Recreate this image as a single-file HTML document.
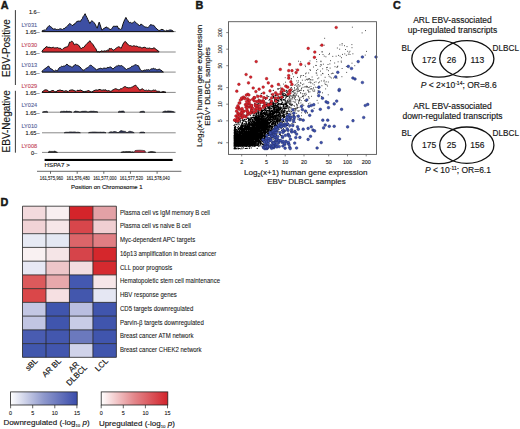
<!DOCTYPE html>
<html><head><meta charset="utf-8"><style>
html,body{margin:0;padding:0;background:#fff;}
body{width:520px;height:429px;overflow:hidden;}
svg{display:block;font-family:"Liberation Sans",sans-serif;}
text{fill:#161616;stroke:#161616;stroke-width:0.15px;}
.tk{font-size:5.4px;stroke-width:0.1px;}
.ly{font-size:5.6px;stroke-width:0.12px;}
.vt{font-size:8.5px;}
.vn{font-size:8.5px;}
.hl{font-size:6.7px;stroke-width:0.08px;}
.cl{font-size:8px;}
</style></head><body>
<svg width="520" height="429" viewBox="0 0 520 429">
<rect width="520" height="429" fill="#fff"/>
<line x1="42" y1="31.6" x2="175.7" y2="31.6" stroke="#7a7a7a" stroke-width="0.9"/>
<path d="M42.0,31.6 L42.0,30.9 L43.1,30.5 L44.3,30.0 L45.4,30.2 L46.4,29.2 L47.3,27.4 L48.2,26.7 L49.2,25.5 L50.4,26.5 L51.6,27.3 L52.8,28.9 L53.9,29.1 L55.1,28.8 L56.2,29.5 L57.5,29.4 L58.8,29.5 L59.7,28.9 L60.6,28.8 L61.5,29.1 L62.4,29.5 L63.3,28.6 L64.2,28.9 L65.3,27.5 L66.4,26.9 L67.4,26.2 L68.5,24.7 L69.6,23.5 L70.7,24.1 L71.9,25.4 L73.0,25.5 L74.0,24.0 L75.0,23.9 L76.0,22.3 L77.0,21.5 L78.1,21.1 L79.3,21.1 L80.4,21.5 L81.3,19.7 L82.3,18.7 L83.2,16.5 L84.2,15.3 L85.1,13.7 L86.0,15.8 L86.9,17.4 L87.8,19.4 L88.8,21.5 L89.8,23.5 L90.8,21.7 L91.8,20.8 L92.9,21.4 L94.1,22.7 L95.2,24.2 L96.2,26.4 L97.2,28.2 L98.2,25.1 L99.2,22.1 L100.1,24.6 L101.0,27.6 L101.9,30.2 L102.9,29.3 L104.0,28.3 L105.0,28.0 L106.0,26.8 L107.1,27.7 L108.2,27.9 L109.3,28.9 L110.8,29.6 L111.8,28.5 L112.7,27.2 L113.7,26.0 L114.9,26.4 L116.1,26.3 L117.3,26.0 L118.7,28.9 L119.7,28.7 L120.6,29.4 L121.6,28.9 L122.7,24.9 L123.8,21.7 L124.8,19.5 L125.9,17.4 L126.9,19.3 L127.8,20.4 L128.8,22.4 L129.8,22.7 L130.7,22.4 L131.7,23.2 L132.7,22.8 L133.6,22.2 L134.6,21.3 L135.6,22.2 L136.5,23.4 L137.5,23.9 L138.6,24.7 L139.6,26.0 L141.1,23.9 L142.3,25.1 L143.5,25.9 L144.7,26.8 L145.7,27.1 L146.6,27.2 L147.6,27.5 L148.6,26.9 L149.5,26.1 L150.5,24.6 L151.4,24.8 L152.4,25.2 L153.3,25.3 L154.2,25.7 L155.2,27.3 L156.1,28.2 L157.0,28.9 L158.1,30.2 L159.1,30.4 L160.1,30.4 L161.0,29.5 L162.0,29.4 L163.2,29.8 L164.4,30.7 L165.6,31.1 L166.6,30.3 L167.5,30.6 L168.5,30.4 L169.7,30.0 L170.9,30.0 L172.1,30.4 L173.5,31.4 L173.5,31.6Z" fill="#3d4fa3" stroke="#111" stroke-width="1.0" stroke-linejoin="round"/>
<text x="37.2" y="26.8" class="ly" style="fill:#56639a;stroke:#56639a" text-anchor="end">LY031</text>
<text x="39.6" y="34.1" class="ly" text-anchor="end">1.65&#8211;</text>
<line x1="42" y1="52.0" x2="175.7" y2="52.0" stroke="#7a7a7a" stroke-width="0.9"/>
<path d="M42.0,52.0 L42.0,51.5 L43.0,49.7 L44.0,48.8 L45.0,48.1 L46.0,46.8 L47.0,46.7 L48.0,47.5 L49.0,47.2 L50.0,47.4 L51.1,47.9 L52.1,47.5 L53.5,47.3 L54.8,48.1 L55.7,47.8 L56.6,47.8 L57.5,47.5 L58.4,48.1 L59.3,48.3 L60.2,48.1 L61.2,49.2 L62.2,49.5 L63.1,48.6 L64.0,48.1 L64.9,47.5 L66.2,47.0 L67.6,46.8 L68.6,44.9 L69.6,42.1 L70.5,42.4 L71.4,41.2 L72.3,41.4 L73.3,42.7 L74.3,44.8 L75.3,44.2 L76.3,44.1 L77.2,44.2 L78.1,45.0 L79.0,45.4 L80.0,47.2 L81.0,48.8 L81.9,48.1 L82.8,47.4 L83.7,47.5 L84.8,46.0 L86.0,44.6 L87.1,43.4 L88.0,42.6 L88.9,42.1 L89.8,40.7 L90.9,42.3 L92.1,43.5 L93.2,44.8 L94.1,46.3 L95.0,47.7 L95.9,48.8 L97.2,52.0 L98.1,51.5 L99.1,52.0 L100.0,52.0 L101.2,50.8 L103.0,51.4 L104.6,50.8 L106.0,51.2 L107.3,50.1 L108.5,50.8 L109.3,48.4 L110.4,48.7 L111.5,48.4 L112.9,50.2 L113.9,50.0 L114.8,49.3 L115.8,48.4 L116.8,47.7 L117.7,47.2 L118.7,46.7 L119.8,47.1 L120.9,48.4 L122.0,46.4 L123.0,44.1 L124.1,42.3 L125.2,41.5 L126.3,42.3 L127.4,44.1 L128.4,44.6 L129.5,45.8 L130.5,45.6 L131.4,46.0 L132.4,46.3 L133.4,45.8 L134.3,45.8 L135.3,46.3 L136.3,46.1 L137.2,46.3 L138.2,47.0 L139.2,47.1 L140.1,46.9 L141.1,47.7 L142.1,48.0 L143.0,47.6 L144.0,47.3 L144.9,47.3 L145.9,47.8 L146.8,48.4 L147.7,48.2 L148.7,48.3 L149.6,48.0 L150.5,48.4 L151.7,48.6 L152.8,48.5 L154.0,47.7 L155.0,48.5 L156.0,49.3 L157.0,50.2 L158.1,50.6 L159.1,52.0 L159.1,52.0Z" fill="#d22b30" stroke="#111" stroke-width="1.0" stroke-linejoin="round"/>
<text x="37.2" y="47.2" class="ly" style="fill:#c4485a;stroke:#c4485a" text-anchor="end">LY030</text>
<text x="39.6" y="54.5" class="ly" text-anchor="end">1.65&#8211;</text>
<line x1="42" y1="72.1" x2="175.7" y2="72.1" stroke="#7a7a7a" stroke-width="0.9"/>
<path d="M42.0,72.1 L42.0,71.2 L43.4,70.2 L44.7,68.7 L46.0,68.1 L46.9,67.3 L47.8,66.5 L48.7,66.1 L49.8,67.8 L50.8,68.8 L51.7,69.1 L52.6,69.6 L53.5,70.8 L54.5,71.0 L55.5,70.2 L56.5,70.5 L57.5,70.8 L58.5,68.8 L59.5,67.5 L60.5,67.2 L61.5,66.3 L62.6,66.5 L63.6,66.1 L64.7,66.0 L65.8,65.2 L66.9,64.1 L68.2,65.3 L69.6,66.1 L70.5,66.3 L71.4,66.9 L72.3,67.5 L73.2,66.1 L74.1,65.8 L75.0,64.5 L75.9,64.8 L76.8,65.4 L77.7,65.4 L78.8,66.1 L79.9,66.9 L81.0,68.1 L82.0,69.5 L83.1,70.2 L84.2,70.0 L85.3,69.2 L86.4,68.1 L87.4,67.7 L88.5,66.9 L89.5,66.0 L90.5,65.0 L91.6,65.5 L92.7,66.7 L93.8,67.5 L94.7,68.2 L95.6,68.8 L96.5,70.2 L97.6,69.1 L98.8,68.8 L99.9,68.5 L100.8,68.2 L101.8,68.6 L102.7,68.8 L103.7,68.1 L104.6,68.1 L105.7,68.3 L106.8,68.1 L107.9,67.3 L108.9,67.7 L109.8,67.0 L110.8,67.0 L111.8,67.8 L112.9,69.2 L113.9,68.1 L114.8,67.2 L115.8,66.7 L116.8,65.9 L117.7,65.9 L118.7,65.3 L119.7,65.8 L120.6,65.8 L121.6,65.5 L122.6,66.2 L123.5,67.1 L124.5,67.7 L125.5,69.0 L126.6,69.6 L127.7,68.5 L128.8,68.4 L129.8,67.9 L130.7,67.5 L131.7,66.3 L132.6,66.2 L133.5,65.8 L134.4,65.2 L135.3,64.8 L136.3,64.7 L137.2,65.6 L138.2,65.5 L139.3,67.5 L140.4,69.9 L141.3,70.5 L142.3,70.9 L143.2,70.6 L144.1,70.2 L145.0,70.0 L145.9,70.3 L146.8,69.6 L147.8,70.0 L148.7,69.6 L149.7,70.2 L150.6,69.3 L151.5,68.8 L152.4,69.1 L153.3,68.1 L154.3,68.9 L155.2,68.7 L156.2,69.6 L157.2,69.7 L158.1,69.7 L159.1,68.9 L160.1,69.8 L161.0,70.1 L162.0,71.0 L163.4,72.1 L163.4,72.1Z" fill="#3d4fa3" stroke="#111" stroke-width="1.0" stroke-linejoin="round"/>
<text x="37.2" y="67.3" class="ly" style="fill:#56639a;stroke:#56639a" text-anchor="end">LY013</text>
<text x="39.6" y="74.6" class="ly" text-anchor="end">1.65&#8211;</text>
<line x1="42" y1="92.4" x2="175.7" y2="92.4" stroke="#7a7a7a" stroke-width="0.9"/>
<path d="M42.0,92.4 L42.0,92.0 L43.0,91.3 L44.0,90.5 L45.0,89.8 L46.0,90.0 L47.0,89.9 L48.0,90.8 L49.0,91.7 L50.0,91.5 L51.0,91.2 L52.0,90.5 L53.0,90.7 L54.0,90.8 L55.0,91.8 L56.0,91.8 L57.0,91.0 L58.0,90.3 L59.0,90.5 L60.0,89.8 L61.0,90.5 L62.0,90.5 L63.0,90.7 L64.0,91.5 L65.0,90.9 L66.0,90.8 L67.0,91.0 L68.0,91.7 L69.0,90.7 L70.0,90.2 L71.0,90.1 L72.0,89.9 L73.0,90.0 L74.0,90.6 L75.0,90.9 L76.0,91.4 L77.0,90.4 L78.0,90.3 L79.0,90.6 L80.0,90.0 L81.0,90.2 L82.0,90.8 L83.0,91.3 L84.0,91.8 L85.0,91.6 L86.0,91.2 L87.0,91.3 L88.0,90.5 L89.0,90.8 L90.0,91.3 L91.0,92.1 L92.0,91.9 L93.0,91.3 L94.0,90.6 L95.0,90.3 L96.0,89.9 L97.0,90.1 L98.0,90.3 L99.0,89.4 L100.0,89.6 L101.0,89.9 L102.0,90.4 L103.0,89.9 L104.0,90.0 L105.0,90.1 L106.0,89.8 L106.9,90.9 L107.9,90.8 L108.9,90.6 L109.8,91.1 L110.8,91.3 L111.8,90.8 L112.9,89.8 L113.9,89.5 L114.8,88.9 L115.8,88.7 L116.8,89.1 L117.7,89.5 L118.7,89.8 L119.7,89.7 L120.6,88.6 L121.6,88.7 L122.5,88.2 L123.4,87.3 L124.3,86.8 L125.2,86.5 L126.2,87.3 L127.1,87.4 L128.1,87.9 L129.3,87.7 L130.5,87.7 L131.7,87.2 L132.6,87.1 L133.5,86.0 L134.4,85.7 L135.3,85.0 L136.4,86.1 L137.5,87.2 L138.6,88.7 L139.6,90.1 L140.9,89.6 L142.2,88.7 L143.4,89.5 L144.7,90.4 L145.6,90.4 L146.5,90.2 L147.4,90.7 L148.3,90.1 L149.4,90.4 L150.4,90.7 L151.5,90.8 L152.6,90.4 L153.6,90.0 L154.5,90.3 L155.5,90.1 L156.5,91.0 L157.4,91.3 L158.4,91.3 L159.5,91.4 L160.6,92.3 L162.0,92.0 L163.0,91.5 L164.0,91.8 L165.0,92.0 L166.0,92.4 L166.0,92.4Z" fill="#d22b30" stroke="#111" stroke-width="1.0" stroke-linejoin="round"/>
<text x="37.2" y="87.6" class="ly" style="fill:#c4485a;stroke:#c4485a" text-anchor="end">LY029</text>
<text x="39.6" y="94.9" class="ly" text-anchor="end">1.65&#8211;</text>
<line x1="42" y1="112.2" x2="175.7" y2="112.2" stroke="#7a7a7a" stroke-width="0.9"/>
<path d="M42.5,112.2 L42.5,112.2 L42.5,112.2 L43.9,111.6 L45.2,111.5 L46.6,111.3 L48.0,112.2 L48.0,112.2 L48.0,112.2Z" fill="#2a2f45" stroke="#111" stroke-width="0.6" stroke-linejoin="round"/>
<path d="M60.0,112.2 L60.0,112.2 L60.0,112.2 L61.3,111.4 L62.7,111.4 L64.0,111.2 L65.3,111.5 L66.7,111.1 L68.0,111.5 L69.3,111.3 L70.7,111.6 L72.0,112.2 L72.0,112.2 L72.0,112.2Z" fill="#2a2f45" stroke="#111" stroke-width="0.6" stroke-linejoin="round"/>
<path d="M73.6,112.2 L73.6,112.2 L73.6,112.2 L75.2,111.1 L76.8,111.3 L78.4,111.5 L80.0,112.2 L80.0,112.2 L80.0,112.2Z" fill="#2a2f45" stroke="#111" stroke-width="0.6" stroke-linejoin="round"/>
<path d="M80.0,112.2 L80.0,112.2 L80.0,112.2 L81.3,111.5 L82.7,111.3 L84.0,111.3 L85.3,111.2 L86.7,111.4 L88.0,112.2 L88.0,112.2 L88.0,112.2Z" fill="#2a2f45" stroke="#111" stroke-width="0.6" stroke-linejoin="round"/>
<path d="M88.0,112.2 L88.0,112.2 L88.0,112.2 L89.4,111.5 L90.9,111.2 L92.3,111.3 L93.7,111.2 L95.1,111.5 L96.6,111.5 L98.0,112.2 L98.0,112.2 L98.0,112.2Z" fill="#2a2f45" stroke="#111" stroke-width="0.6" stroke-linejoin="round"/>
<path d="M118.0,112.2 L118.0,112.2 L118.0,112.2 L119.4,111.2 L120.7,111.3 L122.1,111.1 L123.4,111.0 L124.8,112.2 L124.8,112.2 L124.8,112.2Z" fill="#2a2f45" stroke="#111" stroke-width="0.6" stroke-linejoin="round"/>
<path d="M139.6,112.2 L139.6,112.2 L139.6,112.2 L140.9,111.5 L142.3,111.3 L143.7,111.3 L145.0,112.2 L145.0,112.2 L145.0,112.2Z" fill="#2a2f45" stroke="#111" stroke-width="0.6" stroke-linejoin="round"/>
<path d="M162.5,112.2 L162.5,112.2 L162.5,112.2 L163.8,111.4 L165.2,111.0 L166.5,111.3 L167.9,110.9 L169.2,111.0 L170.6,111.1 L171.9,111.3 L173.3,111.6 L174.6,112.2 L174.6,112.2 L174.6,112.2Z" fill="#2a2f45" stroke="#111" stroke-width="0.6" stroke-linejoin="round"/>
<text x="37.2" y="107.4" class="ly" style="fill:#56639a;stroke:#56639a" text-anchor="end">LY024</text>
<text x="39.6" y="114.7" class="ly" text-anchor="end">1.65&#8211;</text>
<line x1="42" y1="132.8" x2="175.7" y2="132.8" stroke="#7a7a7a" stroke-width="0.9"/>
<path d="M64.2,132.8 L64.2,132.8 L64.2,132.8 L65.5,132.3 L66.9,132.2 L68.2,132.3 L69.6,131.9 L71.0,131.9 L72.3,132.0 L73.7,131.9 L75.0,131.9 L76.4,132.3 L77.7,132.2 L79.1,132.3 L80.4,132.8 L80.4,132.8 L80.4,132.8Z" fill="#2e3558" stroke="#111" stroke-width="0.6" stroke-linejoin="round"/>
<path d="M88.5,132.8 L88.5,132.8 L88.5,132.8 L89.8,132.3 L91.2,132.2 L92.5,132.0 L93.9,132.0 L95.2,132.0 L96.6,132.1 L97.9,132.2 L99.3,132.2 L100.6,132.1 L102.0,132.3 L103.3,132.1 L104.7,132.3 L106.0,132.8 L106.0,132.8 L106.0,132.8Z" fill="#2e3558" stroke="#111" stroke-width="0.6" stroke-linejoin="round"/>
<path d="M108.7,132.8 L108.7,132.8 L108.7,132.8 L110.0,131.9 L111.4,131.8 L112.7,132.0 L114.0,131.5 L115.3,131.6 L116.7,132.0 L118.0,132.8 L118.0,132.8 L118.0,132.8Z" fill="#2e3558" stroke="#111" stroke-width="0.6" stroke-linejoin="round"/>
<path d="M118.0,132.8 L118.0,132.8 L118.0,132.8 L119.5,131.6 L121.0,130.5 L122.5,130.9 L124.0,131.3 L125.5,131.4 L127.0,132.8 L127.0,132.8 L127.0,132.8Z" fill="#2e3558" stroke="#111" stroke-width="0.6" stroke-linejoin="round"/>
<path d="M127.0,132.8 L127.0,132.8 L127.0,132.8 L128.4,131.7 L129.9,131.2 L131.3,131.6 L132.8,131.9 L134.2,132.8 L134.2,132.8 L134.2,132.8Z" fill="#2e3558" stroke="#111" stroke-width="0.6" stroke-linejoin="round"/>
<path d="M139.6,132.8 L139.6,132.8 L139.6,132.8 L140.9,132.1 L142.3,132.1 L143.7,132.1 L145.0,132.8 L145.0,132.8 L145.0,132.8Z" fill="#2e3558" stroke="#111" stroke-width="0.6" stroke-linejoin="round"/>
<text x="37.2" y="128.0" class="ly" style="fill:#56639a;stroke:#56639a" text-anchor="end">LY010</text>
<text x="39.6" y="135.3" class="ly" text-anchor="end">1.65&#8211;</text>
<line x1="42" y1="152.4" x2="175.7" y2="152.4" stroke="#7a7a7a" stroke-width="0.9"/>
<path d="M48.0,152.4 L48.0,152.4 L48.0,152.4 L49.4,151.3 L50.7,151.4 L52.1,151.4 L53.4,151.4 L54.8,151.1 L56.1,151.7 L57.5,152.4 L57.5,152.4 L57.5,152.4Z" fill="#222222" stroke="#111" stroke-width="0.6" stroke-linejoin="round"/>
<path d="M120.8,152.4 L120.8,152.4 L120.8,152.4 L122.1,151.9 L123.5,151.6 L124.8,151.8 L126.2,151.5 L127.5,151.6 L128.8,151.5 L130.2,151.6 L131.5,151.9 L132.9,151.8 L134.2,152.4 L134.2,152.4 L134.2,152.4Z" fill="#222222" stroke="#111" stroke-width="0.6" stroke-linejoin="round"/>
<path d="M148.0,152.4 L148.0,152.4 L148.0,152.4 L149.3,151.9 L150.6,151.6 L151.9,151.6 L153.2,151.7 L154.5,151.9 L155.8,152.4 L155.8,152.4 L155.8,152.4Z" fill="#222222" stroke="#111" stroke-width="0.6" stroke-linejoin="round"/>
<text x="37.2" y="147.6" class="ly" style="fill:#c4485a;stroke:#c4485a" text-anchor="end">LY008</text>
<text x="37.2" y="154.9" class="ly" text-anchor="end">0&#8211;</text>
<path d="M134.2,152.4 L134.2,152.4 L135.0,150.6 L137.0,150.3 L140.0,150.2 L143.0,150.4 L145.0,150.8 L145.6,152.4 L145.6,152.4Z" fill="#b8283a" stroke="#222" stroke-width="0.6" stroke-linejoin="round"/>
<text x="39.8" y="14.1" class="ly" text-anchor="end">1.6&#8211;</text>
<rect x="44.6" y="158.9" width="128" height="2.1" fill="#000"/>
<text x="44.6" y="167.1" style="font-size:6.2px">HSPA7 &gt;</text>
<line x1="37" y1="171.3" x2="181.4" y2="171.3" stroke="#444" stroke-width="0.8"/>
<line x1="50.5" y1="171.3" x2="50.5" y2="173.8" stroke="#444" stroke-width="0.8"/>
<text transform="translate(51.5,179.5) scale(1,1.25)" text-anchor="middle" style="font-size:4.2px;stroke-width:0.08px">161,575,960</text>
<line x1="77.2" y1="171.3" x2="77.2" y2="173.8" stroke="#444" stroke-width="0.8"/>
<text transform="translate(78.2,179.5) scale(1,1.25)" text-anchor="middle" style="font-size:4.2px;stroke-width:0.08px">161,576,480</text>
<line x1="103.8" y1="171.3" x2="103.8" y2="173.8" stroke="#444" stroke-width="0.8"/>
<text transform="translate(104.8,179.5) scale(1,1.25)" text-anchor="middle" style="font-size:4.2px;stroke-width:0.08px">161,577,000</text>
<line x1="130.4" y1="171.3" x2="130.4" y2="173.8" stroke="#444" stroke-width="0.8"/>
<text transform="translate(131.4,179.5) scale(1,1.25)" text-anchor="middle" style="font-size:4.2px;stroke-width:0.08px">161,577,520</text>
<line x1="157.1" y1="171.3" x2="157.1" y2="173.8" stroke="#444" stroke-width="0.8"/>
<text transform="translate(158.1,179.5) scale(1,1.25)" text-anchor="middle" style="font-size:4.2px;stroke-width:0.08px">161,578,040</text>
<text x="106.8" y="188.8" text-anchor="middle" style="font-size:5.95px">Position on Chromosome 1</text>
<line x1="15.4" y1="10.1" x2="15.4" y2="85" stroke="#222" stroke-width="0.9"/>
<line x1="15.4" y1="90.8" x2="15.4" y2="152.7" stroke="#222" stroke-width="0.9"/>
<text transform="translate(10,48) rotate(-90)" text-anchor="middle" style="font-size:10px">EBV-Positive</text>
<text transform="translate(10,121.3) rotate(-90)" text-anchor="middle" style="font-size:10px">EBV-Negative</text>
<text x="0.8" y="8.9" style="font-size:10.8px;font-weight:bold;stroke-width:0.45px">A</text>
<text x="195.4" y="9.2" style="font-size:10.8px;font-weight:bold;stroke-width:0.45px">B</text>
<path d="M282.2 115.2h0.01M240.4 141.5h0.01M234.5 140.9h0.01M238.2 142.2h0.01M234.1 145.9h0.01M249.2 131.8h0.01M251.3 133.4h0.01M251.4 134.4h0.01M235.6 145.3h0.01M235.4 132.5h0.01M253.7 140.2h0.01M256.7 129.4h0.01M264.1 105.5h0.01M285.5 104.5h0.01M236.9 134.3h0.01M254.7 120.5h0.01M234.5 143.2h0.01M245.5 129.8h0.01M272.7 126.4h0.01M245.4 142.4h0.01M241.9 129.1h0.01M234.4 144.2h0.01M253.8 127.8h0.01M263.5 139.4h0.01M235.4 140.4h0.01M286.7 104.9h0.01M278.6 103.7h0.01M234.3 144.0h0.01M235.3 142.1h0.01M258.1 140.9h0.01M257.9 107.3h0.01M275.1 119.7h0.01M250.8 142.7h0.01M243.8 145.3h0.01M271.1 108.3h0.01M236.9 141.5h0.01M234.3 143.0h0.01M263.1 127.0h0.01M259.4 110.3h0.01M254.9 127.7h0.01M239.2 136.0h0.01M244.8 142.8h0.01M250.1 145.4h0.01M258.1 138.4h0.01M235.0 138.4h0.01M246.3 133.4h0.01M239.9 146.3h0.01M253.8 145.5h0.01M244.5 130.6h0.01M251.7 129.2h0.01M242.2 143.9h0.01M243.2 141.1h0.01M273.5 123.9h0.01M251.3 127.2h0.01M242.7 136.3h0.01M285.8 101.1h0.01M252.1 129.2h0.01M243.1 144.1h0.01M236.1 138.8h0.01M266.4 132.2h0.01M244.7 144.2h0.01M257.8 103.9h0.01M259.4 109.5h0.01M283.9 114.6h0.01M235.8 132.4h0.01M240.6 139.0h0.01M245.4 145.5h0.01M250.1 131.0h0.01M234.2 148.1h0.01M234.6 141.0h0.01M239.4 145.4h0.01M259.5 127.4h0.01M251.1 136.8h0.01M264.3 116.3h0.01M281.5 119.6h0.01M265.4 128.4h0.01M235.2 141.5h0.01M263.5 120.7h0.01M252.0 135.1h0.01M258.8 117.6h0.01M262.4 134.3h0.01M253.5 115.2h0.01M279.0 104.0h0.01M263.2 126.4h0.01M275.7 98.1h0.01M235.4 135.8h0.01M235.0 141.6h0.01M234.8 135.8h0.01M234.9 141.1h0.01M248.2 139.8h0.01M258.8 103.6h0.01M240.7 129.5h0.01M242.8 142.5h0.01M274.2 111.3h0.01M258.1 135.2h0.01M252.1 125.8h0.01M262.8 119.9h0.01M252.2 144.6h0.01M253.1 134.3h0.01M240.2 140.8h0.01M263.8 138.3h0.01M255.1 120.6h0.01M246.2 142.5h0.01M235.4 145.3h0.01M250.4 131.8h0.01M234.6 144.8h0.01M247.5 135.7h0.01M266.7 104.5h0.01M250.1 107.1h0.01M269.9 123.1h0.01M275.6 127.5h0.01M251.0 138.2h0.01M256.7 137.7h0.01M250.4 140.6h0.01M252.1 131.4h0.01M262.3 135.6h0.01M242.9 142.8h0.01M266.8 121.0h0.01M249.2 138.8h0.01M239.9 143.9h0.01M240.8 142.4h0.01M249.9 141.5h0.01M257.7 121.8h0.01M272.4 132.8h0.01M263.0 116.3h0.01M238.8 132.7h0.01M279.7 119.7h0.01M235.1 136.0h0.01M239.8 137.8h0.01M261.5 137.9h0.01M240.6 128.4h0.01M271.8 121.2h0.01M283.2 116.9h0.01M240.3 143.0h0.01M242.3 138.6h0.01M244.8 144.4h0.01M254.6 138.6h0.01M245.9 128.6h0.01M247.6 118.3h0.01M263.3 120.8h0.01M240.8 135.2h0.01M241.5 125.4h0.01M238.7 145.5h0.01M265.0 130.6h0.01M256.9 111.0h0.01M244.0 141.0h0.01M243.5 128.5h0.01M241.0 142.4h0.01M234.1 137.7h0.01M263.9 127.9h0.01M253.5 142.0h0.01M238.0 143.0h0.01M274.0 121.0h0.01M286.7 106.5h0.01M273.2 118.6h0.01M267.9 115.9h0.01M257.2 130.7h0.01M270.6 113.8h0.01M242.4 139.2h0.01M273.7 122.9h0.01M273.4 117.7h0.01M256.2 122.4h0.01M239.4 128.5h0.01M260.6 142.7h0.01M244.6 129.8h0.01M248.3 129.8h0.01M239.1 143.4h0.01M278.0 126.4h0.01M267.4 106.1h0.01M244.3 139.0h0.01M255.2 145.6h0.01M248.7 133.2h0.01M252.5 125.7h0.01M255.9 127.7h0.01M235.4 130.6h0.01M238.9 142.6h0.01M234.8 132.3h0.01M271.8 134.7h0.01M244.6 124.1h0.01M261.6 119.8h0.01M261.1 114.8h0.01M235.5 137.2h0.01M274.9 119.5h0.01M235.5 134.8h0.01M258.6 116.3h0.01M249.8 139.3h0.01M243.8 139.0h0.01M258.1 145.7h0.01M242.0 138.6h0.01M278.9 110.0h0.01M234.4 146.0h0.01M245.3 134.3h0.01M234.5 140.2h0.01M256.8 133.9h0.01M238.0 147.7h0.01M250.9 144.1h0.01M279.6 114.3h0.01M235.4 138.5h0.01M254.8 140.8h0.01M263.2 133.9h0.01M271.0 130.6h0.01M252.7 140.7h0.01M287.4 100.9h0.01M261.1 133.0h0.01M235.0 141.0h0.01M240.9 137.2h0.01M265.5 123.5h0.01M272.7 120.4h0.01M282.2 104.3h0.01M273.3 117.7h0.01M249.3 141.1h0.01M258.4 128.9h0.01M247.3 136.8h0.01M234.3 144.3h0.01M239.9 135.7h0.01M237.7 140.8h0.01M273.9 106.8h0.01M282.6 109.9h0.01M280.3 104.0h0.01M248.6 125.1h0.01M259.2 126.8h0.01M277.7 102.0h0.01M259.5 118.8h0.01M246.1 140.4h0.01M246.6 133.8h0.01M234.5 145.7h0.01M260.2 125.8h0.01M254.6 132.3h0.01M261.5 133.0h0.01M246.9 133.7h0.01M259.7 126.5h0.01M248.6 144.3h0.01M244.5 146.2h0.01M235.4 145.4h0.01M241.7 132.7h0.01M245.4 131.9h0.01M234.9 140.3h0.01M254.8 118.5h0.01M255.2 141.5h0.01M235.4 144.2h0.01M250.0 119.1h0.01M257.6 118.0h0.01M253.7 142.9h0.01M242.5 141.8h0.01M268.7 123.7h0.01M243.0 126.7h0.01M260.0 144.8h0.01M238.5 136.6h0.01M257.3 145.4h0.01M274.2 111.2h0.01M260.2 143.5h0.01M250.4 137.5h0.01M286.5 120.1h0.01M235.3 130.4h0.01M280.3 122.9h0.01M242.7 128.7h0.01M241.9 139.3h0.01M246.8 135.1h0.01M240.8 133.5h0.01M284.3 126.1h0.01M255.8 130.0h0.01M266.8 120.7h0.01M274.4 101.2h0.01M263.2 130.0h0.01M280.0 105.9h0.01M247.7 139.5h0.01M234.1 146.2h0.01M234.5 145.1h0.01M255.3 138.0h0.01M259.9 130.8h0.01M244.7 139.9h0.01M269.2 128.5h0.01M242.0 144.8h0.01M256.8 127.7h0.01M245.6 129.3h0.01M259.0 128.2h0.01M265.8 124.0h0.01M238.3 141.8h0.01M270.6 118.3h0.01M254.1 138.4h0.01M237.5 143.5h0.01M240.6 140.6h0.01M280.4 97.4h0.01M239.6 135.8h0.01M273.8 114.5h0.01M256.8 124.0h0.01M237.7 144.8h0.01M250.7 129.6h0.01M268.2 123.6h0.01M247.9 129.8h0.01M267.8 134.9h0.01M240.6 122.0h0.01M259.9 123.0h0.01M250.4 138.6h0.01M246.0 145.8h0.01M251.3 139.4h0.01M263.3 144.7h0.01M255.1 124.5h0.01M249.4 145.9h0.01M234.8 144.8h0.01M236.2 143.0h0.01M254.7 137.5h0.01M270.8 111.6h0.01M273.7 113.3h0.01M234.3 146.0h0.01M247.6 129.1h0.01M271.3 125.7h0.01M253.3 128.5h0.01M239.7 133.9h0.01M272.2 107.7h0.01M253.8 135.1h0.01M262.2 130.2h0.01M238.0 136.2h0.01M265.5 124.8h0.01M253.1 125.0h0.01M246.5 132.9h0.01M265.9 132.5h0.01M242.7 135.0h0.01M243.2 137.7h0.01M252.1 140.6h0.01M247.0 141.4h0.01M275.7 138.4h0.01M245.4 142.1h0.01M264.7 109.4h0.01M265.7 132.7h0.01M250.7 140.5h0.01M267.4 103.9h0.01M265.7 116.8h0.01M237.3 138.2h0.01M241.2 139.8h0.01M252.7 131.0h0.01M266.6 114.5h0.01M255.9 127.9h0.01M276.9 125.2h0.01M241.0 140.4h0.01M252.4 130.8h0.01M246.9 135.5h0.01M234.8 148.8h0.01M280.4 134.2h0.01M263.6 110.5h0.01M254.8 131.7h0.01M234.5 132.7h0.01M250.3 127.4h0.01M268.8 130.8h0.01M251.4 135.8h0.01M249.2 134.6h0.01M260.3 139.7h0.01M237.2 146.2h0.01M246.3 128.0h0.01M252.9 126.7h0.01M247.0 140.6h0.01M278.6 118.8h0.01M285.1 101.1h0.01M234.6 148.6h0.01M259.6 132.3h0.01M239.2 137.8h0.01M244.0 142.8h0.01M278.7 109.7h0.01M234.4 128.0h0.01M268.6 126.4h0.01M263.2 130.2h0.01M287.9 129.7h0.01M234.1 148.5h0.01M240.7 139.8h0.01M254.9 133.6h0.01M266.9 121.1h0.01M245.2 132.9h0.01M245.7 140.1h0.01M260.4 131.4h0.01M261.0 121.8h0.01M261.8 115.0h0.01M263.3 119.3h0.01M241.7 131.3h0.01M234.9 142.5h0.01M253.8 126.2h0.01M256.7 134.3h0.01M249.7 133.2h0.01M262.0 117.1h0.01M247.6 134.8h0.01M259.2 124.2h0.01M250.2 128.3h0.01M281.0 93.3h0.01M251.3 135.3h0.01M263.7 125.5h0.01M246.1 129.9h0.01M247.3 142.1h0.01M234.4 144.1h0.01M264.3 125.1h0.01M253.3 136.0h0.01M240.6 146.2h0.01M259.6 128.7h0.01M268.7 124.0h0.01M266.5 126.1h0.01M256.0 119.6h0.01M245.9 136.9h0.01M268.2 133.1h0.01M246.3 138.9h0.01M234.9 141.2h0.01M245.5 144.4h0.01M268.8 130.2h0.01M237.4 145.8h0.01M273.6 107.9h0.01M241.1 143.6h0.01M235.3 140.7h0.01M249.4 134.5h0.01M253.9 145.9h0.01M247.5 144.4h0.01M235.0 136.2h0.01M234.2 144.3h0.01M255.3 139.6h0.01M259.6 132.5h0.01M247.6 144.8h0.01M261.9 129.9h0.01M247.5 124.5h0.01M235.5 147.8h0.01M237.7 138.8h0.01M287.2 95.7h0.01M268.1 126.6h0.01M235.4 138.6h0.01M273.5 118.6h0.01M265.2 120.2h0.01M234.6 140.2h0.01M259.1 128.9h0.01M260.0 137.2h0.01M238.2 141.0h0.01M238.9 143.2h0.01M235.0 142.7h0.01M257.5 138.3h0.01M249.1 145.0h0.01M247.2 141.5h0.01M263.8 117.9h0.01M238.9 128.6h0.01M235.3 142.2h0.01M271.0 117.2h0.01M242.5 123.6h0.01M260.4 120.6h0.01M284.4 117.3h0.01M236.6 133.0h0.01M254.9 123.7h0.01M276.9 110.5h0.01M279.6 104.2h0.01M284.5 110.2h0.01M267.8 134.2h0.01M267.1 118.0h0.01M239.2 138.1h0.01M263.9 118.1h0.01M237.7 127.6h0.01M271.3 126.6h0.01M266.3 126.5h0.01M243.8 134.0h0.01M237.4 140.3h0.01M270.7 119.3h0.01M234.6 141.4h0.01M234.1 136.5h0.01M248.1 141.4h0.01M274.3 103.4h0.01M261.9 129.3h0.01M236.3 142.9h0.01M235.1 127.5h0.01M235.1 134.9h0.01M242.3 139.3h0.01M235.4 144.1h0.01M251.3 138.0h0.01M265.6 99.5h0.01M247.0 140.4h0.01M234.5 132.6h0.01M247.0 129.2h0.01M257.2 123.9h0.01M261.8 131.9h0.01M254.1 110.0h0.01M264.9 118.8h0.01M249.1 133.8h0.01M262.5 135.4h0.01M234.6 141.3h0.01M248.3 128.2h0.01M243.6 137.7h0.01M277.6 115.4h0.01M251.7 131.5h0.01M280.9 113.8h0.01M235.2 142.8h0.01M251.2 137.3h0.01M240.5 138.6h0.01M266.2 114.7h0.01M264.1 119.5h0.01M234.7 138.2h0.01M278.0 109.9h0.01M236.0 139.6h0.01M250.0 143.6h0.01M273.2 113.5h0.01M259.3 130.7h0.01M250.4 136.2h0.01M250.7 131.9h0.01M252.3 132.6h0.01M256.2 123.4h0.01M245.5 142.2h0.01M235.6 144.3h0.01M276.3 108.8h0.01M268.4 118.3h0.01M267.6 120.0h0.01M255.6 132.7h0.01M239.8 139.8h0.01M281.5 123.6h0.01M277.1 111.0h0.01M266.5 118.3h0.01M238.1 137.6h0.01M260.2 121.4h0.01M238.5 140.8h0.01M245.3 134.0h0.01M253.7 119.0h0.01M270.9 128.4h0.01M247.8 138.1h0.01M235.7 133.7h0.01M240.4 139.9h0.01M272.6 115.0h0.01M248.5 134.0h0.01M235.4 143.6h0.01M262.1 129.5h0.01M263.3 133.1h0.01M269.2 116.8h0.01M263.6 115.0h0.01M257.0 125.2h0.01M254.8 137.8h0.01M257.7 143.2h0.01M261.6 118.5h0.01M250.9 133.4h0.01M242.9 133.5h0.01M277.2 128.7h0.01M274.6 125.3h0.01M241.6 129.8h0.01M262.1 138.5h0.01M234.4 141.2h0.01M245.4 142.0h0.01M261.2 131.7h0.01M246.0 142.3h0.01M272.5 120.2h0.01M276.7 113.1h0.01M235.5 146.2h0.01M240.2 146.3h0.01M249.9 145.1h0.01M268.9 122.8h0.01M237.7 142.1h0.01M251.8 141.3h0.01M267.1 129.3h0.01M256.6 130.1h0.01M240.7 134.7h0.01M281.6 99.8h0.01M239.9 142.9h0.01M254.6 136.9h0.01M234.4 144.6h0.01M241.2 138.6h0.01M235.4 142.2h0.01M284.8 115.8h0.01M265.5 132.6h0.01M251.2 133.3h0.01M280.5 109.4h0.01M247.8 133.7h0.01M250.5 121.6h0.01M285.0 110.3h0.01M240.8 137.3h0.01M253.6 140.6h0.01M237.8 145.6h0.01M270.5 117.6h0.01M255.3 136.7h0.01M234.8 139.2h0.01M256.1 127.4h0.01M285.7 94.1h0.01M253.4 126.7h0.01M263.9 122.2h0.01M260.5 118.6h0.01M246.5 143.1h0.01M259.9 123.6h0.01M238.6 142.2h0.01M282.0 122.6h0.01M236.5 129.9h0.01M263.0 135.8h0.01M264.5 120.7h0.01M264.2 116.9h0.01M272.4 122.9h0.01M235.3 139.5h0.01M267.0 95.4h0.01M235.2 137.7h0.01M261.7 136.9h0.01M267.1 112.3h0.01M253.8 143.9h0.01M277.0 123.8h0.01M235.1 148.8h0.01M266.0 144.3h0.01M251.6 143.8h0.01M251.8 131.4h0.01M254.7 136.4h0.01M266.0 137.3h0.01M236.9 144.4h0.01M239.1 140.5h0.01M255.7 130.7h0.01M260.2 130.4h0.01M235.4 143.9h0.01M234.5 140.0h0.01M237.6 142.2h0.01M255.9 128.7h0.01M235.2 144.9h0.01M239.9 139.7h0.01M254.5 132.7h0.01M234.2 139.4h0.01M234.3 137.7h0.01M236.8 138.1h0.01M242.1 138.5h0.01M245.5 145.2h0.01M276.5 112.4h0.01M254.1 141.5h0.01M247.2 125.6h0.01M250.8 123.7h0.01M274.0 96.9h0.01M256.1 142.4h0.01M277.0 130.3h0.01M256.6 143.7h0.01M234.8 145.1h0.01M254.0 145.4h0.01M244.3 133.5h0.01M248.1 132.4h0.01M235.4 140.2h0.01M271.6 131.7h0.01M244.4 127.3h0.01M240.4 137.2h0.01M248.0 128.8h0.01M262.5 136.8h0.01M235.3 143.7h0.01M287.2 106.2h0.01M255.0 139.9h0.01M253.2 128.1h0.01M234.9 120.1h0.01M265.6 114.0h0.01M286.0 124.8h0.01M267.4 131.3h0.01M249.1 135.3h0.01M242.6 134.0h0.01M239.6 139.1h0.01M261.6 113.1h0.01M260.2 136.9h0.01M263.5 129.7h0.01M246.5 140.0h0.01M241.1 137.2h0.01M259.0 136.2h0.01M246.5 142.2h0.01M242.5 122.7h0.01M235.5 145.7h0.01M262.0 127.6h0.01M256.5 123.6h0.01M256.2 116.5h0.01M256.2 131.8h0.01M277.7 127.8h0.01M263.5 127.4h0.01M259.5 120.5h0.01M265.8 125.1h0.01M272.2 101.6h0.01M260.0 134.4h0.01M235.1 133.3h0.01M242.9 139.8h0.01M274.8 112.7h0.01M260.2 112.0h0.01M235.5 135.8h0.01M240.9 135.0h0.01M257.3 118.9h0.01M263.5 122.9h0.01M254.8 113.7h0.01M261.2 113.5h0.01M271.3 129.1h0.01M236.6 145.5h0.01M251.1 135.7h0.01M267.1 112.7h0.01M280.2 97.1h0.01M246.8 132.5h0.01M281.4 125.9h0.01M273.8 115.0h0.01M235.2 143.4h0.01M239.2 137.0h0.01M262.6 114.7h0.01M238.1 141.8h0.01M273.3 139.7h0.01M268.6 122.7h0.01M248.7 118.5h0.01M255.4 136.1h0.01M277.6 98.3h0.01M253.1 143.5h0.01M272.9 137.8h0.01M275.0 110.7h0.01M254.2 135.3h0.01M262.0 136.6h0.01M244.2 138.8h0.01M260.2 132.2h0.01M252.7 140.8h0.01M240.6 138.5h0.01M281.7 135.5h0.01M253.5 130.4h0.01M256.4 137.7h0.01M278.0 112.7h0.01M259.9 141.5h0.01M246.4 134.2h0.01M249.5 134.4h0.01M264.8 121.0h0.01M254.7 137.7h0.01M241.9 139.3h0.01M250.5 134.2h0.01M240.3 131.0h0.01M250.9 128.8h0.01M242.5 146.2h0.01M284.6 108.8h0.01M256.1 115.2h0.01M240.1 136.6h0.01M234.7 140.1h0.01M275.1 111.5h0.01M238.2 145.6h0.01M278.5 88.9h0.01M244.3 141.0h0.01M257.2 129.6h0.01M258.6 131.7h0.01M258.6 130.6h0.01M243.9 126.2h0.01M276.7 112.4h0.01M235.5 148.5h0.01M258.3 112.7h0.01M240.6 142.6h0.01M247.9 123.7h0.01M246.8 135.8h0.01M261.5 120.5h0.01M254.1 123.9h0.01M235.2 145.0h0.01M262.1 127.9h0.01M235.1 143.3h0.01M277.9 107.8h0.01M254.3 144.9h0.01M264.7 122.7h0.01M267.6 127.1h0.01M281.5 108.2h0.01M261.5 130.6h0.01M235.1 140.8h0.01M251.5 130.4h0.01M283.1 114.4h0.01M241.4 140.4h0.01M258.2 120.2h0.01M257.9 135.8h0.01M247.4 132.2h0.01M245.2 144.8h0.01M237.3 139.4h0.01M235.3 140.4h0.01M237.4 145.7h0.01M242.0 145.6h0.01M246.4 139.4h0.01M246.6 123.1h0.01M264.4 120.0h0.01M235.1 137.5h0.01M264.2 119.9h0.01M234.5 143.0h0.01M239.6 134.4h0.01M280.2 109.5h0.01M283.1 120.5h0.01M234.4 141.9h0.01M258.1 133.1h0.01M264.7 123.6h0.01M235.3 131.1h0.01M256.0 140.9h0.01M281.4 112.3h0.01M256.5 114.0h0.01M260.9 134.7h0.01M246.3 137.6h0.01M273.3 119.1h0.01M250.7 145.9h0.01M253.8 127.6h0.01M235.8 146.1h0.01M256.1 141.1h0.01M240.8 144.0h0.01M251.0 134.0h0.01M236.1 145.9h0.01M250.9 132.9h0.01M246.6 137.3h0.01M256.1 129.1h0.01M235.1 142.6h0.01M258.2 130.8h0.01M238.6 139.8h0.01M268.8 127.9h0.01M247.0 143.6h0.01M234.1 137.5h0.01M254.0 135.9h0.01M243.4 141.4h0.01M250.6 132.6h0.01M256.3 130.6h0.01M247.2 144.4h0.01M260.8 127.4h0.01M256.3 134.8h0.01M266.5 120.5h0.01M242.7 143.8h0.01M240.2 139.3h0.01M248.1 130.8h0.01M242.3 144.6h0.01M237.6 144.0h0.01M238.3 143.7h0.01M263.4 118.4h0.01M242.9 141.5h0.01M241.4 138.2h0.01M235.3 144.8h0.01M246.7 141.1h0.01M241.9 139.4h0.01M268.7 132.3h0.01M244.5 135.9h0.01M250.2 145.0h0.01M256.7 145.2h0.01M234.5 147.8h0.01M277.9 139.8h0.01M278.8 115.4h0.01M252.8 133.9h0.01M241.7 130.4h0.01M254.7 138.1h0.01M243.9 124.1h0.01M256.9 137.0h0.01M234.5 134.5h0.01M260.5 142.1h0.01M270.0 116.0h0.01M238.2 145.3h0.01M244.4 139.1h0.01M250.8 119.7h0.01M267.9 110.6h0.01M250.2 129.1h0.01M261.6 126.2h0.01M273.2 113.7h0.01M249.9 128.3h0.01M268.7 108.6h0.01M262.8 129.0h0.01M251.2 113.3h0.01M257.7 140.0h0.01M242.7 134.7h0.01M235.5 142.7h0.01M243.5 136.0h0.01M235.0 145.9h0.01M252.5 136.8h0.01M234.9 131.4h0.01M252.5 125.8h0.01M261.0 134.5h0.01M258.6 129.9h0.01M236.1 148.0h0.01M266.2 135.1h0.01M262.6 113.7h0.01M235.2 140.6h0.01M256.7 123.6h0.01M242.0 140.8h0.01M279.9 88.5h0.01M262.0 130.5h0.01M252.3 130.1h0.01M244.7 143.3h0.01M241.0 134.7h0.01M249.9 144.6h0.01M241.9 137.1h0.01M284.2 121.8h0.01M279.3 108.0h0.01M234.5 142.1h0.01M235.2 135.6h0.01M263.7 124.5h0.01M276.9 112.5h0.01M265.9 122.3h0.01M242.9 143.3h0.01M255.2 122.3h0.01M248.0 142.9h0.01M266.0 113.5h0.01M258.1 120.7h0.01M248.5 133.5h0.01M265.9 130.6h0.01M246.0 122.0h0.01M239.2 140.0h0.01M286.8 92.1h0.01M264.5 127.0h0.01M271.4 126.5h0.01M261.8 117.0h0.01M264.6 117.8h0.01M260.3 143.5h0.01M247.0 128.4h0.01M255.8 133.7h0.01M234.7 141.5h0.01M261.9 123.3h0.01M263.9 128.8h0.01M234.9 141.3h0.01M267.2 126.7h0.01M274.7 107.8h0.01M258.5 137.4h0.01M265.7 139.3h0.01M244.5 137.9h0.01M257.0 121.4h0.01M242.0 146.0h0.01M254.0 126.0h0.01M253.9 132.9h0.01M235.2 144.0h0.01M272.2 124.3h0.01M264.4 131.7h0.01M259.3 125.7h0.01M242.9 137.5h0.01M234.2 146.1h0.01M266.7 120.0h0.01M247.5 125.4h0.01M268.0 130.2h0.01M243.4 141.4h0.01M248.6 136.0h0.01M256.2 135.0h0.01M270.1 113.1h0.01M275.3 126.0h0.01M266.8 124.4h0.01M253.9 133.1h0.01M257.1 128.8h0.01M234.2 142.5h0.01M276.8 121.4h0.01M238.5 142.5h0.01M264.7 126.1h0.01M261.0 133.1h0.01M258.5 117.4h0.01M234.0 125.4h0.01M235.0 145.4h0.01M240.3 142.1h0.01M253.0 135.2h0.01M263.9 121.7h0.01M286.6 104.5h0.01M274.9 128.3h0.01M234.9 143.9h0.01M235.8 129.4h0.01M251.3 136.1h0.01M256.5 140.9h0.01M248.5 131.0h0.01M269.9 121.9h0.01M256.8 119.5h0.01M267.6 126.8h0.01M254.8 123.1h0.01M260.5 128.6h0.01M242.6 132.6h0.01M281.2 103.6h0.01M234.6 145.9h0.01M284.8 99.2h0.01M270.8 116.5h0.01M276.2 121.6h0.01M235.5 145.6h0.01M257.6 134.2h0.01M273.7 122.8h0.01M240.6 144.5h0.01M237.8 138.2h0.01M255.7 110.1h0.01M243.3 130.8h0.01M234.4 148.2h0.01M249.5 128.3h0.01M241.4 141.2h0.01M256.1 127.1h0.01M234.7 132.7h0.01M243.9 142.3h0.01M252.3 130.9h0.01M268.8 118.5h0.01M250.6 134.7h0.01M234.5 134.8h0.01M255.4 132.6h0.01M234.2 145.4h0.01M237.4 145.8h0.01M247.0 135.9h0.01M261.4 128.6h0.01M261.4 139.4h0.01M235.1 142.5h0.01M239.0 144.8h0.01M243.9 142.7h0.01M234.2 144.2h0.01M254.7 141.5h0.01M258.4 125.9h0.01M249.1 133.5h0.01M270.3 125.7h0.01M268.9 112.8h0.01M235.2 133.2h0.01M245.7 134.2h0.01M262.6 125.8h0.01M260.6 117.9h0.01M266.0 120.0h0.01M234.1 140.8h0.01M278.9 107.2h0.01M250.3 115.6h0.01M259.9 127.2h0.01M278.6 107.1h0.01M249.8 144.1h0.01M245.5 137.4h0.01M267.7 137.2h0.01M250.7 141.5h0.01M280.5 108.5h0.01M283.8 104.1h0.01M260.5 132.1h0.01M258.9 126.1h0.01M276.5 107.0h0.01M240.7 145.0h0.01M243.5 139.3h0.01M267.2 123.0h0.01M259.4 122.0h0.01M271.5 94.3h0.01M245.7 140.9h0.01M244.3 144.5h0.01M250.1 142.1h0.01M263.6 135.3h0.01M234.5 131.1h0.01M254.0 143.7h0.01M253.1 127.9h0.01M251.6 133.3h0.01M287.8 113.5h0.01M235.0 148.6h0.01M249.9 138.0h0.01M245.0 125.5h0.01M234.7 143.3h0.01M250.5 140.7h0.01M273.4 114.4h0.01M257.8 133.3h0.01M263.5 119.5h0.01M276.8 103.0h0.01M274.7 99.4h0.01M257.4 121.9h0.01M238.2 134.4h0.01M264.6 136.6h0.01M282.4 116.1h0.01M254.7 123.3h0.01M257.7 142.8h0.01M239.4 138.1h0.01M269.6 105.7h0.01M243.7 145.7h0.01M246.8 146.1h0.01M269.5 120.4h0.01M265.9 118.0h0.01M235.0 139.3h0.01M260.0 122.2h0.01M269.7 123.6h0.01M271.1 130.6h0.01M253.5 131.9h0.01M281.6 107.3h0.01M234.1 140.7h0.01M246.0 131.2h0.01M235.5 144.3h0.01M272.1 120.7h0.01M257.6 135.9h0.01M277.4 118.3h0.01M235.0 138.5h0.01M243.8 130.0h0.01M258.7 124.0h0.01M272.2 128.7h0.01M237.0 124.8h0.01M260.5 119.4h0.01M278.6 101.2h0.01M287.7 96.5h0.01M240.7 137.4h0.01M234.8 135.3h0.01M246.4 144.7h0.01M261.5 120.8h0.01M234.8 141.6h0.01M241.7 141.1h0.01M236.9 122.7h0.01M276.4 109.5h0.01M253.6 129.7h0.01M257.3 128.0h0.01M261.3 135.2h0.01M280.9 90.0h0.01M252.5 129.3h0.01M246.8 140.8h0.01M264.7 127.9h0.01M240.6 145.6h0.01M273.9 104.7h0.01M246.1 135.4h0.01M248.4 136.7h0.01M239.4 144.4h0.01M282.9 108.4h0.01M250.5 127.3h0.01M248.4 139.2h0.01M273.2 115.0h0.01M241.6 135.1h0.01M240.9 137.1h0.01M280.4 118.2h0.01M270.8 133.6h0.01M247.4 141.9h0.01M270.0 126.0h0.01M235.3 145.7h0.01M234.9 130.9h0.01M267.6 119.3h0.01M258.6 137.9h0.01M235.3 140.7h0.01M237.9 142.4h0.01M260.6 116.6h0.01M244.5 136.8h0.01M234.6 128.4h0.01M262.8 120.0h0.01M241.7 128.6h0.01M252.2 134.9h0.01M253.9 132.0h0.01M258.4 125.0h0.01M252.3 136.9h0.01M235.1 139.0h0.01M277.4 115.9h0.01M267.0 124.9h0.01M243.6 142.1h0.01M245.0 142.5h0.01M251.9 121.6h0.01M256.7 138.5h0.01M252.5 119.8h0.01M236.4 136.7h0.01M255.5 115.1h0.01M269.6 127.0h0.01M243.4 137.6h0.01M247.8 136.4h0.01M252.3 138.8h0.01M241.8 138.8h0.01M254.3 144.8h0.01M252.2 124.8h0.01M242.8 132.9h0.01M236.2 133.4h0.01M247.8 135.7h0.01M281.0 127.4h0.01M245.8 136.3h0.01M258.8 120.3h0.01M236.7 129.6h0.01M243.9 115.0h0.01M248.2 127.2h0.01M275.8 105.0h0.01M284.5 117.3h0.01M253.1 139.8h0.01M269.0 111.2h0.01M264.7 119.5h0.01M245.9 135.4h0.01M248.6 144.5h0.01M254.7 131.6h0.01M246.2 144.8h0.01M238.0 144.5h0.01M237.1 144.4h0.01M241.1 144.0h0.01M234.7 139.4h0.01M258.5 135.6h0.01M245.9 128.2h0.01M234.8 145.0h0.01M246.3 146.2h0.01M240.5 142.9h0.01M254.8 134.3h0.01M236.5 136.1h0.01M256.6 134.8h0.01M258.6 127.0h0.01M258.2 127.8h0.01M255.0 138.1h0.01M265.7 120.8h0.01M240.5 129.4h0.01M239.8 138.9h0.01M239.2 145.7h0.01M246.1 134.8h0.01M283.4 115.7h0.01M246.0 130.7h0.01M245.3 137.9h0.01M271.3 114.2h0.01M260.5 129.5h0.01M270.6 107.1h0.01M262.5 133.7h0.01M262.5 126.3h0.01M262.9 129.4h0.01M246.4 139.6h0.01M275.2 105.4h0.01M279.4 134.3h0.01M256.3 143.1h0.01M250.5 134.7h0.01M238.2 140.5h0.01M285.8 104.5h0.01M254.6 117.2h0.01M251.3 118.8h0.01M251.4 142.0h0.01M260.5 135.4h0.01M270.3 133.0h0.01M283.7 99.5h0.01M245.2 136.4h0.01M249.1 141.6h0.01M257.3 135.8h0.01M235.0 136.9h0.01M265.8 119.2h0.01M238.6 143.6h0.01M243.0 129.4h0.01M257.1 139.0h0.01M276.9 127.3h0.01M266.4 121.3h0.01M238.1 139.7h0.01M240.6 138.8h0.01M273.7 118.7h0.01M236.6 145.9h0.01M249.0 135.0h0.01M239.3 132.4h0.01M247.3 141.7h0.01M240.3 131.6h0.01M249.8 129.0h0.01M270.0 130.3h0.01M256.5 131.3h0.01M259.0 110.9h0.01M256.3 138.3h0.01M235.3 138.6h0.01M235.3 137.2h0.01M257.4 138.0h0.01M260.5 125.9h0.01M243.4 142.0h0.01M244.4 145.3h0.01M234.3 137.6h0.01M234.3 138.6h0.01M238.9 144.0h0.01M251.6 133.8h0.01M239.1 143.2h0.01M264.8 127.3h0.01M235.7 145.8h0.01M249.2 120.5h0.01M284.9 95.6h0.01M249.0 120.9h0.01M281.5 92.9h0.01M256.6 120.8h0.01M259.4 120.9h0.01M255.4 143.6h0.01M247.1 136.5h0.01M261.0 95.9h0.01M243.9 143.3h0.01M235.1 145.8h0.01M275.7 116.6h0.01M243.8 130.0h0.01M258.6 130.4h0.01M237.5 137.0h0.01M264.1 136.2h0.01M234.8 140.4h0.01M244.4 128.6h0.01M272.5 114.0h0.01M250.0 132.4h0.01M234.8 145.3h0.01M269.3 125.6h0.01M265.0 110.4h0.01M234.9 140.4h0.01M234.3 138.6h0.01M254.7 135.4h0.01M248.4 137.0h0.01M255.5 120.6h0.01M278.4 111.9h0.01M279.2 97.3h0.01M261.9 124.9h0.01M234.3 144.1h0.01M277.2 108.8h0.01M236.9 144.5h0.01M283.2 114.4h0.01M272.6 134.3h0.01M243.7 143.0h0.01M270.7 114.8h0.01M254.4 145.8h0.01M243.0 134.7h0.01M261.2 138.3h0.01M234.7 143.6h0.01M234.5 146.2h0.01M243.7 134.2h0.01M259.3 128.4h0.01M240.4 140.7h0.01M267.7 129.0h0.01M254.5 134.5h0.01M266.6 123.8h0.01M252.6 130.4h0.01M268.8 115.9h0.01M251.1 131.2h0.01M257.2 124.5h0.01M248.6 135.4h0.01M267.5 110.2h0.01M260.1 138.1h0.01M234.7 141.9h0.01M257.7 132.4h0.01M262.7 119.4h0.01M240.5 146.0h0.01M246.0 130.8h0.01M278.6 100.0h0.01M265.4 115.1h0.01M259.0 129.8h0.01M235.6 142.4h0.01M241.6 139.2h0.01M265.8 134.0h0.01M239.6 145.8h0.01M264.2 125.5h0.01M246.8 139.7h0.01M249.3 133.0h0.01M283.7 116.1h0.01M245.7 134.8h0.01M256.6 116.4h0.01M246.3 135.6h0.01M237.6 144.8h0.01M239.8 144.6h0.01M271.0 115.3h0.01M238.6 128.7h0.01M234.8 134.0h0.01M265.2 133.4h0.01M239.9 132.1h0.01M254.7 131.2h0.01M249.0 127.4h0.01M267.5 127.0h0.01M252.0 143.3h0.01M256.8 140.4h0.01M243.0 141.5h0.01M245.3 139.4h0.01M259.1 121.6h0.01M259.2 115.8h0.01M235.3 135.7h0.01M267.3 107.8h0.01M261.0 138.3h0.01M244.0 144.6h0.01M234.7 145.2h0.01M285.9 130.8h0.01M260.3 126.7h0.01M234.3 145.3h0.01M266.0 124.7h0.01M271.8 126.3h0.01M252.7 131.8h0.01M272.7 118.6h0.01M246.9 127.4h0.01M235.4 141.3h0.01M234.5 145.2h0.01M252.1 134.1h0.01M256.5 117.3h0.01M273.6 117.5h0.01M249.5 144.9h0.01M248.4 145.0h0.01M241.9 126.5h0.01M270.7 126.2h0.01M250.3 113.2h0.01M234.1 132.2h0.01M244.6 130.6h0.01M257.2 140.1h0.01M234.6 141.4h0.01M278.9 108.9h0.01M239.5 134.8h0.01M261.3 125.0h0.01M260.5 114.1h0.01M273.8 107.9h0.01M259.0 125.2h0.01M266.7 126.2h0.01M247.1 140.6h0.01M242.0 126.0h0.01M278.2 97.9h0.01M246.5 133.1h0.01M272.2 130.6h0.01M246.9 144.2h0.01M249.2 146.0h0.01M237.8 130.8h0.01M234.9 146.2h0.01M239.3 135.4h0.01M260.5 136.7h0.01M272.4 114.2h0.01M238.7 137.6h0.01M259.8 133.3h0.01M257.5 120.2h0.01M256.0 132.0h0.01M264.4 128.9h0.01M254.7 132.4h0.01M254.3 127.4h0.01M260.3 114.6h0.01M240.7 145.5h0.01M268.4 107.9h0.01M235.2 141.7h0.01M266.6 111.2h0.01M260.7 128.2h0.01M275.0 132.7h0.01M262.0 143.2h0.01M259.6 127.7h0.01M257.7 122.5h0.01M243.8 143.0h0.01M276.2 115.2h0.01M242.5 139.5h0.01M238.2 120.7h0.01M249.6 141.7h0.01M234.3 145.6h0.01M265.4 131.6h0.01M277.6 131.1h0.01M235.1 142.6h0.01M236.9 130.6h0.01M261.8 133.1h0.01M244.8 126.9h0.01M274.1 114.0h0.01M236.1 139.2h0.01M259.5 141.8h0.01M272.2 110.7h0.01M262.0 116.9h0.01M249.9 124.8h0.01M250.9 135.3h0.01M272.3 112.0h0.01M237.3 141.0h0.01M252.8 130.0h0.01M255.2 134.9h0.01M237.0 132.6h0.01M243.1 145.9h0.01M268.5 131.1h0.01M242.6 141.3h0.01M250.9 134.9h0.01M237.1 134.0h0.01M238.7 144.0h0.01M235.1 143.2h0.01M262.9 140.2h0.01M234.5 141.1h0.01M278.9 110.5h0.01M235.0 141.6h0.01M283.9 111.3h0.01M261.2 123.2h0.01M255.6 136.0h0.01M254.5 132.8h0.01M243.5 139.6h0.01M235.4 138.1h0.01M287.8 115.9h0.01M271.9 108.7h0.01M235.0 141.4h0.01M246.4 129.1h0.01M270.1 119.3h0.01M268.7 125.6h0.01M251.9 127.3h0.01M248.3 133.3h0.01M245.9 132.7h0.01M249.7 140.4h0.01M239.5 130.7h0.01M257.4 132.7h0.01M256.8 139.5h0.01M276.3 117.7h0.01M266.7 118.4h0.01M234.9 145.8h0.01M241.1 141.1h0.01M249.9 132.0h0.01M279.3 116.5h0.01M240.9 139.3h0.01M251.3 131.1h0.01M263.2 126.8h0.01M254.2 135.5h0.01M249.7 140.7h0.01M246.4 148.4h0.01M273.5 131.7h0.01M250.7 131.0h0.01M261.7 135.7h0.01M277.8 110.1h0.01M269.3 118.0h0.01M243.1 137.8h0.01M258.3 99.1h0.01M236.2 138.3h0.01M267.0 129.7h0.01M246.9 133.5h0.01M234.6 141.4h0.01M244.3 135.5h0.01M248.5 139.6h0.01M235.3 138.6h0.01M263.0 119.5h0.01M244.4 123.6h0.01M252.8 143.3h0.01M278.3 116.0h0.01M234.8 140.8h0.01M246.0 135.6h0.01M236.1 139.0h0.01M247.2 132.1h0.01M248.8 126.6h0.01M264.5 120.4h0.01M272.1 106.6h0.01M244.3 125.6h0.01M235.5 148.1h0.01M238.8 135.0h0.01M253.9 134.8h0.01M258.7 108.9h0.01M252.3 120.4h0.01M235.5 142.1h0.01M257.5 123.3h0.01M267.4 119.9h0.01M242.1 123.8h0.01M235.2 139.8h0.01M235.2 142.0h0.01M251.6 131.2h0.01M274.1 106.6h0.01M270.5 121.6h0.01M253.9 135.8h0.01M249.2 134.9h0.01M241.9 142.2h0.01M272.4 101.4h0.01M276.4 140.2h0.01M234.6 136.1h0.01M250.6 131.4h0.01M266.3 127.7h0.01M261.2 138.6h0.01M236.8 139.9h0.01M266.2 125.1h0.01M261.9 114.8h0.01M262.0 138.4h0.01M251.3 129.9h0.01M243.1 140.3h0.01M243.8 138.5h0.01M270.6 113.0h0.01M237.9 132.0h0.01M259.6 133.9h0.01M251.1 125.5h0.01M261.5 127.1h0.01M285.8 97.1h0.01M249.3 146.3h0.01M247.4 131.2h0.01M249.9 130.3h0.01M235.5 139.4h0.01M254.8 137.2h0.01M234.3 142.1h0.01M263.3 119.9h0.01M254.3 118.0h0.01M256.4 140.8h0.01M237.9 130.2h0.01M235.4 142.9h0.01M279.0 117.0h0.01M260.1 136.8h0.01M257.8 130.5h0.01M251.7 138.9h0.01M276.0 109.9h0.01M263.2 134.7h0.01M244.8 134.3h0.01M244.3 119.9h0.01M234.5 143.5h0.01M251.3 131.5h0.01M234.1 139.0h0.01M235.3 141.7h0.01M264.6 102.2h0.01M237.5 138.5h0.01M257.3 134.1h0.01M239.7 144.1h0.01M234.2 140.7h0.01M265.2 135.7h0.01M254.1 132.1h0.01M235.0 132.4h0.01M242.3 126.8h0.01M237.6 143.5h0.01M248.9 123.5h0.01M252.2 138.3h0.01M236.3 137.3h0.01M235.1 145.5h0.01M267.7 129.4h0.01M248.2 138.4h0.01M258.0 128.4h0.01M268.4 133.9h0.01M248.6 127.1h0.01M265.0 112.3h0.01M241.6 143.0h0.01M287.4 111.3h0.01M244.5 129.0h0.01M255.7 120.6h0.01M242.9 127.4h0.01M235.6 143.0h0.01M249.8 124.5h0.01M260.1 125.9h0.01M234.8 135.2h0.01M270.0 102.5h0.01M270.6 121.9h0.01M260.3 140.0h0.01M234.6 141.8h0.01M234.8 141.6h0.01M263.3 128.3h0.01M274.5 123.5h0.01M234.5 144.5h0.01M255.5 136.5h0.01M265.6 107.4h0.01M239.5 133.7h0.01M252.2 136.3h0.01M243.6 136.9h0.01M277.2 122.9h0.01M239.4 142.9h0.01M256.0 130.5h0.01M251.9 137.9h0.01M237.6 145.9h0.01M276.1 110.0h0.01M241.6 135.6h0.01M264.1 137.8h0.01M265.3 128.2h0.01M234.4 141.7h0.01M258.7 128.4h0.01M245.9 127.8h0.01M241.8 138.8h0.01M235.4 137.5h0.01M241.7 144.3h0.01M235.3 142.2h0.01M238.6 138.0h0.01M265.8 118.4h0.01M246.1 139.1h0.01M235.3 134.7h0.01M247.3 133.6h0.01M247.3 128.0h0.01M245.4 138.4h0.01M245.1 139.6h0.01M259.5 130.2h0.01M246.4 140.7h0.01M234.8 139.3h0.01M253.8 131.1h0.01M254.5 133.1h0.01M276.9 133.9h0.01M242.3 135.0h0.01M240.5 127.3h0.01M253.3 135.5h0.01M244.3 130.3h0.01M263.4 112.2h0.01M282.8 110.4h0.01M272.5 104.9h0.01M270.8 128.2h0.01M243.7 144.2h0.01M286.2 95.5h0.01M243.1 139.8h0.01M283.5 112.4h0.01M240.9 136.5h0.01M249.5 132.0h0.01M286.6 111.8h0.01M276.8 114.9h0.01M273.9 122.1h0.01M256.6 128.3h0.01M252.7 134.5h0.01M250.6 137.7h0.01M270.2 117.1h0.01M244.5 144.9h0.01M262.9 121.6h0.01M287.5 116.9h0.01M245.1 145.9h0.01M266.4 113.8h0.01M248.3 137.8h0.01M264.6 134.3h0.01M263.5 138.0h0.01M254.2 134.4h0.01M235.4 140.2h0.01M236.0 142.6h0.01M278.7 109.8h0.01M246.0 140.9h0.01M263.5 119.1h0.01M269.7 99.4h0.01M262.5 106.2h0.01M260.1 127.1h0.01M265.9 115.2h0.01M242.4 133.0h0.01M282.2 116.1h0.01M251.9 136.2h0.01M275.6 112.0h0.01M249.3 142.2h0.01M250.0 130.6h0.01M241.1 146.0h0.01M258.8 139.4h0.01M236.5 138.0h0.01M280.1 107.1h0.01M248.7 137.0h0.01M261.8 139.1h0.01M285.1 102.7h0.01M279.1 122.0h0.01M265.8 114.3h0.01M275.8 112.7h0.01M235.5 143.4h0.01M237.9 129.5h0.01M246.8 139.5h0.01M240.3 135.7h0.01M245.5 145.6h0.01M251.9 138.0h0.01M241.6 137.5h0.01M251.4 135.0h0.01M266.4 117.5h0.01M285.6 98.2h0.01M246.6 140.0h0.01M280.1 115.5h0.01M238.0 141.3h0.01M266.1 126.6h0.01M252.9 136.1h0.01M284.5 111.1h0.01M279.2 120.3h0.01M255.4 139.3h0.01M241.5 132.4h0.01M270.1 127.2h0.01M238.9 143.0h0.01M261.0 133.3h0.01M238.2 136.1h0.01M256.2 133.2h0.01M236.9 142.9h0.01M239.6 140.9h0.01M247.0 146.3h0.01M251.6 133.5h0.01M253.4 132.7h0.01M250.2 136.0h0.01M241.0 139.7h0.01M244.8 141.1h0.01M250.5 144.8h0.01M247.0 133.7h0.01M238.6 136.6h0.01M280.9 115.8h0.01M254.0 117.5h0.01M250.3 140.8h0.01M235.5 137.3h0.01M285.1 116.4h0.01M242.7 126.2h0.01M240.3 138.3h0.01M240.0 127.6h0.01M257.7 131.1h0.01M269.7 127.4h0.01M267.5 116.7h0.01M251.7 142.1h0.01M255.3 136.2h0.01M238.6 144.7h0.01M247.0 143.0h0.01M240.1 138.6h0.01M234.7 142.2h0.01M243.4 139.6h0.01M249.8 137.3h0.01M266.3 131.7h0.01M262.6 134.7h0.01M264.8 118.2h0.01M272.6 113.5h0.01M251.8 117.4h0.01M277.2 117.9h0.01M263.9 138.9h0.01M240.2 143.5h0.01M272.2 98.6h0.01M274.1 118.2h0.01M242.5 136.0h0.01M245.5 142.8h0.01M248.8 141.4h0.01M234.5 134.3h0.01M272.4 112.1h0.01M266.6 119.9h0.01M242.2 137.1h0.01M250.8 128.6h0.01M270.7 126.8h0.01M241.4 144.2h0.01M259.8 122.3h0.01M236.2 140.7h0.01M245.1 140.5h0.01M234.5 127.8h0.01M281.9 97.2h0.01M252.7 133.5h0.01M242.4 141.8h0.01M251.1 133.0h0.01M235.6 135.5h0.01M234.3 136.2h0.01M269.5 123.5h0.01M270.9 111.1h0.01M238.7 142.5h0.01M257.3 145.4h0.01M239.2 141.3h0.01M245.3 135.2h0.01M234.6 141.0h0.01M256.4 136.4h0.01M234.1 130.6h0.01M256.0 138.6h0.01M258.6 121.1h0.01M235.8 144.6h0.01M245.5 139.6h0.01M245.8 133.8h0.01M238.0 138.7h0.01M267.1 117.4h0.01M246.0 133.1h0.01M243.9 139.6h0.01M249.3 127.8h0.01M263.4 132.3h0.01M243.7 135.0h0.01M246.3 134.1h0.01M256.1 125.7h0.01M275.3 115.1h0.01M276.5 135.5h0.01M238.2 140.4h0.01M261.1 121.4h0.01M247.3 138.5h0.01M254.5 131.7h0.01M240.5 141.4h0.01M253.5 132.2h0.01M234.5 143.9h0.01M259.1 131.7h0.01M280.5 108.0h0.01M250.2 126.8h0.01M258.8 108.7h0.01M244.2 142.1h0.01M259.7 123.4h0.01M265.9 125.2h0.01M234.3 140.2h0.01M253.8 131.6h0.01M253.3 129.0h0.01M252.0 131.8h0.01M235.2 146.1h0.01M245.0 144.1h0.01M249.4 147.8h0.01M248.8 139.5h0.01M261.0 126.3h0.01M275.9 122.5h0.01M254.4 117.8h0.01M257.7 126.3h0.01M255.0 125.7h0.01M243.4 138.5h0.01M252.9 141.2h0.01M244.8 128.1h0.01M234.4 139.2h0.01M268.3 123.1h0.01M255.3 117.1h0.01M234.8 140.2h0.01M257.3 128.1h0.01M243.4 143.1h0.01M262.4 144.0h0.01M248.3 138.1h0.01M273.7 117.2h0.01M277.4 122.8h0.01M259.3 134.9h0.01M287.3 123.0h0.01M248.2 136.6h0.01M254.8 135.4h0.01M255.7 140.3h0.01M261.6 114.2h0.01M265.6 129.4h0.01M252.9 130.8h0.01M235.7 142.7h0.01M264.4 129.8h0.01M245.8 137.8h0.01M244.1 133.9h0.01M265.5 121.7h0.01M255.0 117.7h0.01M240.8 135.3h0.01M245.1 119.7h0.01M279.1 117.2h0.01M265.0 130.0h0.01M261.9 124.3h0.01M286.0 112.8h0.01M236.9 139.7h0.01M258.4 132.2h0.01M234.3 143.7h0.01M254.0 132.8h0.01M247.7 135.3h0.01M243.0 145.0h0.01M235.6 142.7h0.01M277.2 117.6h0.01M235.4 139.7h0.01M275.2 111.6h0.01M269.6 115.8h0.01M253.4 135.5h0.01M265.5 114.7h0.01M253.9 121.6h0.01M256.1 121.5h0.01M268.5 116.0h0.01M266.0 126.1h0.01M257.6 118.6h0.01M251.6 130.7h0.01M244.3 144.3h0.01M245.8 135.5h0.01M264.8 133.0h0.01M264.5 116.3h0.01M270.0 105.6h0.01M265.3 119.0h0.01M259.7 122.0h0.01M238.4 141.8h0.01M277.0 126.5h0.01M265.9 112.1h0.01M234.4 144.0h0.01M235.3 139.2h0.01M251.7 144.9h0.01M265.9 118.1h0.01M267.2 130.0h0.01M246.9 121.6h0.01M235.4 140.0h0.01M238.4 148.8h0.01M253.7 145.3h0.01M274.9 121.7h0.01M255.7 138.6h0.01M257.2 110.9h0.01M253.9 126.6h0.01M234.9 138.4h0.01M268.0 115.7h0.01M244.7 130.7h0.01M246.9 137.0h0.01M261.8 121.3h0.01M248.2 117.9h0.01M271.5 110.6h0.01M239.8 135.3h0.01M244.2 140.0h0.01M283.1 99.3h0.01M234.2 138.1h0.01M257.5 130.2h0.01M240.9 133.7h0.01M235.3 142.5h0.01M247.8 133.1h0.01M235.6 144.7h0.01M249.8 130.7h0.01M266.4 122.5h0.01M235.5 140.4h0.01M257.5 132.7h0.01M247.8 138.2h0.01M247.6 148.2h0.01M261.2 143.1h0.01M244.0 134.7h0.01M236.5 141.7h0.01M264.4 123.4h0.01M261.9 120.9h0.01M240.9 142.7h0.01M253.1 136.9h0.01M237.5 140.1h0.01M284.6 116.8h0.01M242.1 139.8h0.01M243.1 144.5h0.01M274.7 116.8h0.01M256.8 139.3h0.01M248.4 144.5h0.01M255.3 123.8h0.01M235.9 127.2h0.01M258.5 146.2h0.01M241.4 138.4h0.01M266.8 110.8h0.01M271.6 113.4h0.01M250.0 122.3h0.01M260.2 132.2h0.01M257.2 129.8h0.01M236.1 142.2h0.01M258.5 126.0h0.01M251.8 141.8h0.01M259.8 133.3h0.01M234.6 136.3h0.01M258.6 124.8h0.01M238.6 140.9h0.01M253.2 140.7h0.01M249.3 122.1h0.01M260.2 132.5h0.01M261.2 113.1h0.01M275.1 122.6h0.01M268.1 139.1h0.01M241.7 129.8h0.01M258.8 131.2h0.01M245.3 134.3h0.01M237.0 144.5h0.01M234.5 140.8h0.01M234.7 142.8h0.01M259.5 130.0h0.01M238.8 134.4h0.01M252.0 136.1h0.01M253.4 130.8h0.01M235.0 129.3h0.01M253.5 144.8h0.01M266.4 106.2h0.01M256.1 142.0h0.01M250.9 143.6h0.01M270.1 134.5h0.01M258.0 129.2h0.01M244.6 145.0h0.01M279.6 109.9h0.01M276.9 114.6h0.01M234.7 144.6h0.01M265.0 124.1h0.01M242.1 145.2h0.01M270.4 104.8h0.01M253.8 134.2h0.01M270.6 130.5h0.01M255.4 117.8h0.01M234.8 133.6h0.01M258.6 129.5h0.01M249.7 139.4h0.01M239.2 138.1h0.01M274.3 119.1h0.01M238.5 141.6h0.01M241.9 146.2h0.01M236.7 138.2h0.01M236.7 146.0h0.01M252.2 124.8h0.01M252.4 142.2h0.01M247.6 138.0h0.01M251.3 141.5h0.01M248.0 140.5h0.01M268.1 115.4h0.01M268.9 128.4h0.01M236.4 146.3h0.01M267.7 123.6h0.01M246.4 128.2h0.01M259.4 110.0h0.01M248.3 145.1h0.01M261.2 127.9h0.01M253.2 131.8h0.01M237.7 143.1h0.01M235.4 143.6h0.01M257.6 117.1h0.01M252.8 139.5h0.01M242.9 142.1h0.01M238.4 131.8h0.01M266.2 126.4h0.01M235.1 139.3h0.01M263.9 122.5h0.01M253.0 144.4h0.01M269.6 114.3h0.01M252.4 138.2h0.01M260.4 145.0h0.01M285.2 103.8h0.01M251.1 135.8h0.01M234.7 138.4h0.01M254.4 129.2h0.01M283.9 100.3h0.01M234.8 140.8h0.01M285.2 123.2h0.01M241.2 140.5h0.01M243.6 142.0h0.01M245.8 135.9h0.01M264.0 143.0h0.01M248.0 136.4h0.01M258.4 135.3h0.01M287.0 116.2h0.01M263.3 125.5h0.01M247.1 137.6h0.01M242.7 135.2h0.01M246.7 137.4h0.01M264.3 130.9h0.01M279.6 112.6h0.01M260.0 125.2h0.01M245.3 137.5h0.01M246.9 142.2h0.01M234.6 148.5h0.01M267.6 128.0h0.01M240.2 144.6h0.01M243.6 135.8h0.01M261.4 136.8h0.01M252.4 141.0h0.01M235.0 142.3h0.01M248.5 134.4h0.01M286.6 115.3h0.01M234.9 144.3h0.01M255.2 145.0h0.01M257.1 138.8h0.01M278.2 115.6h0.01M235.5 138.9h0.01M239.2 138.1h0.01M237.2 144.7h0.01M261.0 118.3h0.01M277.8 105.9h0.01M240.1 138.1h0.01M274.2 125.4h0.01M243.3 142.6h0.01M241.4 137.5h0.01M244.8 128.9h0.01M237.5 143.8h0.01M262.9 115.9h0.01M253.5 134.4h0.01M263.9 140.2h0.01M240.5 138.6h0.01M239.1 138.5h0.01M234.6 138.6h0.01M239.6 139.6h0.01M258.1 141.9h0.01M244.7 144.5h0.01M273.2 133.3h0.01M265.4 122.6h0.01M273.8 114.7h0.01M240.3 118.6h0.01M246.8 142.8h0.01M252.7 139.1h0.01M282.5 96.4h0.01M286.4 103.7h0.01M243.3 137.5h0.01M257.0 119.8h0.01M255.9 133.6h0.01M287.4 125.3h0.01M235.3 143.8h0.01M247.9 129.6h0.01M263.3 133.8h0.01M245.8 130.1h0.01M257.3 134.3h0.01M257.1 144.7h0.01M263.6 120.8h0.01M235.4 142.1h0.01M255.4 135.3h0.01M278.6 107.4h0.01M239.7 138.7h0.01M239.3 145.3h0.01M248.1 128.8h0.01M262.5 128.4h0.01M235.3 136.3h0.01M260.0 132.8h0.01M254.4 121.8h0.01M257.8 133.5h0.01M278.0 114.0h0.01M285.3 102.9h0.01M257.4 125.6h0.01M256.1 133.4h0.01M257.2 148.4h0.01M234.8 146.0h0.01M264.6 122.0h0.01M245.1 143.5h0.01M246.3 137.0h0.01M252.5 124.4h0.01M241.0 138.0h0.01M246.5 133.6h0.01M239.0 139.1h0.01M256.4 134.9h0.01M244.3 132.3h0.01M235.6 140.7h0.01M251.9 135.0h0.01M234.1 141.8h0.01M262.0 123.7h0.01M277.7 112.6h0.01M241.5 137.3h0.01M242.4 138.0h0.01M275.5 120.0h0.01M251.6 123.1h0.01M248.1 135.0h0.01M254.2 132.2h0.01M261.1 118.2h0.01M257.4 136.0h0.01M257.9 126.7h0.01M234.4 145.9h0.01M266.8 122.4h0.01M285.2 100.0h0.01M255.8 112.2h0.01M249.7 127.7h0.01M255.5 128.4h0.01M248.1 130.0h0.01M256.4 121.1h0.01M280.4 108.7h0.01M250.0 129.5h0.01M253.8 135.5h0.01M238.4 146.3h0.01M247.7 128.1h0.01M254.8 120.8h0.01M264.1 117.0h0.01M283.3 93.9h0.01M236.0 144.6h0.01M279.2 120.6h0.01M244.4 133.0h0.01M252.3 145.1h0.01M263.0 120.2h0.01M253.2 129.7h0.01M265.8 124.7h0.01M265.7 115.9h0.01M254.7 131.4h0.01M255.9 131.4h0.01M254.7 125.5h0.01M246.4 116.7h0.01M257.9 139.5h0.01M242.5 135.3h0.01M234.7 145.2h0.01M235.4 143.3h0.01M245.9 145.1h0.01M241.6 145.4h0.01M254.0 118.9h0.01M258.6 140.4h0.01M246.4 139.5h0.01M256.7 128.1h0.01M244.6 135.5h0.01M256.4 117.6h0.01M272.8 126.7h0.01M264.8 110.1h0.01M234.6 143.0h0.01M281.3 128.7h0.01M272.3 123.1h0.01M245.5 135.2h0.01M253.7 137.6h0.01M250.5 129.2h0.01M240.4 137.6h0.01M260.4 126.0h0.01M261.7 125.7h0.01M242.2 143.9h0.01M241.2 140.6h0.01M260.3 124.1h0.01M284.3 108.9h0.01M241.7 145.0h0.01M240.6 145.1h0.01M246.4 140.7h0.01M260.3 132.9h0.01M284.3 111.9h0.01M282.7 94.1h0.01M235.6 144.1h0.01M239.3 137.3h0.01M272.4 102.5h0.01M234.9 141.6h0.01M258.5 121.3h0.01M243.9 137.1h0.01M248.2 133.2h0.01M259.2 130.8h0.01M254.4 142.6h0.01M246.6 130.9h0.01M251.8 124.6h0.01M249.2 126.2h0.01M247.6 142.6h0.01M235.7 140.5h0.01M269.1 106.1h0.01M235.5 145.5h0.01M264.9 126.0h0.01M245.1 145.3h0.01M274.3 111.9h0.01M276.3 130.4h0.01M235.9 145.0h0.01M250.5 145.3h0.01M251.8 137.7h0.01M249.2 142.2h0.01M249.5 133.4h0.01M240.5 145.5h0.01M249.2 146.0h0.01M247.6 144.9h0.01M270.6 110.9h0.01M234.5 141.7h0.01M264.6 124.7h0.01M270.5 125.2h0.01M234.2 148.5h0.01M265.0 125.4h0.01M245.1 137.1h0.01M264.5 128.8h0.01M246.6 142.1h0.01M234.9 134.6h0.01M259.1 127.3h0.01M269.1 114.9h0.01M250.2 141.5h0.01M242.4 140.9h0.01M243.5 142.0h0.01M269.3 115.9h0.01M281.7 100.6h0.01M245.3 140.9h0.01M235.4 144.4h0.01M260.2 138.3h0.01M265.7 136.3h0.01M244.8 142.4h0.01M241.0 132.8h0.01M248.5 119.9h0.01M272.6 122.1h0.01M235.4 143.9h0.01M235.4 134.8h0.01M251.2 138.2h0.01M242.5 130.1h0.01M243.6 138.0h0.01M266.3 109.7h0.01M244.2 135.7h0.01M269.4 114.0h0.01M255.9 109.2h0.01M247.6 139.1h0.01M234.8 144.0h0.01M260.9 113.7h0.01M278.2 117.1h0.01M243.9 134.8h0.01M247.5 141.7h0.01M258.9 129.6h0.01M273.7 117.1h0.01M243.0 125.2h0.01M255.8 142.6h0.01M243.4 129.1h0.01M235.4 143.5h0.01M241.5 145.3h0.01M270.3 134.3h0.01M266.6 131.7h0.01M281.3 98.7h0.01M283.1 115.4h0.01M256.6 135.1h0.01M240.7 137.2h0.01M256.5 137.9h0.01M246.7 128.3h0.01M254.1 130.3h0.01M235.0 144.7h0.01M260.9 139.5h0.01M248.6 130.6h0.01M242.7 140.5h0.01M252.9 142.4h0.01M265.9 127.2h0.01M255.4 134.1h0.01M246.8 130.1h0.01M287.6 113.3h0.01M252.5 142.9h0.01M255.9 130.9h0.01M250.4 139.7h0.01M278.8 108.0h0.01M234.6 136.1h0.01M266.5 123.3h0.01M241.1 143.4h0.01M239.2 145.8h0.01M286.3 97.2h0.01M270.4 131.4h0.01M249.1 132.8h0.01M235.4 145.5h0.01M245.9 142.2h0.01M246.2 144.4h0.01M272.3 113.3h0.01M258.3 130.9h0.01M239.8 140.9h0.01M235.2 135.2h0.01M245.1 139.5h0.01M266.0 118.7h0.01M274.4 125.3h0.01M286.2 108.3h0.01M276.0 106.0h0.01M249.3 138.5h0.01M247.7 145.9h0.01M253.9 131.1h0.01M240.7 144.3h0.01M245.5 134.8h0.01M260.5 127.1h0.01M251.8 133.4h0.01M263.9 132.6h0.01M275.8 128.5h0.01M253.3 130.3h0.01M251.0 143.1h0.01M276.5 115.9h0.01M235.4 131.1h0.01M264.1 142.7h0.01M238.2 145.1h0.01M250.2 133.3h0.01M278.3 104.1h0.01M247.3 132.8h0.01M265.7 121.9h0.01M255.0 130.3h0.01M256.9 95.1h0.01M249.0 124.8h0.01M244.6 142.0h0.01M238.4 131.9h0.01M240.8 143.4h0.01M234.2 144.2h0.01M277.3 119.2h0.01M257.0 129.6h0.01M251.5 138.0h0.01M257.7 128.1h0.01M280.0 121.1h0.01M281.0 115.6h0.01M236.6 144.7h0.01M248.9 120.0h0.01M256.0 124.4h0.01M275.5 131.7h0.01M239.5 140.1h0.01M253.7 131.7h0.01M266.0 126.3h0.01M235.4 133.1h0.01M268.1 119.0h0.01M252.2 135.9h0.01M234.5 144.3h0.01M247.0 143.0h0.01M256.1 140.5h0.01M252.9 140.3h0.01M259.3 141.8h0.01M258.3 130.9h0.01M235.2 134.3h0.01M235.5 131.7h0.01M239.2 142.2h0.01M247.6 144.0h0.01M266.1 132.8h0.01M236.5 138.6h0.01M258.3 144.3h0.01M235.6 145.6h0.01M274.9 117.5h0.01M234.8 142.9h0.01M272.5 112.0h0.01M251.0 113.3h0.01M280.7 99.5h0.01M237.1 142.1h0.01M253.7 126.6h0.01M254.6 142.9h0.01M261.0 122.6h0.01M234.6 137.0h0.01M249.7 139.3h0.01M234.3 143.7h0.01M254.2 132.8h0.01M282.2 113.3h0.01M249.2 127.0h0.01M261.7 118.1h0.01M236.1 134.2h0.01M237.6 133.8h0.01M279.3 109.9h0.01M241.7 146.1h0.01M254.0 139.4h0.01M263.0 122.0h0.01M253.3 144.5h0.01M274.0 115.5h0.01M250.8 120.5h0.01M284.3 104.3h0.01M247.6 134.1h0.01M244.5 129.8h0.01M261.3 134.4h0.01M277.9 107.4h0.01M259.0 131.0h0.01M261.2 131.5h0.01M240.7 135.9h0.01M251.1 145.1h0.01M246.2 126.3h0.01M256.4 124.3h0.01M235.3 132.4h0.01M281.8 121.5h0.01M234.1 137.0h0.01M269.3 112.9h0.01M250.0 131.1h0.01M257.0 135.5h0.01M235.3 137.8h0.01M275.0 111.4h0.01M234.6 144.9h0.01M246.7 134.9h0.01M263.6 130.6h0.01M269.5 113.8h0.01M246.8 126.5h0.01M238.7 135.3h0.01M252.6 125.9h0.01M253.9 134.7h0.01M258.8 130.0h0.01M234.1 148.0h0.01M243.2 135.0h0.01M252.7 126.5h0.01M252.4 128.2h0.01M253.9 131.1h0.01M253.4 142.7h0.01M245.2 126.9h0.01M283.6 106.5h0.01M234.2 141.9h0.01M239.5 142.3h0.01M235.5 133.3h0.01M264.0 129.3h0.01M261.5 113.8h0.01M261.2 146.0h0.01M253.3 121.1h0.01M261.5 121.2h0.01M234.9 143.2h0.01M240.3 142.4h0.01M234.8 137.4h0.01M266.5 125.3h0.01M279.9 113.9h0.01M286.6 90.2h0.01M262.7 117.2h0.01M260.3 132.0h0.01M253.0 134.6h0.01M264.3 131.9h0.01M281.1 111.7h0.01M255.4 143.7h0.01M242.1 136.9h0.01M261.3 110.7h0.01M262.2 130.4h0.01M246.2 142.2h0.01M235.6 138.7h0.01M267.0 116.0h0.01M273.3 97.1h0.01M235.0 143.1h0.01M260.3 128.4h0.01M272.1 127.1h0.01M236.5 143.8h0.01M235.1 138.2h0.01M245.9 136.6h0.01M247.2 127.0h0.01M286.9 96.4h0.01M282.3 94.9h0.01M265.9 130.3h0.01M246.3 135.0h0.01M262.0 118.4h0.01M260.5 131.2h0.01M235.4 141.2h0.01M252.2 134.9h0.01M249.6 141.1h0.01M244.2 129.7h0.01M234.8 146.1h0.01M249.2 144.4h0.01M239.1 140.2h0.01M235.1 141.4h0.01M261.5 131.2h0.01M241.5 125.2h0.01M267.5 133.4h0.01M271.2 114.6h0.01M253.1 140.2h0.01M236.6 130.2h0.01M235.0 143.5h0.01M260.0 127.1h0.01M255.8 128.3h0.01M235.6 133.7h0.01M263.5 112.3h0.01M238.6 134.6h0.01M268.7 127.2h0.01M235.4 143.9h0.01M251.3 128.7h0.01M235.0 137.6h0.01M268.5 127.3h0.01M241.3 144.8h0.01M234.5 142.3h0.01M237.9 146.3h0.01M253.1 122.7h0.01M252.4 133.6h0.01M255.6 119.5h0.01M250.6 144.8h0.01M260.3 131.0h0.01M259.8 132.9h0.01M255.4 137.9h0.01M253.0 126.0h0.01M257.2 129.5h0.01M250.1 144.4h0.01M253.2 131.9h0.01M261.4 112.9h0.01M274.8 109.5h0.01M251.7 131.4h0.01M235.1 139.3h0.01M274.1 97.2h0.01M281.1 113.8h0.01M268.7 110.5h0.01M235.1 140.7h0.01M262.9 141.0h0.01M282.6 94.1h0.01M257.8 108.0h0.01M272.2 116.8h0.01M241.6 144.3h0.01M235.0 145.2h0.01M243.8 139.0h0.01M252.9 129.3h0.01M258.6 113.8h0.01M257.9 140.4h0.01M246.8 137.9h0.01M267.2 106.1h0.01M235.6 144.8h0.01M259.5 124.0h0.01M234.4 145.6h0.01M261.7 131.9h0.01M239.1 141.6h0.01M243.0 142.4h0.01M246.2 136.5h0.01M258.2 134.2h0.01M272.5 113.4h0.01M246.5 127.1h0.01M258.6 124.6h0.01M250.0 122.5h0.01M242.8 126.9h0.01M241.8 141.3h0.01M260.7 122.3h0.01M243.0 126.5h0.01M283.9 105.3h0.01M277.8 120.1h0.01M251.9 139.4h0.01M256.1 136.2h0.01M241.8 145.5h0.01M234.1 135.9h0.01M287.3 102.9h0.01M253.2 129.2h0.01M283.5 111.9h0.01M246.6 140.3h0.01M258.4 143.2h0.01M236.2 134.9h0.01M265.7 104.3h0.01M253.0 136.8h0.01M249.9 126.7h0.01M236.3 141.4h0.01M234.4 143.6h0.01M234.8 144.6h0.01M235.1 139.8h0.01M286.6 119.8h0.01M234.1 144.9h0.01M257.0 132.2h0.01M262.9 127.2h0.01M287.3 125.2h0.01M234.8 138.4h0.01M267.4 114.7h0.01M268.6 126.1h0.01M259.6 115.5h0.01M237.7 138.1h0.01M251.2 144.2h0.01M262.3 130.2h0.01M238.4 141.5h0.01M252.8 146.0h0.01M249.4 126.0h0.01M246.4 135.5h0.01M262.1 122.1h0.01M244.1 140.0h0.01M248.0 126.4h0.01M240.0 142.9h0.01M269.2 124.9h0.01M247.8 141.9h0.01M242.4 133.3h0.01M252.9 134.4h0.01M239.2 143.6h0.01M246.3 129.1h0.01M278.9 112.5h0.01M248.0 124.5h0.01M270.3 138.2h0.01M272.0 136.2h0.01M244.1 137.4h0.01M249.9 139.2h0.01M244.7 128.9h0.01M243.1 141.4h0.01M261.6 121.9h0.01M234.8 142.7h0.01M256.3 131.7h0.01M234.9 141.9h0.01M238.2 144.0h0.01M263.0 127.7h0.01M235.7 140.3h0.01M235.2 145.9h0.01M235.4 145.7h0.01M255.5 144.9h0.01M240.8 144.0h0.01M234.7 145.2h0.01M261.9 120.1h0.01M255.8 133.3h0.01M263.0 130.8h0.01M244.5 144.9h0.01M238.4 131.5h0.01M268.7 119.4h0.01M251.4 140.3h0.01M234.4 142.0h0.01M259.9 143.2h0.01M237.1 145.3h0.01M264.6 133.9h0.01M239.0 134.8h0.01M248.3 120.2h0.01M254.5 131.9h0.01M245.4 135.9h0.01M259.4 120.0h0.01M277.0 120.1h0.01M247.9 126.7h0.01M239.9 131.6h0.01M248.1 141.7h0.01M254.8 132.5h0.01M270.0 104.3h0.01M261.4 126.8h0.01M259.9 127.7h0.01M245.5 138.1h0.01M249.1 143.4h0.01M261.3 93.4h0.01M264.3 112.7h0.01M271.7 130.7h0.01M256.5 126.4h0.01M236.4 130.2h0.01M256.6 139.2h0.01M234.6 137.9h0.01M234.9 136.9h0.01M241.3 145.2h0.01M255.3 129.8h0.01M257.6 119.2h0.01M235.0 141.8h0.01M235.6 145.0h0.01M256.5 134.2h0.01M261.4 129.7h0.01M265.9 131.4h0.01M234.3 144.8h0.01M263.9 109.9h0.01M271.8 119.2h0.01M239.3 124.7h0.01M277.1 110.3h0.01M251.5 138.0h0.01M242.7 144.4h0.01M239.3 142.2h0.01M244.1 142.2h0.01M285.2 106.0h0.01M272.9 116.2h0.01M246.9 135.8h0.01M253.7 137.0h0.01M240.8 136.6h0.01M250.7 138.9h0.01M270.6 118.7h0.01M250.5 135.1h0.01M234.7 134.6h0.01M257.5 122.2h0.01M254.0 144.7h0.01M251.7 138.9h0.01M283.6 113.9h0.01M260.8 130.9h0.01M263.5 128.3h0.01M251.1 134.4h0.01M266.1 128.1h0.01M234.4 145.8h0.01M253.9 127.9h0.01M259.1 124.7h0.01M240.6 135.9h0.01M266.5 137.5h0.01M274.5 126.9h0.01M251.0 130.9h0.01M236.0 139.7h0.01M237.6 142.1h0.01M262.1 141.3h0.01M260.8 129.7h0.01M234.6 145.8h0.01M256.4 130.5h0.01M253.1 142.7h0.01M263.7 113.6h0.01M275.5 103.7h0.01M260.7 125.1h0.01M243.3 141.8h0.01M235.6 148.1h0.01M266.2 112.9h0.01M239.7 132.1h0.01M234.4 139.4h0.01M252.8 145.8h0.01M251.4 134.0h0.01M266.2 127.4h0.01M235.0 138.2h0.01M250.4 138.8h0.01M257.3 131.8h0.01M256.9 125.9h0.01M239.5 136.4h0.01M240.5 139.3h0.01M234.5 143.2h0.01M261.0 129.7h0.01M258.7 138.5h0.01M272.7 112.9h0.01M246.4 138.0h0.01M259.6 134.0h0.01M236.5 138.0h0.01M255.5 131.0h0.01M272.2 132.1h0.01M272.4 131.3h0.01M263.0 110.5h0.01M262.8 121.2h0.01M259.8 128.7h0.01M240.5 139.5h0.01M256.7 144.9h0.01M249.8 143.1h0.01M255.2 126.2h0.01M236.9 139.1h0.01M242.3 143.4h0.01M245.5 139.1h0.01M236.5 134.3h0.01M250.7 134.0h0.01M287.1 101.4h0.01M253.4 130.5h0.01M236.4 129.3h0.01M244.7 132.6h0.01M260.8 126.6h0.01M241.8 140.5h0.01M235.6 145.4h0.01M272.1 126.9h0.01M266.5 121.3h0.01M269.2 123.7h0.01M263.7 142.3h0.01M234.6 126.9h0.01M244.7 128.3h0.01M239.3 132.0h0.01M256.7 137.1h0.01M258.9 115.7h0.01M236.4 140.9h0.01M266.9 125.2h0.01M242.9 134.3h0.01M249.3 139.1h0.01M242.3 140.2h0.01M242.4 144.6h0.01M239.5 136.9h0.01M252.7 127.3h0.01M253.4 131.9h0.01M262.6 135.4h0.01M256.7 125.0h0.01M247.8 145.7h0.01M244.5 138.8h0.01M258.0 140.7h0.01M242.0 128.3h0.01M286.2 113.4h0.01M255.7 127.0h0.01M270.1 104.5h0.01M275.1 123.8h0.01M254.7 146.2h0.01M234.5 124.9h0.01M243.2 130.0h0.01M251.4 135.6h0.01M283.4 105.5h0.01M268.2 126.7h0.01M241.2 138.5h0.01M266.1 122.5h0.01M249.5 132.2h0.01M252.1 130.3h0.01M245.5 142.8h0.01M235.5 142.1h0.01M261.8 119.1h0.01M268.6 124.3h0.01M271.3 117.4h0.01M250.3 135.8h0.01M234.4 147.7h0.01M246.0 142.0h0.01M240.5 143.1h0.01M271.5 121.1h0.01M262.9 121.9h0.01M256.0 138.6h0.01M280.2 117.5h0.01M234.6 141.4h0.01M236.8 137.3h0.01M249.9 127.8h0.01M256.1 133.1h0.01M255.8 129.3h0.01M260.4 125.7h0.01M269.7 138.0h0.01M241.9 147.7h0.01M252.6 129.0h0.01M254.1 132.0h0.01M277.0 116.2h0.01M265.2 112.0h0.01M239.3 140.4h0.01M248.8 121.2h0.01M238.9 129.7h0.01M252.4 143.1h0.01M273.9 132.4h0.01M253.2 134.3h0.01M271.4 124.3h0.01M246.7 139.7h0.01M255.6 143.2h0.01M234.7 143.4h0.01M256.0 136.5h0.01M257.2 138.2h0.01M234.2 139.6h0.01M242.0 139.8h0.01M257.0 127.4h0.01M276.0 120.0h0.01M245.5 139.2h0.01M257.4 127.9h0.01M268.8 111.1h0.01M238.7 128.0h0.01M242.0 128.4h0.01M235.3 140.7h0.01M241.0 141.6h0.01M266.4 128.6h0.01M256.9 128.8h0.01M287.4 112.9h0.01M275.9 121.2h0.01M278.5 105.9h0.01M262.4 117.1h0.01M271.9 138.0h0.01M254.1 136.6h0.01M254.1 123.3h0.01M237.1 148.7h0.01M235.2 133.6h0.01M240.6 144.1h0.01M276.0 94.6h0.01M252.8 137.8h0.01M251.3 139.4h0.01M261.8 111.2h0.01M234.8 143.2h0.01M239.0 144.5h0.01M252.3 138.4h0.01M270.9 112.8h0.01M258.4 111.2h0.01M253.5 121.8h0.01M242.9 140.5h0.01M237.3 144.3h0.01M273.7 102.4h0.01M235.0 139.3h0.01M238.4 145.9h0.01M259.8 122.8h0.01M287.8 123.7h0.01M268.9 127.5h0.01M235.0 138.7h0.01M273.4 109.1h0.01M278.4 104.5h0.01M270.6 136.3h0.01M259.3 133.2h0.01M235.1 144.8h0.01M274.0 121.1h0.01M240.9 140.3h0.01M243.4 134.9h0.01M279.4 115.7h0.01M262.2 137.4h0.01M234.8 146.1h0.01M237.9 134.5h0.01M243.7 139.9h0.01M256.0 124.1h0.01M262.1 112.2h0.01M249.4 119.5h0.01M234.3 140.7h0.01M265.6 126.2h0.01M243.0 138.9h0.01M252.4 132.2h0.01M247.2 132.7h0.01M244.1 142.3h0.01M239.7 145.3h0.01M260.5 121.5h0.01M249.6 142.7h0.01M246.3 119.4h0.01M287.1 116.6h0.01M279.8 107.7h0.01M276.8 127.5h0.01M235.5 144.1h0.01M248.7 140.6h0.01M260.1 139.8h0.01M249.6 145.7h0.01M243.6 129.4h0.01M257.0 133.4h0.01M264.8 123.2h0.01M234.9 141.1h0.01M284.3 111.8h0.01M251.3 136.9h0.01M241.9 140.0h0.01M245.1 126.5h0.01M249.9 130.3h0.01M235.5 144.8h0.01M266.7 123.2h0.01M236.2 148.5h0.01M257.4 139.7h0.01M242.1 141.9h0.01M235.0 146.1h0.01M237.3 136.2h0.01M249.5 134.9h0.01M247.5 136.1h0.01M240.9 143.2h0.01M234.6 144.8h0.01M249.8 130.3h0.01M251.8 143.6h0.01M248.3 143.5h0.01M278.5 107.2h0.01M242.8 129.0h0.01M256.8 127.6h0.01M242.5 132.0h0.01M245.7 141.6h0.01M243.1 142.2h0.01M276.4 113.7h0.01M246.5 141.7h0.01M263.1 133.3h0.01M234.9 146.2h0.01M256.1 122.3h0.01M246.1 141.7h0.01M280.3 122.1h0.01M248.9 133.1h0.01M243.7 144.5h0.01M237.4 140.0h0.01M248.7 129.3h0.01M255.5 133.7h0.01M236.4 136.6h0.01M234.5 138.6h0.01M272.4 124.8h0.01M245.2 138.8h0.01M246.5 135.3h0.01M273.4 121.6h0.01M247.1 136.4h0.01M261.3 140.8h0.01M270.6 111.0h0.01M256.7 135.5h0.01M272.6 122.1h0.01M251.3 127.9h0.01M261.4 135.9h0.01M253.2 131.8h0.01M262.9 122.7h0.01M253.4 122.5h0.01M234.5 143.4h0.01M258.5 133.1h0.01M236.9 130.5h0.01M249.5 146.2h0.01M265.6 128.9h0.01M275.3 107.7h0.01M235.8 141.2h0.01M264.8 135.5h0.01M260.2 103.6h0.01M263.8 131.2h0.01M268.7 111.1h0.01M251.6 133.9h0.01M241.5 130.7h0.01M241.1 145.6h0.01M249.6 132.4h0.01M276.3 95.1h0.01M234.6 142.7h0.01M262.0 117.1h0.01M243.2 145.8h0.01M249.2 140.6h0.01M253.4 112.1h0.01M273.2 120.2h0.01M251.9 108.8h0.01M240.9 115.2h0.01M257.6 135.5h0.01M258.5 126.1h0.01M234.8 131.0h0.01M284.2 117.4h0.01M235.0 144.1h0.01M256.4 124.2h0.01M252.9 130.9h0.01M256.4 128.0h0.01M251.2 118.4h0.01M274.5 112.7h0.01M262.6 122.5h0.01M241.8 143.1h0.01M246.6 131.2h0.01M274.1 115.6h0.01M241.2 137.5h0.01M259.5 120.6h0.01M249.7 133.7h0.01M258.0 140.2h0.01M274.8 116.0h0.01M262.3 125.6h0.01M274.7 112.9h0.01M274.6 109.3h0.01M247.7 143.2h0.01M263.1 102.4h0.01M239.2 119.5h0.01M246.9 144.0h0.01M259.4 127.7h0.01M258.6 129.1h0.01M240.2 142.0h0.01M282.3 119.2h0.01M260.2 127.2h0.01M252.7 140.2h0.01M249.0 121.3h0.01M267.9 131.6h0.01M273.6 111.6h0.01M245.1 141.9h0.01M245.7 144.3h0.01M249.3 130.9h0.01M281.5 110.8h0.01M283.8 120.8h0.01M255.2 125.4h0.01M239.2 144.3h0.01M253.3 123.7h0.01M259.8 127.3h0.01M267.1 106.2h0.01M247.2 138.6h0.01M279.2 98.3h0.01M251.9 134.3h0.01M280.6 135.2h0.01M274.8 125.8h0.01M279.2 115.5h0.01M257.4 141.5h0.01M276.8 99.6h0.01M236.5 141.8h0.01M259.0 135.3h0.01M236.1 148.7h0.01M241.3 144.6h0.01M269.4 132.9h0.01M238.2 143.3h0.01M256.9 140.3h0.01M234.2 144.0h0.01M258.2 145.6h0.01M270.5 115.2h0.01M253.1 131.7h0.01M251.4 143.8h0.01M250.7 133.9h0.01M254.8 132.8h0.01M281.7 122.7h0.01M235.6 144.7h0.01M260.3 127.0h0.01M272.5 130.3h0.01M246.3 142.6h0.01M267.7 96.7h0.01M247.4 129.4h0.01M236.1 143.9h0.01M283.5 119.6h0.01M234.7 138.6h0.01M234.7 145.3h0.01M283.7 117.8h0.01M262.9 119.2h0.01M234.3 142.1h0.01M237.0 141.7h0.01M234.3 146.1h0.01M256.1 122.6h0.01M282.5 91.5h0.01M282.9 107.0h0.01M246.0 144.1h0.01M242.0 143.1h0.01M237.8 140.1h0.01M268.1 117.0h0.01M251.4 122.6h0.01M276.8 120.1h0.01M235.0 147.8h0.01M248.9 141.7h0.01M263.5 131.3h0.01M252.6 140.4h0.01M265.9 137.3h0.01M286.5 117.9h0.01M238.9 141.3h0.01M236.5 138.2h0.01M261.3 119.9h0.01M255.3 137.8h0.01M236.7 133.0h0.01M235.5 145.7h0.01M276.1 125.4h0.01M248.7 139.3h0.01M253.8 132.5h0.01M271.3 124.3h0.01M235.7 133.3h0.01M254.5 129.0h0.01M259.2 133.4h0.01M269.4 129.1h0.01M261.4 131.7h0.01M271.9 127.4h0.01M262.7 144.2h0.01M241.1 140.7h0.01M263.7 124.6h0.01M241.2 141.7h0.01M234.6 134.7h0.01M272.1 123.3h0.01M276.5 110.8h0.01M236.1 142.7h0.01M252.5 140.2h0.01M250.3 141.1h0.01M257.8 127.2h0.01M274.4 118.5h0.01M235.5 145.2h0.01M253.4 140.9h0.01M246.0 130.0h0.01M247.7 140.4h0.01M234.8 139.9h0.01M243.7 144.8h0.01M260.8 134.0h0.01M259.6 119.7h0.01M234.7 146.2h0.01M262.1 130.7h0.01M234.3 141.4h0.01M238.8 132.1h0.01M243.0 141.7h0.01M270.8 119.7h0.01M278.0 116.2h0.01M236.7 132.7h0.01M268.4 121.9h0.01M242.5 138.1h0.01M255.9 137.5h0.01M234.6 140.7h0.01M238.4 132.0h0.01M262.8 124.7h0.01M245.2 132.0h0.01M253.4 143.9h0.01M286.9 111.2h0.01M249.0 131.1h0.01M241.8 127.7h0.01M251.5 119.1h0.01M282.8 93.2h0.01M244.7 144.4h0.01M247.9 141.2h0.01M265.8 120.2h0.01M257.2 128.2h0.01M252.9 136.2h0.01M255.6 125.4h0.01M242.3 137.3h0.01M245.9 140.1h0.01M250.3 134.6h0.01M271.4 123.9h0.01M242.9 144.8h0.01M250.5 146.2h0.01M234.6 144.7h0.01M271.6 128.1h0.01M264.1 108.6h0.01M235.2 137.6h0.01M234.8 143.6h0.01M235.1 144.3h0.01M246.7 139.1h0.01M261.1 114.0h0.01M247.7 134.4h0.01M245.9 140.9h0.01M261.9 132.8h0.01M251.9 132.8h0.01M234.7 143.9h0.01M242.5 131.7h0.01M274.6 127.7h0.01M274.6 121.0h0.01M263.9 123.3h0.01M263.1 119.4h0.01M237.0 135.3h0.01M256.8 139.7h0.01M255.1 130.3h0.01M247.8 128.5h0.01M239.8 140.1h0.01M248.1 138.2h0.01M260.5 131.7h0.01M255.2 124.1h0.01M278.4 111.6h0.01M267.7 119.8h0.01M258.4 126.0h0.01M248.8 140.6h0.01M286.9 90.8h0.01M256.5 139.9h0.01M258.6 130.4h0.01M248.5 142.5h0.01M240.9 145.5h0.01M265.6 107.2h0.01M274.4 105.5h0.01M256.4 131.8h0.01M259.2 126.1h0.01M245.5 138.7h0.01M235.1 143.6h0.01M243.3 136.4h0.01M248.5 133.7h0.01M259.3 110.1h0.01M255.2 112.9h0.01M234.8 141.5h0.01M252.7 120.3h0.01M250.8 133.0h0.01M247.4 138.0h0.01M261.7 137.0h0.01M258.0 132.5h0.01M275.3 106.7h0.01M271.0 132.3h0.01M238.4 133.0h0.01M235.4 142.1h0.01M270.3 125.9h0.01M274.2 119.6h0.01M276.8 108.1h0.01M235.5 145.9h0.01M261.2 134.2h0.01M246.6 128.7h0.01M272.0 115.6h0.01M258.9 140.1h0.01M261.4 136.2h0.01M278.4 115.1h0.01M268.0 131.0h0.01M260.4 133.3h0.01M250.3 129.7h0.01M249.4 148.3h0.01M246.8 137.9h0.01M242.2 145.8h0.01M234.6 143.3h0.01M249.3 133.1h0.01M277.9 102.6h0.01M246.3 133.2h0.01M279.7 103.6h0.01M238.6 139.6h0.01M262.1 113.7h0.01M235.3 135.5h0.01M234.2 140.2h0.01M241.6 142.0h0.01M241.6 145.5h0.01M258.0 131.4h0.01M252.5 126.3h0.01M234.7 138.9h0.01M244.9 134.6h0.01M266.8 126.5h0.01M243.3 136.9h0.01M255.0 131.5h0.01M248.4 140.0h0.01M279.9 116.7h0.01M267.2 115.9h0.01M244.9 143.8h0.01M264.5 133.4h0.01M245.7 127.6h0.01M242.2 131.5h0.01M239.3 144.7h0.01M239.7 143.9h0.01M254.3 113.1h0.01M261.8 122.2h0.01M269.6 130.0h0.01M234.4 138.5h0.01M260.8 129.7h0.01M235.5 142.5h0.01M265.5 131.7h0.01M260.4 135.7h0.01M258.7 128.1h0.01M257.6 127.0h0.01M254.7 118.7h0.01M268.8 126.4h0.01M260.7 115.4h0.01M251.4 145.4h0.01M252.5 133.0h0.01M248.6 137.0h0.01M273.3 110.1h0.01M235.0 136.2h0.01M234.7 143.3h0.01M252.6 122.2h0.01M246.3 137.4h0.01M253.4 130.6h0.01M257.4 116.0h0.01M246.3 134.7h0.01M249.3 143.4h0.01M240.6 144.9h0.01M275.8 136.4h0.01M261.3 132.1h0.01M268.8 124.7h0.01M256.8 118.4h0.01M247.1 145.6h0.01M235.2 143.1h0.01M255.0 126.1h0.01M266.3 128.7h0.01M234.4 134.4h0.01M254.3 131.7h0.01M268.0 107.7h0.01M270.3 112.6h0.01M287.8 91.8h0.01M272.2 128.6h0.01M239.6 139.9h0.01M257.8 118.7h0.01M274.7 115.8h0.01M270.4 101.5h0.01M259.5 123.1h0.01M286.6 105.6h0.01M251.7 144.6h0.01M262.4 116.7h0.01M259.4 127.3h0.01M279.9 109.2h0.01M264.4 134.6h0.01M234.4 144.6h0.01M274.4 121.1h0.01M235.5 126.6h0.01M255.6 97.8h0.01M250.5 128.4h0.01M264.4 136.2h0.01M254.7 138.4h0.01M253.5 135.5h0.01M267.7 141.4h0.01M234.9 144.7h0.01M248.0 141.7h0.01M251.8 128.2h0.01M256.4 125.6h0.01M256.9 139.0h0.01M252.3 124.9h0.01M269.7 139.9h0.01M253.5 135.3h0.01M237.9 142.8h0.01M252.8 117.2h0.01M276.1 121.6h0.01M261.0 124.1h0.01M267.8 125.7h0.01M247.8 127.0h0.01M281.8 111.4h0.01M250.2 127.0h0.01M270.5 115.3h0.01M285.2 107.3h0.01M250.1 119.3h0.01M243.6 135.6h0.01M269.0 120.1h0.01M234.0 145.8h0.01M258.5 134.3h0.01M256.4 134.7h0.01M250.5 123.7h0.01M241.3 139.9h0.01M254.9 130.2h0.01M235.8 144.0h0.01M258.7 116.7h0.01M266.2 136.3h0.01M263.6 132.5h0.01M239.3 135.2h0.01M258.2 140.0h0.01M234.4 142.6h0.01M258.3 138.3h0.01M234.6 141.3h0.01M249.8 142.0h0.01M236.2 139.4h0.01M252.9 135.3h0.01M249.9 133.3h0.01M242.6 143.5h0.01M274.4 105.7h0.01M268.3 118.0h0.01M268.2 113.8h0.01M246.5 115.1h0.01M250.0 140.6h0.01M251.1 130.5h0.01M260.4 126.2h0.01M277.0 111.7h0.01M256.2 137.7h0.01M240.4 141.8h0.01M264.3 135.8h0.01M267.3 118.0h0.01M255.1 117.0h0.01M252.4 137.9h0.01M235.1 140.2h0.01M244.7 134.3h0.01M246.4 125.8h0.01M260.5 123.1h0.01M249.3 132.1h0.01M253.8 126.7h0.01M249.4 138.0h0.01M278.1 125.9h0.01M254.4 136.9h0.01M277.9 110.5h0.01M270.3 127.1h0.01M260.2 137.7h0.01M267.1 125.7h0.01M250.2 137.0h0.01M279.5 111.9h0.01M260.1 129.7h0.01M240.6 126.2h0.01M234.3 141.3h0.01M247.7 131.9h0.01M249.8 136.1h0.01M235.2 136.6h0.01M237.6 141.5h0.01M264.5 132.2h0.01M278.8 96.2h0.01M257.2 135.4h0.01M262.3 128.2h0.01M258.5 138.8h0.01M239.6 144.8h0.01M248.6 139.4h0.01M253.6 124.8h0.01M248.5 133.8h0.01M234.1 142.5h0.01M238.2 143.5h0.01M239.8 139.9h0.01M239.9 146.2h0.01M237.9 128.3h0.01M266.4 132.6h0.01M243.1 140.7h0.01M285.9 108.4h0.01M255.7 129.3h0.01M245.8 141.0h0.01M249.7 142.1h0.01M237.7 145.5h0.01M260.3 137.0h0.01M235.2 133.3h0.01M249.3 142.6h0.01M258.4 114.8h0.01M240.4 134.6h0.01M254.4 127.2h0.01M280.0 116.2h0.01M275.7 124.1h0.01M249.1 122.8h0.01M251.1 129.5h0.01M244.2 126.6h0.01M235.2 139.2h0.01M248.0 133.8h0.01M259.5 124.9h0.01M238.5 134.7h0.01M262.8 126.2h0.01M249.7 143.2h0.01M243.7 129.3h0.01M252.9 128.6h0.01M249.6 137.1h0.01M246.2 143.9h0.01M247.2 140.5h0.01M234.5 147.9h0.01M242.3 143.4h0.01M240.5 146.0h0.01M266.9 125.4h0.01M237.8 139.9h0.01M235.0 139.3h0.01M254.9 123.2h0.01M234.5 134.7h0.01M258.4 137.0h0.01M253.0 133.8h0.01M262.2 113.8h0.01M234.7 128.7h0.01M243.4 144.6h0.01M234.4 138.4h0.01M234.7 138.0h0.01M243.5 141.9h0.01M256.9 129.4h0.01M272.5 119.5h0.01M286.6 106.4h0.01M236.6 145.3h0.01M271.7 115.9h0.01M257.5 135.8h0.01M254.3 127.3h0.01M265.5 127.9h0.01M250.7 125.2h0.01M241.1 125.4h0.01M245.6 132.2h0.01M266.2 104.5h0.01M277.7 88.9h0.01M261.3 132.9h0.01M261.0 132.5h0.01M248.3 125.8h0.01M243.4 138.8h0.01M275.4 122.1h0.01M268.8 130.0h0.01M236.5 142.0h0.01M258.3 110.8h0.01M281.5 125.4h0.01M234.4 142.3h0.01M244.4 135.1h0.01M287.4 100.6h0.01M235.0 141.0h0.01M234.3 139.7h0.01M254.7 125.0h0.01M275.1 95.4h0.01M262.4 126.3h0.01M253.0 138.8h0.01M253.9 138.9h0.01M287.8 93.7h0.01M235.5 139.2h0.01M253.9 137.4h0.01M276.3 116.8h0.01M234.4 134.4h0.01M235.4 131.6h0.01M249.5 146.3h0.01M249.6 132.2h0.01M244.4 140.8h0.01M249.8 138.4h0.01M285.0 99.7h0.01M257.4 119.1h0.01M277.6 106.7h0.01M244.0 144.0h0.01M278.1 112.2h0.01M238.2 141.6h0.01M247.0 133.7h0.01M252.3 132.1h0.01M270.2 106.9h0.01M253.3 128.1h0.01M256.3 127.0h0.01M234.1 132.3h0.01M267.3 126.0h0.01M235.0 137.5h0.01M267.5 124.7h0.01M258.6 125.1h0.01M256.0 125.2h0.01M241.2 140.4h0.01M265.3 127.4h0.01M246.8 139.0h0.01M285.0 110.9h0.01M271.4 135.4h0.01M275.7 125.6h0.01M235.7 145.8h0.01M241.5 143.3h0.01M260.1 131.8h0.01M235.5 137.1h0.01M255.5 128.4h0.01M253.3 130.7h0.01M261.2 121.7h0.01M269.9 115.1h0.01M267.4 120.9h0.01M251.3 127.8h0.01M261.5 131.2h0.01M248.6 132.0h0.01M257.9 120.7h0.01M256.0 137.7h0.01M266.2 111.3h0.01M234.6 130.5h0.01M238.0 138.3h0.01M259.2 125.2h0.01M267.0 115.3h0.01M255.9 128.0h0.01M255.4 135.2h0.01M259.8 116.3h0.01M249.9 140.4h0.01M269.8 135.6h0.01M242.7 143.0h0.01M235.1 143.2h0.01M234.2 139.3h0.01M243.6 142.2h0.01M253.3 141.9h0.01M251.1 141.7h0.01M248.8 138.3h0.01M236.6 143.3h0.01M240.9 132.5h0.01M235.4 142.9h0.01M267.6 142.7h0.01M242.7 137.9h0.01M256.9 137.3h0.01M272.3 136.7h0.01M259.1 140.4h0.01M264.2 144.2h0.01M254.1 135.2h0.01M249.1 128.2h0.01M256.4 112.0h0.01M235.5 143.5h0.01M252.9 136.1h0.01M283.6 95.0h0.01M243.3 131.3h0.01M286.2 108.6h0.01M235.1 138.5h0.01M287.0 114.1h0.01M247.2 142.4h0.01M242.4 146.3h0.01M240.8 142.2h0.01M258.3 144.4h0.01M250.5 131.9h0.01M274.2 120.7h0.01M252.8 137.1h0.01M241.3 144.4h0.01M234.1 142.6h0.01M261.9 134.4h0.01M247.8 136.4h0.01M257.9 134.6h0.01M279.9 122.1h0.01M251.9 131.5h0.01M235.1 142.6h0.01M235.1 136.9h0.01M255.8 128.2h0.01M274.8 124.5h0.01M245.1 141.4h0.01M259.8 129.0h0.01M241.9 129.5h0.01M244.7 138.7h0.01M235.9 141.3h0.01M260.2 137.8h0.01M241.3 131.5h0.01M248.3 131.4h0.01M268.7 116.6h0.01M270.2 117.6h0.01M257.8 121.1h0.01M243.8 135.8h0.01M253.2 143.2h0.01M239.4 130.0h0.01M256.8 144.7h0.01M255.9 139.2h0.01M239.3 146.2h0.01M254.3 130.7h0.01M257.2 138.8h0.01M262.0 116.6h0.01M254.7 115.6h0.01M238.0 133.5h0.01M264.8 102.7h0.01M254.8 134.4h0.01M272.0 110.0h0.01M234.4 143.7h0.01M267.5 114.1h0.01M234.3 144.5h0.01M265.7 115.3h0.01M258.0 136.7h0.01M235.2 141.1h0.01M250.6 142.0h0.01M246.5 134.3h0.01M274.0 126.0h0.01M276.9 97.0h0.01M257.7 145.2h0.01M251.4 129.1h0.01M284.9 107.7h0.01M250.1 145.5h0.01M271.0 117.4h0.01M255.3 130.6h0.01M238.0 143.5h0.01M263.6 124.2h0.01M235.2 145.6h0.01M251.7 137.6h0.01M237.3 140.0h0.01M250.9 129.9h0.01M253.0 141.6h0.01M238.2 145.3h0.01M244.4 139.2h0.01M256.6 123.9h0.01M273.2 123.0h0.01M243.4 142.4h0.01M242.4 142.5h0.01M249.0 134.2h0.01M266.9 108.3h0.01M234.3 136.2h0.01M280.8 103.9h0.01M264.8 122.4h0.01M248.4 126.7h0.01M269.3 123.5h0.01M256.4 116.7h0.01M253.1 137.7h0.01M248.5 127.9h0.01M261.6 135.3h0.01M238.3 139.6h0.01M247.9 136.3h0.01M239.8 122.8h0.01M254.3 137.1h0.01M243.1 133.9h0.01M258.5 133.1h0.01M253.7 142.0h0.01M243.9 128.6h0.01M251.6 134.9h0.01M254.5 123.1h0.01M249.7 132.8h0.01M249.4 131.2h0.01M244.6 143.7h0.01M264.9 125.4h0.01M241.7 136.6h0.01M264.6 132.8h0.01M262.5 130.9h0.01M265.1 129.8h0.01M244.1 133.7h0.01M243.0 136.4h0.01M274.9 113.2h0.01M235.3 136.7h0.01M253.7 130.3h0.01M240.1 143.8h0.01M234.4 140.2h0.01M234.8 131.2h0.01M252.6 132.9h0.01M242.3 131.5h0.01M246.3 132.3h0.01M258.2 141.3h0.01M267.3 122.1h0.01M235.2 145.6h0.01M247.8 140.7h0.01M238.9 145.5h0.01M251.9 137.6h0.01M254.4 142.4h0.01M277.7 111.2h0.01M285.4 106.2h0.01M241.3 144.6h0.01M271.6 119.3h0.01M247.9 135.9h0.01M261.8 128.7h0.01M272.4 117.8h0.01M237.0 133.2h0.01M259.6 126.5h0.01M247.2 137.3h0.01M238.3 142.1h0.01M255.5 144.4h0.01M259.2 140.4h0.01M277.2 106.7h0.01M242.4 136.5h0.01M234.9 138.0h0.01M282.0 98.2h0.01M234.4 144.1h0.01M248.0 131.4h0.01M264.6 136.7h0.01M266.2 118.2h0.01M270.2 118.4h0.01M282.7 109.4h0.01M268.4 118.3h0.01M253.4 140.7h0.01M248.2 139.4h0.01M241.3 141.6h0.01M245.0 136.6h0.01M248.4 122.1h0.01M243.2 132.3h0.01M237.0 142.9h0.01M279.0 109.1h0.01M248.7 138.7h0.01M253.0 125.3h0.01M235.4 144.5h0.01M234.2 146.3h0.01M267.3 113.8h0.01M251.9 136.8h0.01M235.2 134.7h0.01M272.5 123.4h0.01M240.6 140.1h0.01M256.0 135.6h0.01M242.2 142.5h0.01M261.0 124.6h0.01M246.2 131.8h0.01M235.0 144.3h0.01M264.5 133.2h0.01M268.1 131.0h0.01M238.2 141.7h0.01M247.5 134.7h0.01M240.9 141.3h0.01M235.1 145.9h0.01M261.9 130.7h0.01M260.8 132.3h0.01M278.3 121.3h0.01M257.8 115.2h0.01M251.2 143.0h0.01M246.1 133.8h0.01M234.9 142.5h0.01M277.0 118.7h0.01M237.9 145.2h0.01M235.6 139.5h0.01M254.2 138.7h0.01M258.7 136.9h0.01M284.1 107.8h0.01M273.9 121.9h0.01M248.0 138.5h0.01M234.6 144.7h0.01M234.7 145.0h0.01M250.8 129.1h0.01M242.4 135.0h0.01M277.6 104.4h0.01M260.7 127.7h0.01M269.2 119.9h0.01M262.9 130.8h0.01M262.8 130.9h0.01M244.7 143.7h0.01M245.0 143.0h0.01M275.7 122.8h0.01M242.5 146.1h0.01M243.1 131.9h0.01M236.2 132.8h0.01M253.2 133.8h0.01M246.2 135.5h0.01M239.1 140.1h0.01M241.8 129.6h0.01M255.2 137.0h0.01M235.0 141.5h0.01M268.5 138.3h0.01M281.1 126.1h0.01M258.7 131.0h0.01M273.8 113.1h0.01M263.6 118.6h0.01M265.6 132.8h0.01M271.7 104.2h0.01M259.5 135.7h0.01M235.2 135.3h0.01M259.0 124.2h0.01M246.3 143.1h0.01M272.7 114.3h0.01M242.7 119.3h0.01M258.8 143.7h0.01M234.9 148.0h0.01M278.5 108.5h0.01M257.9 141.1h0.01M235.0 137.5h0.01M242.7 139.0h0.01M239.9 144.9h0.01M242.9 134.7h0.01M247.4 135.1h0.01M237.3 130.7h0.01M258.4 129.8h0.01M256.1 123.9h0.01M245.6 142.2h0.01M248.7 136.6h0.01M264.9 138.6h0.01M240.8 144.1h0.01M256.7 133.0h0.01M248.7 129.2h0.01M260.2 128.8h0.01M257.0 139.0h0.01M256.5 137.7h0.01M239.3 137.5h0.01M249.2 114.6h0.01M244.7 140.5h0.01M234.7 138.6h0.01M269.8 109.5h0.01M256.1 136.7h0.01M248.7 129.3h0.01M271.9 129.4h0.01M251.3 141.4h0.01M267.8 113.8h0.01M254.3 136.9h0.01M251.3 134.1h0.01M285.0 108.7h0.01M267.1 132.6h0.01M246.2 136.5h0.01M259.6 132.9h0.01M264.6 113.5h0.01M279.3 120.6h0.01M255.2 128.4h0.01M246.6 129.7h0.01M263.1 131.2h0.01M252.4 135.0h0.01M274.5 100.5h0.01M265.7 124.9h0.01M253.4 140.3h0.01M251.1 129.1h0.01M250.8 144.6h0.01M241.3 124.7h0.01M254.5 136.0h0.01M253.2 132.2h0.01M247.2 134.7h0.01M235.1 148.4h0.01M246.8 135.4h0.01M254.4 137.8h0.01M260.6 124.2h0.01M248.5 130.0h0.01M249.8 130.1h0.01M274.1 108.8h0.01M255.5 124.9h0.01M241.3 126.3h0.01M262.4 117.6h0.01M248.5 134.2h0.01M243.8 144.1h0.01M248.1 136.7h0.01M256.6 128.0h0.01M282.8 113.2h0.01M268.2 130.4h0.01M256.6 119.1h0.01M258.2 123.2h0.01M250.0 138.9h0.01M242.5 127.7h0.01M280.2 106.1h0.01M253.6 128.8h0.01M237.3 131.4h0.01M234.4 145.8h0.01M257.6 143.7h0.01M251.5 144.7h0.01M282.1 103.6h0.01M238.6 145.7h0.01M252.6 130.7h0.01M272.4 127.3h0.01M255.9 132.6h0.01M249.8 145.3h0.01M234.8 144.6h0.01M234.4 131.2h0.01M249.8 127.1h0.01M255.8 134.1h0.01M234.3 139.7h0.01M265.3 119.8h0.01M252.7 121.6h0.01M241.9 134.0h0.01M285.4 111.0h0.01M245.6 141.3h0.01M252.1 135.4h0.01M251.8 144.6h0.01M271.2 94.0h0.01M281.3 110.1h0.01M238.0 138.7h0.01M245.2 141.6h0.01M247.0 132.7h0.01M256.2 131.6h0.01M276.3 107.1h0.01M262.4 129.8h0.01M261.6 123.1h0.01M242.1 144.3h0.01M259.2 134.1h0.01M240.2 141.1h0.01M264.8 131.5h0.01M281.3 125.8h0.01M253.9 137.9h0.01M249.4 135.8h0.01M256.7 133.6h0.01M258.4 127.3h0.01M238.0 135.4h0.01M240.2 146.2h0.01M249.9 141.9h0.01M237.1 132.4h0.01M257.8 126.6h0.01M255.7 132.0h0.01M256.3 130.4h0.01M281.7 100.7h0.01M248.4 129.3h0.01M258.1 124.4h0.01M265.6 136.2h0.01M235.6 142.6h0.01M258.6 136.8h0.01M259.4 136.7h0.01M242.2 138.4h0.01M256.9 137.3h0.01M258.8 114.1h0.01M255.9 135.8h0.01M264.7 107.2h0.01M242.6 144.0h0.01M246.7 133.3h0.01M260.2 119.3h0.01M250.0 141.7h0.01M244.2 139.6h0.01M251.5 125.3h0.01M257.4 124.1h0.01M266.3 122.0h0.01M242.2 144.8h0.01M235.2 141.1h0.01M234.9 144.0h0.01M255.2 122.4h0.01M286.7 117.5h0.01M234.8 137.8h0.01M248.8 124.4h0.01M247.5 128.7h0.01M246.8 142.3h0.01M234.8 145.5h0.01M254.5 127.6h0.01M251.0 129.9h0.01M255.3 120.9h0.01M258.8 119.6h0.01M261.6 95.7h0.01M274.6 116.8h0.01M234.3 147.9h0.01M245.0 140.3h0.01M256.9 145.2h0.01M267.7 114.6h0.01M234.9 141.6h0.01M262.4 135.7h0.01M249.1 137.9h0.01M256.7 127.5h0.01M237.6 137.4h0.01M253.9 128.2h0.01M263.9 128.1h0.01M272.5 103.3h0.01M259.8 117.7h0.01M247.9 143.5h0.01M248.9 122.1h0.01M248.4 131.2h0.01M242.8 123.9h0.01M237.6 143.8h0.01M238.8 134.8h0.01M249.5 145.5h0.01M273.4 96.2h0.01M266.2 118.3h0.01M281.6 111.9h0.01M242.5 133.9h0.01M260.0 142.8h0.01M242.3 145.7h0.01M235.0 143.1h0.01M250.0 119.3h0.01M254.9 123.7h0.01M234.0 138.3h0.01M235.1 141.1h0.01M235.7 146.1h0.01M258.3 144.7h0.01M254.6 127.6h0.01M259.2 140.3h0.01M241.8 144.3h0.01M275.0 122.9h0.01M251.2 142.9h0.01M236.2 143.2h0.01M256.8 131.0h0.01M256.4 140.8h0.01M262.9 123.1h0.01M267.7 117.4h0.01M252.2 131.0h0.01M257.6 129.5h0.01M274.7 121.6h0.01M234.4 142.6h0.01M261.2 111.5h0.01M238.0 128.5h0.01M250.0 130.7h0.01M247.3 127.5h0.01M261.9 131.9h0.01M246.3 132.4h0.01M259.0 142.1h0.01M272.3 137.1h0.01M257.8 129.8h0.01M264.8 118.7h0.01M268.8 123.4h0.01M280.8 109.1h0.01M241.5 136.1h0.01M248.8 130.8h0.01M280.1 113.9h0.01M245.9 140.8h0.01M264.5 105.7h0.01M249.9 118.1h0.01M249.8 133.7h0.01M249.2 140.6h0.01M275.7 125.4h0.01M249.1 144.3h0.01M254.2 142.8h0.01M263.7 119.2h0.01M263.1 139.2h0.01M259.7 116.3h0.01M265.6 125.8h0.01M265.0 135.9h0.01M248.7 140.5h0.01M241.6 145.4h0.01M235.1 148.3h0.01M274.0 105.5h0.01M270.6 116.0h0.01M246.7 145.6h0.01M241.7 137.2h0.01M259.9 142.8h0.01M273.7 114.8h0.01M253.4 139.4h0.01M248.8 136.0h0.01M243.8 134.6h0.01M250.4 140.1h0.01M252.9 137.2h0.01M254.4 132.2h0.01M251.2 147.9h0.01M234.7 127.8h0.01M234.7 144.7h0.01M255.0 126.8h0.01M250.0 131.2h0.01M261.2 123.2h0.01M287.4 121.2h0.01M249.7 131.9h0.01M272.5 115.9h0.01M263.9 128.5h0.01M235.2 141.5h0.01M259.1 124.9h0.01M265.7 122.9h0.01M264.1 113.5h0.01M239.7 145.4h0.01M242.3 144.7h0.01M241.5 139.0h0.01M239.9 134.9h0.01M268.9 110.1h0.01M235.2 143.3h0.01M252.2 143.2h0.01M248.9 139.0h0.01M234.6 146.1h0.01M244.8 141.9h0.01M245.9 129.0h0.01M254.1 146.3h0.01M258.1 138.8h0.01M283.5 106.9h0.01M240.3 135.1h0.01M234.8 145.2h0.01M261.5 134.5h0.01M282.9 120.8h0.01M264.9 102.3h0.01M252.9 128.7h0.01M247.8 142.3h0.01M251.3 124.9h0.01M260.8 123.7h0.01M248.5 133.6h0.01M244.9 145.7h0.01M252.4 141.8h0.01M248.6 144.9h0.01M265.4 126.8h0.01M255.9 140.6h0.01M247.8 140.3h0.01M262.4 115.7h0.01M261.7 109.9h0.01M283.4 114.3h0.01M280.9 120.2h0.01M251.2 132.7h0.01M248.7 120.0h0.01M277.2 115.3h0.01M247.0 133.9h0.01M261.4 117.9h0.01M252.3 144.5h0.01M264.7 124.3h0.01M274.9 124.4h0.01M248.4 127.3h0.01M258.1 121.5h0.01M255.0 135.0h0.01M249.5 134.3h0.01M253.0 115.7h0.01M276.7 103.0h0.01M251.6 127.6h0.01M253.7 128.2h0.01M252.8 143.4h0.01M252.1 126.5h0.01M264.4 112.9h0.01M266.8 111.6h0.01M254.5 129.6h0.01M254.5 128.7h0.01M248.2 139.9h0.01M265.2 98.6h0.01M262.5 113.8h0.01M255.4 122.8h0.01M235.4 142.8h0.01M256.2 131.5h0.01M241.9 145.7h0.01M258.5 123.1h0.01M242.0 143.9h0.01M262.2 124.3h0.01M235.1 145.7h0.01M242.0 139.1h0.01M244.4 135.4h0.01M250.4 146.2h0.01M261.8 115.1h0.01M238.0 144.3h0.01M234.4 138.9h0.01M282.1 116.3h0.01M254.9 127.5h0.01M256.2 128.6h0.01M234.3 143.7h0.01M241.0 134.8h0.01M262.1 130.6h0.01M234.1 142.7h0.01M261.2 139.1h0.01M240.3 116.7h0.01M257.2 136.1h0.01M245.5 145.2h0.01M240.4 132.1h0.01M277.0 105.6h0.01M237.1 135.5h0.01M251.9 126.8h0.01M263.9 129.2h0.01M249.6 140.5h0.01M253.2 136.7h0.01M238.8 140.1h0.01M248.8 123.8h0.01M239.3 139.6h0.01M250.8 121.7h0.01M262.1 116.3h0.01M244.6 136.3h0.01M238.0 141.8h0.01M234.8 140.9h0.01M278.1 110.8h0.01M276.6 118.3h0.01M262.2 132.3h0.01M235.4 133.5h0.01M260.5 121.0h0.01M253.5 128.1h0.01M250.4 136.6h0.01M275.2 116.7h0.01M245.3 139.6h0.01M259.4 123.0h0.01M250.0 134.6h0.01M235.3 145.5h0.01M253.6 138.1h0.01M236.5 130.0h0.01M241.4 144.2h0.01M249.9 127.6h0.01M254.1 141.0h0.01M234.2 144.0h0.01M252.9 126.7h0.01M250.0 125.3h0.01M257.2 125.6h0.01M254.3 121.2h0.01M246.4 135.4h0.01M247.7 135.8h0.01M259.3 124.9h0.01M244.1 131.3h0.01M262.5 111.6h0.01M234.8 144.0h0.01M250.3 142.5h0.01M277.2 123.7h0.01M263.5 122.9h0.01M248.4 120.5h0.01M245.9 142.2h0.01M237.3 139.9h0.01M255.3 123.7h0.01M234.2 141.5h0.01M253.5 134.1h0.01M235.6 138.7h0.01M267.7 117.2h0.01M263.8 145.6h0.01M262.2 115.1h0.01M270.7 122.7h0.01M284.3 108.6h0.01M277.2 112.0h0.01M285.1 114.3h0.01M263.0 126.4h0.01M264.5 135.7h0.01M251.5 134.1h0.01M275.1 126.5h0.01M262.8 136.1h0.01M247.6 133.9h0.01M250.9 138.5h0.01M258.4 144.5h0.01M245.4 145.2h0.01M235.2 145.5h0.01M249.7 138.0h0.01M246.9 139.4h0.01M242.5 140.8h0.01M258.5 131.1h0.01M244.9 138.9h0.01M249.7 142.7h0.01M274.5 119.6h0.01M247.7 131.4h0.01M258.9 114.5h0.01M242.5 145.9h0.01M255.8 145.8h0.01M248.8 139.1h0.01M241.7 145.3h0.01M253.8 133.0h0.01M245.4 145.8h0.01M254.8 127.7h0.01M245.7 134.1h0.01M240.0 130.9h0.01M251.8 134.3h0.01M259.0 128.2h0.01M263.4 130.6h0.01M257.6 128.1h0.01M254.0 132.7h0.01M239.6 139.9h0.01M263.3 131.0h0.01M234.5 139.7h0.01M258.8 126.9h0.01M265.7 122.9h0.01M235.3 145.2h0.01M234.6 141.6h0.01M246.7 142.8h0.01M261.1 116.9h0.01M245.1 142.0h0.01M244.4 136.9h0.01M258.2 121.3h0.01M244.7 142.1h0.01M261.0 142.3h0.01M248.7 135.0h0.01M247.5 138.5h0.01M283.2 121.4h0.01M235.5 142.6h0.01M247.4 136.7h0.01M240.7 143.9h0.01M234.4 141.2h0.01M262.0 128.2h0.01M252.2 126.5h0.01M256.8 111.9h0.01M252.0 133.6h0.01M234.5 137.9h0.01M240.3 136.3h0.01M234.5 135.3h0.01M256.0 117.9h0.01M284.0 119.3h0.01M241.4 136.6h0.01M255.4 142.4h0.01M277.4 120.2h0.01M282.7 102.3h0.01M246.8 142.9h0.01M254.0 139.2h0.01M243.8 128.5h0.01M252.4 130.4h0.01M274.5 127.8h0.01M243.6 129.5h0.01M257.7 138.3h0.01M257.5 125.7h0.01M269.2 117.0h0.01M257.5 127.2h0.01M257.2 129.0h0.01M276.0 134.8h0.01M252.0 129.0h0.01M257.0 131.4h0.01M267.3 122.5h0.01M256.1 136.7h0.01M236.8 141.7h0.01M235.6 141.4h0.01M240.4 137.6h0.01M245.0 141.4h0.01M245.9 135.5h0.01M234.3 140.5h0.01M241.4 145.3h0.01M239.6 146.2h0.01M257.1 138.0h0.01M273.3 104.1h0.01M263.5 118.5h0.01M264.4 114.4h0.01M252.1 137.2h0.01M243.9 133.3h0.01M245.1 139.1h0.01M234.4 137.7h0.01M254.5 131.8h0.01M235.4 137.6h0.01M260.8 116.8h0.01M275.4 117.9h0.01M240.6 144.5h0.01M242.7 132.6h0.01M234.4 141.5h0.01M250.1 124.3h0.01M235.5 139.3h0.01M242.5 136.9h0.01M259.3 129.8h0.01M263.2 128.0h0.01M234.2 141.4h0.01M260.7 130.1h0.01M241.9 144.5h0.01M271.3 116.4h0.01M273.8 98.0h0.01M255.4 129.3h0.01M273.5 128.5h0.01M270.2 99.2h0.01M234.8 144.1h0.01M235.5 148.5h0.01M238.5 144.9h0.01M262.5 144.7h0.01M264.9 120.0h0.01M251.7 139.4h0.01M257.9 130.0h0.01M234.1 143.0h0.01M239.3 136.7h0.01M249.7 133.9h0.01M244.7 139.4h0.01M248.3 133.3h0.01M258.1 127.1h0.01M280.7 109.3h0.01M262.8 139.2h0.01M251.8 142.3h0.01M259.3 145.9h0.01M265.7 115.5h0.01M265.6 114.0h0.01M260.3 138.3h0.01M259.0 138.1h0.01M240.2 140.0h0.01M246.7 139.0h0.01M234.4 137.9h0.01M270.9 120.9h0.01M245.4 140.8h0.01M249.1 142.9h0.01M240.7 139.8h0.01M240.8 138.8h0.01M285.0 91.4h0.01M242.0 145.6h0.01M235.9 138.6h0.01M236.4 145.7h0.01M247.9 136.8h0.01M287.0 106.8h0.01M255.7 131.8h0.01M234.2 136.9h0.01M266.8 129.5h0.01M285.1 106.3h0.01M243.5 139.1h0.01M247.0 145.1h0.01M268.7 131.1h0.01M241.2 145.0h0.01M262.8 119.6h0.01M266.7 120.9h0.01M240.5 133.5h0.01M262.0 135.2h0.01M252.0 129.0h0.01M253.6 139.9h0.01M248.2 143.7h0.01M240.8 129.9h0.01M278.8 107.4h0.01M238.7 139.7h0.01M258.0 117.7h0.01M234.4 142.6h0.01M234.6 132.6h0.01M234.1 146.3h0.01M248.4 144.0h0.01M260.7 122.6h0.01M235.3 141.5h0.01M253.5 116.0h0.01M247.9 133.0h0.01M266.5 112.2h0.01M234.4 145.5h0.01M241.8 146.0h0.01M246.0 134.9h0.01M250.6 131.9h0.01M242.2 134.0h0.01M286.6 125.3h0.01M277.0 99.3h0.01M261.5 123.9h0.01M246.7 139.4h0.01M275.0 127.5h0.01M244.4 139.3h0.01M246.5 133.5h0.01M278.2 122.0h0.01M258.1 132.3h0.01M251.4 132.8h0.01M256.2 130.5h0.01M268.8 135.6h0.01M251.8 129.8h0.01M244.8 137.5h0.01M264.3 118.0h0.01M248.5 135.7h0.01M255.3 135.6h0.01M240.2 134.2h0.01M269.1 131.4h0.01M250.2 143.3h0.01M246.7 135.4h0.01M262.3 129.3h0.01M262.3 119.6h0.01M241.4 138.6h0.01M241.9 141.2h0.01M242.1 130.7h0.01M252.4 112.0h0.01M245.5 142.6h0.01M257.5 124.3h0.01M258.5 115.8h0.01M259.3 129.2h0.01M259.0 130.6h0.01M256.4 128.0h0.01M255.7 139.1h0.01M273.1 111.7h0.01M253.8 142.9h0.01M235.0 138.9h0.01M240.5 140.4h0.01M274.3 118.7h0.01M254.1 134.7h0.01M254.2 134.7h0.01M241.6 127.3h0.01M240.2 135.4h0.01M239.3 140.7h0.01M282.0 101.1h0.01M238.4 142.2h0.01M247.2 133.4h0.01M271.6 136.7h0.01M265.5 125.2h0.01M282.5 119.7h0.01M235.5 140.1h0.01M234.1 148.7h0.01M267.4 124.1h0.01M255.3 142.0h0.01M251.6 139.3h0.01M243.8 138.1h0.01M242.4 135.5h0.01M241.8 130.3h0.01M257.7 143.2h0.01M255.9 136.8h0.01M242.8 127.7h0.01M246.3 141.5h0.01M261.4 129.4h0.01M262.0 123.5h0.01M253.9 119.1h0.01M253.6 117.5h0.01M275.7 125.0h0.01M278.6 120.0h0.01M234.5 142.6h0.01M234.7 144.7h0.01M258.4 130.4h0.01M256.1 119.2h0.01M246.1 131.8h0.01M284.9 116.0h0.01M234.8 138.6h0.01M252.5 130.2h0.01M276.3 125.4h0.01M253.9 125.7h0.01M234.7 145.1h0.01M251.7 131.8h0.01M269.1 128.9h0.01M244.7 139.6h0.01M254.6 129.2h0.01M266.9 124.5h0.01M271.4 116.8h0.01M247.5 139.5h0.01M248.7 140.2h0.01M251.7 141.3h0.01M260.5 130.6h0.01M248.9 135.2h0.01M235.5 148.0h0.01M239.4 137.0h0.01M245.3 140.4h0.01M237.0 145.7h0.01M246.5 146.3h0.01M244.2 135.9h0.01M259.9 121.2h0.01M253.9 144.3h0.01M250.9 127.3h0.01M267.9 130.3h0.01M239.1 127.8h0.01M283.5 117.6h0.01M249.9 139.7h0.01M236.6 132.7h0.01M260.3 123.0h0.01M244.6 119.4h0.01M242.8 134.7h0.01M254.5 130.1h0.01M262.7 140.6h0.01M271.3 106.1h0.01M258.9 134.1h0.01M240.7 141.9h0.01M283.6 115.1h0.01M235.5 137.8h0.01M245.5 143.9h0.01M234.1 145.5h0.01M275.3 107.4h0.01M247.9 136.9h0.01M247.9 126.3h0.01M262.2 118.9h0.01M249.9 131.1h0.01M248.0 134.0h0.01M251.5 127.1h0.01M265.2 131.4h0.01M257.2 128.8h0.01M258.9 112.4h0.01M258.2 121.2h0.01M245.7 134.4h0.01M262.7 128.4h0.01M243.2 133.7h0.01M279.3 110.5h0.01M275.4 135.4h0.01M258.1 129.1h0.01M262.4 111.0h0.01M254.2 135.8h0.01M250.5 134.8h0.01M239.8 131.2h0.01M259.2 127.8h0.01M234.1 133.8h0.01M273.4 103.4h0.01M236.2 142.0h0.01M235.3 127.1h0.01M263.0 132.4h0.01M248.9 129.4h0.01M256.2 116.8h0.01M250.9 134.0h0.01M251.6 137.5h0.01M272.0 127.0h0.01M262.3 118.0h0.01M274.5 135.5h0.01M249.3 137.7h0.01M280.2 121.0h0.01M234.9 145.0h0.01M282.8 92.4h0.01M237.3 137.2h0.01M248.7 131.4h0.01M276.9 110.8h0.01M250.2 140.1h0.01M247.5 133.8h0.01M268.3 114.6h0.01M252.0 134.1h0.01M258.0 127.4h0.01M283.7 106.4h0.01M236.7 138.9h0.01M234.8 135.4h0.01M234.7 139.7h0.01M234.2 144.4h0.01M252.4 123.6h0.01M263.0 105.8h0.01M272.8 125.9h0.01M245.3 121.4h0.01M268.8 117.0h0.01M234.4 145.6h0.01M237.0 137.9h0.01M250.1 132.1h0.01M264.8 123.0h0.01M251.7 143.4h0.01M278.7 120.4h0.01M249.6 133.7h0.01M268.4 122.2h0.01M261.5 132.6h0.01M240.6 135.0h0.01M252.1 124.2h0.01M250.0 130.5h0.01M244.1 142.8h0.01M249.7 142.0h0.01M263.0 113.7h0.01M249.0 141.3h0.01M258.8 134.0h0.01M234.5 144.0h0.01M264.2 119.7h0.01M255.3 132.6h0.01M281.5 104.4h0.01M279.2 101.0h0.01M269.4 128.3h0.01M253.7 138.4h0.01M241.3 136.6h0.01M267.6 108.0h0.01M253.4 131.9h0.01M253.0 146.0h0.01M250.1 139.8h0.01M241.6 137.4h0.01M240.9 128.5h0.01M268.9 131.1h0.01M263.8 125.3h0.01M267.4 112.1h0.01M257.9 116.1h0.01M251.0 138.8h0.01M243.3 144.0h0.01M243.6 134.3h0.01M235.4 148.5h0.01M257.0 135.9h0.01M257.1 124.6h0.01M266.2 121.6h0.01M240.8 148.8h0.01M257.0 132.4h0.01M249.4 134.3h0.01M234.9 146.2h0.01M258.6 133.3h0.01M280.6 115.0h0.01M236.7 142.7h0.01M241.3 143.4h0.01M243.3 132.6h0.01M247.1 140.3h0.01M264.7 125.4h0.01M247.5 143.5h0.01M268.6 123.5h0.01M260.5 124.9h0.01M278.7 115.6h0.01M239.9 136.3h0.01M255.5 137.7h0.01M244.8 138.4h0.01M252.6 119.5h0.01M236.4 140.7h0.01M284.0 112.0h0.01M250.3 133.4h0.01M241.2 134.3h0.01M268.8 126.0h0.01M278.1 100.3h0.01M280.0 99.3h0.01M254.0 123.7h0.01M257.6 131.8h0.01M235.0 140.9h0.01M234.7 144.2h0.01M258.0 123.0h0.01M252.2 146.2h0.01M251.9 141.1h0.01M249.5 139.5h0.01M264.6 102.7h0.01M243.9 139.5h0.01M258.4 126.7h0.01M267.0 136.2h0.01M253.2 120.4h0.01M268.8 119.9h0.01M262.4 117.4h0.01M265.7 97.5h0.01M284.1 115.0h0.01M243.8 131.4h0.01M246.6 132.3h0.01M240.9 129.5h0.01M261.4 138.4h0.01M258.7 130.9h0.01M280.5 117.3h0.01M260.1 123.7h0.01M235.3 136.2h0.01M254.2 125.3h0.01M283.4 97.5h0.01M242.2 138.0h0.01M250.5 135.2h0.01M261.3 121.8h0.01M266.8 120.8h0.01M260.3 136.7h0.01M267.8 123.9h0.01M246.0 138.7h0.01M255.5 143.1h0.01M268.7 133.4h0.01M234.7 146.1h0.01M242.4 145.7h0.01M261.8 128.8h0.01M240.0 135.8h0.01M240.1 142.5h0.01M257.4 128.9h0.01M257.3 122.6h0.01M259.3 137.8h0.01M270.5 115.5h0.01M267.3 124.8h0.01M250.4 136.3h0.01M258.4 128.8h0.01M254.3 127.6h0.01M235.5 136.9h0.01M234.1 146.3h0.01M274.0 115.4h0.01M265.9 122.4h0.01M265.5 120.4h0.01M242.3 136.8h0.01M235.9 131.7h0.01M258.5 136.9h0.01M234.7 134.3h0.01M244.9 142.1h0.01M243.3 143.4h0.01M278.4 111.3h0.01M249.2 139.7h0.01M261.7 132.9h0.01M255.7 131.0h0.01M258.6 143.0h0.01M241.3 140.6h0.01M234.7 141.6h0.01M235.5 144.7h0.01M276.6 109.3h0.01M237.3 138.5h0.01M250.8 128.6h0.01M260.1 124.3h0.01M256.0 125.3h0.01M235.9 140.2h0.01M242.8 120.1h0.01M235.0 145.3h0.01M256.9 122.0h0.01M261.4 143.1h0.01M235.2 144.4h0.01M235.1 137.2h0.01M262.4 122.5h0.01M238.5 144.2h0.01M237.8 145.7h0.01M235.5 134.9h0.01M261.9 127.3h0.01M250.4 128.2h0.01M277.3 106.7h0.01M259.0 120.9h0.01M260.9 121.0h0.01M235.1 143.2h0.01M262.8 105.6h0.01M249.2 139.0h0.01M274.4 138.1h0.01M249.4 135.7h0.01M266.2 121.9h0.01M251.5 133.9h0.01M244.7 135.9h0.01M251.7 137.9h0.01M253.7 127.2h0.01M247.7 127.1h0.01M235.1 133.8h0.01M269.1 122.2h0.01M264.4 125.9h0.01M268.0 121.3h0.01M281.4 112.4h0.01M243.4 135.1h0.01M246.6 123.6h0.01M238.5 145.5h0.01M235.4 144.2h0.01M275.9 103.3h0.01M235.6 126.6h0.01M277.1 119.4h0.01M259.0 123.5h0.01M261.2 111.3h0.01M260.4 113.1h0.01M245.0 139.4h0.01M245.4 124.0h0.01M283.2 106.2h0.01M274.2 104.0h0.01M255.3 125.1h0.01M254.5 126.6h0.01M235.0 131.4h0.01M265.1 139.8h0.01M242.8 142.8h0.01M241.4 141.2h0.01M253.5 140.7h0.01M246.6 145.7h0.01M245.5 141.4h0.01M249.7 138.2h0.01M273.4 109.1h0.01M253.9 135.6h0.01M250.6 140.6h0.01M263.5 142.8h0.01M235.2 144.2h0.01M264.0 123.1h0.01M244.1 143.6h0.01M277.2 124.2h0.01M234.8 145.3h0.01M263.9 126.0h0.01M281.3 99.2h0.01M245.9 130.0h0.01M235.4 137.8h0.01M272.1 123.8h0.01M265.2 137.3h0.01M235.1 140.7h0.01M261.4 134.2h0.01M238.7 139.5h0.01M267.0 124.1h0.01M246.3 136.3h0.01M263.1 126.9h0.01M255.2 126.6h0.01M269.5 108.9h0.01M257.0 124.0h0.01M257.0 125.8h0.01M236.4 136.0h0.01M243.9 142.7h0.01M234.9 145.1h0.01M280.9 100.7h0.01M255.0 118.1h0.01M270.3 111.3h0.01M266.1 136.2h0.01M259.0 125.2h0.01M262.5 123.3h0.01M276.2 121.3h0.01M257.7 134.5h0.01M245.9 133.2h0.01M244.7 137.7h0.01M278.6 108.7h0.01M244.6 128.8h0.01M285.4 104.0h0.01M254.0 136.0h0.01M239.9 135.9h0.01M238.9 143.9h0.01M274.5 133.6h0.01M234.6 140.5h0.01M256.0 145.1h0.01M234.7 137.4h0.01M268.0 129.0h0.01M258.7 122.1h0.01M272.7 127.3h0.01M248.4 126.5h0.01M266.5 122.6h0.01M254.2 130.2h0.01M235.4 143.0h0.01M261.2 129.6h0.01M270.8 134.6h0.01M258.6 129.4h0.01M255.0 116.3h0.01M262.6 129.2h0.01M234.4 145.3h0.01M269.7 115.0h0.01M280.2 111.7h0.01M261.5 128.7h0.01M242.9 137.9h0.01M243.5 140.9h0.01M256.4 113.4h0.01M263.9 115.7h0.01M236.2 144.5h0.01M250.0 127.9h0.01M242.9 142.9h0.01M259.2 141.4h0.01M245.6 126.9h0.01M234.5 134.7h0.01M243.0 142.6h0.01M272.7 115.3h0.01M242.5 132.6h0.01M243.8 136.9h0.01M235.2 139.3h0.01M244.6 140.6h0.01M253.0 141.2h0.01M259.4 139.7h0.01M265.9 116.9h0.01M241.3 144.5h0.01M254.3 130.5h0.01M253.0 133.8h0.01M247.6 136.2h0.01M269.0 100.2h0.01M284.2 126.4h0.01M240.9 133.5h0.01M283.1 96.1h0.01M255.3 131.5h0.01M258.2 132.4h0.01M249.5 136.0h0.01M286.6 105.9h0.01M237.9 140.3h0.01M255.0 128.9h0.01M234.7 142.6h0.01M236.2 140.2h0.01M273.3 105.3h0.01M279.5 118.9h0.01M242.9 136.3h0.01M284.3 115.0h0.01M234.6 143.1h0.01M275.5 109.2h0.01M261.0 131.5h0.01M234.4 141.2h0.01M258.8 116.9h0.01M249.8 138.7h0.01M277.5 126.3h0.01M244.8 127.2h0.01M249.3 128.0h0.01M252.9 130.1h0.01M262.3 130.4h0.01M280.1 106.0h0.01M255.7 134.0h0.01M252.9 135.6h0.01M249.6 136.9h0.01M252.7 127.4h0.01M238.1 141.7h0.01M255.5 126.9h0.01M251.6 123.8h0.01M241.6 142.1h0.01M248.4 138.6h0.01M255.2 127.8h0.01M235.4 138.4h0.01M258.2 126.0h0.01M278.5 111.9h0.01M256.7 133.5h0.01M239.3 141.7h0.01M238.3 134.5h0.01M280.7 127.6h0.01M266.0 124.0h0.01M254.1 136.4h0.01M238.3 136.7h0.01M260.2 135.6h0.01M284.7 103.9h0.01M270.7 131.4h0.01M234.1 143.6h0.01M252.0 126.9h0.01M268.9 112.1h0.01M250.1 140.8h0.01M251.9 129.0h0.01M265.6 108.8h0.01M284.4 112.7h0.01M245.2 137.8h0.01M234.2 141.8h0.01M246.1 134.8h0.01M249.7 135.0h0.01M277.4 120.9h0.01M237.3 136.0h0.01M280.2 113.9h0.01M262.9 124.9h0.01M251.3 143.3h0.01M244.5 138.3h0.01M244.9 139.8h0.01M275.5 103.9h0.01M242.7 138.3h0.01M238.2 145.3h0.01M250.8 120.7h0.01M250.3 128.2h0.01M255.6 143.6h0.01M255.9 123.8h0.01M271.5 124.3h0.01M244.6 137.1h0.01M252.7 136.9h0.01M247.0 135.0h0.01M234.5 144.0h0.01M235.4 148.7h0.01M237.8 144.9h0.01M248.2 134.4h0.01M255.0 136.0h0.01M246.8 135.9h0.01M255.4 127.3h0.01M250.6 137.2h0.01M248.3 141.0h0.01M267.0 125.6h0.01M246.1 138.8h0.01M269.3 107.9h0.01M240.3 136.8h0.01M245.3 141.9h0.01M244.0 144.2h0.01M235.3 145.7h0.01M248.6 119.0h0.01M260.2 125.7h0.01M256.9 132.4h0.01M257.2 133.0h0.01M250.4 130.6h0.01M244.9 140.9h0.01M263.0 117.5h0.01M235.0 144.3h0.01M254.4 122.9h0.01M250.1 142.3h0.01M242.7 138.3h0.01M239.1 134.3h0.01M261.5 110.2h0.01M235.1 142.1h0.01M255.0 144.0h0.01M283.1 123.2h0.01M261.0 122.7h0.01M258.8 134.6h0.01M251.7 133.3h0.01M272.4 129.5h0.01M248.3 123.3h0.01M267.0 122.5h0.01M253.1 117.8h0.01M235.1 142.6h0.01M259.7 117.6h0.01M249.6 127.8h0.01M247.5 127.5h0.01M240.7 140.2h0.01M255.4 144.1h0.01M243.3 141.3h0.01M277.4 105.5h0.01M264.1 124.9h0.01M251.2 138.8h0.01M252.3 127.2h0.01M262.1 109.7h0.01M253.3 138.0h0.01M258.5 128.4h0.01M252.1 137.7h0.01M239.4 131.5h0.01M259.5 123.2h0.01M256.1 137.8h0.01M270.8 114.7h0.01M242.7 132.7h0.01M255.8 128.2h0.01M234.9 139.1h0.01M235.6 141.4h0.01M237.6 140.8h0.01M235.0 144.6h0.01M267.6 130.7h0.01M261.6 134.9h0.01M259.6 117.9h0.01M255.1 145.5h0.01M239.6 148.5h0.01M246.0 136.0h0.01M260.9 112.3h0.01M258.5 128.8h0.01M234.4 133.0h0.01M235.3 144.6h0.01M235.4 142.2h0.01M254.1 133.1h0.01M274.5 109.9h0.01M235.0 135.9h0.01M256.1 145.4h0.01M256.1 129.6h0.01M269.8 125.9h0.01M273.1 106.8h0.01M263.2 128.1h0.01M247.9 140.9h0.01M239.1 141.8h0.01M251.2 144.1h0.01M271.2 126.1h0.01M264.7 118.2h0.01M274.4 138.1h0.01M250.8 135.4h0.01M273.3 105.2h0.01M264.6 114.4h0.01M234.1 144.8h0.01M236.3 130.2h0.01M269.2 117.3h0.01M254.3 124.3h0.01M280.2 114.0h0.01M250.2 136.0h0.01M256.7 122.6h0.01M242.2 122.5h0.01M243.8 143.3h0.01M244.6 127.6h0.01M274.1 109.9h0.01M263.4 127.5h0.01M252.5 135.4h0.01M238.2 143.9h0.01M246.1 137.7h0.01M248.2 118.1h0.01M261.6 133.6h0.01M261.1 130.3h0.01M247.3 145.3h0.01M248.6 132.5h0.01M247.5 137.3h0.01M258.4 121.7h0.01M250.3 136.9h0.01M256.1 131.3h0.01M252.6 128.5h0.01M248.3 137.1h0.01M245.6 141.0h0.01M244.5 137.6h0.01M251.1 137.7h0.01M248.5 132.9h0.01M249.3 139.9h0.01M263.2 112.9h0.01M266.8 120.6h0.01M235.2 137.7h0.01M240.6 136.2h0.01M245.8 137.4h0.01M234.7 138.2h0.01M267.3 128.0h0.01M243.6 135.4h0.01M235.5 141.9h0.01M252.3 127.4h0.01M267.5 122.4h0.01M257.2 128.0h0.01M252.7 145.8h0.01M234.9 136.3h0.01M283.1 120.3h0.01M255.0 139.2h0.01M252.1 131.1h0.01M238.0 139.4h0.01M252.5 131.3h0.01M285.9 103.7h0.01M234.5 140.0h0.01M247.2 134.8h0.01M257.6 124.4h0.01M247.4 135.4h0.01M234.9 137.7h0.01M244.1 142.5h0.01M249.7 131.4h0.01M264.1 129.9h0.01M243.0 136.8h0.01M247.0 115.4h0.01M251.2 124.0h0.01M235.6 143.1h0.01M255.4 118.8h0.01M254.6 125.8h0.01M286.8 117.3h0.01M264.5 133.3h0.01M255.7 142.2h0.01M244.7 141.7h0.01M259.0 127.7h0.01M240.2 135.2h0.01M247.0 142.0h0.01M251.9 139.7h0.01M247.9 131.2h0.01M238.2 144.0h0.01M251.2 137.0h0.01M260.9 115.8h0.01M257.7 140.1h0.01M242.3 142.8h0.01M235.0 144.0h0.01M234.9 145.6h0.01M255.5 130.3h0.01M239.6 143.0h0.01M242.7 139.5h0.01M234.7 142.0h0.01M267.1 124.3h0.01M256.8 134.1h0.01M234.7 140.3h0.01M252.0 119.0h0.01M266.1 120.1h0.01M243.0 144.2h0.01M254.4 126.7h0.01M252.5 138.7h0.01M244.1 145.2h0.01M240.5 135.9h0.01M260.5 123.5h0.01M240.6 134.5h0.01M250.0 134.1h0.01M253.0 137.7h0.01M240.1 136.2h0.01M244.2 134.7h0.01M260.2 125.3h0.01M235.6 135.9h0.01M242.7 144.4h0.01M252.8 140.7h0.01M266.3 130.2h0.01M237.2 146.1h0.01M258.5 136.6h0.01M253.2 114.9h0.01M253.7 130.9h0.01M242.5 134.7h0.01M234.2 139.5h0.01M259.0 129.8h0.01M276.2 105.1h0.01M271.9 121.7h0.01M236.4 131.6h0.01M255.8 134.2h0.01M239.8 137.6h0.01M253.1 126.6h0.01M264.6 135.2h0.01M264.2 124.1h0.01M234.4 139.8h0.01M255.1 143.7h0.01M235.2 144.8h0.01M247.4 142.1h0.01M240.0 127.3h0.01M237.2 142.9h0.01M247.4 138.2h0.01M236.8 142.7h0.01M259.0 127.0h0.01M246.5 117.2h0.01M253.5 132.8h0.01M239.0 132.9h0.01M248.0 144.0h0.01M260.5 134.0h0.01M249.1 143.2h0.01M272.7 127.3h0.01M235.1 142.4h0.01M249.1 144.1h0.01M245.5 128.9h0.01M237.8 142.6h0.01M240.1 129.3h0.01M265.2 113.2h0.01M283.8 104.8h0.01M253.4 129.1h0.01M234.9 136.4h0.01M234.2 144.2h0.01M234.8 135.9h0.01M236.8 144.0h0.01M282.3 122.2h0.01M240.5 136.2h0.01M243.1 141.5h0.01M258.4 115.7h0.01M235.1 144.2h0.01M255.0 141.0h0.01M258.0 145.7h0.01M235.2 142.1h0.01M259.8 129.8h0.01M246.5 140.9h0.01M237.6 135.2h0.01M269.5 116.0h0.01M248.2 144.6h0.01M253.8 130.1h0.01M248.0 140.6h0.01M258.1 138.9h0.01M234.3 144.5h0.01M265.8 118.8h0.01M252.1 145.4h0.01M268.8 96.5h0.01M249.2 133.7h0.01M259.5 136.2h0.01M234.3 139.0h0.01M281.8 102.7h0.01M267.2 127.6h0.01M271.1 128.1h0.01M244.5 134.3h0.01M236.7 134.2h0.01M238.9 144.1h0.01M239.0 138.7h0.01M267.9 118.3h0.01M240.9 136.1h0.01M239.8 143.2h0.01M272.8 117.7h0.01M280.5 118.8h0.01M240.7 140.3h0.01M251.4 127.4h0.01M244.7 139.3h0.01M252.0 132.6h0.01M256.9 117.7h0.01M271.1 132.0h0.01M268.9 111.8h0.01M263.5 116.3h0.01M266.0 119.0h0.01M235.5 142.7h0.01M243.4 125.5h0.01M234.6 144.4h0.01M235.5 128.6h0.01M279.1 124.9h0.01M235.2 138.0h0.01M242.6 138.5h0.01M263.1 126.7h0.01M241.3 138.6h0.01M240.9 127.6h0.01M256.1 134.1h0.01M251.7 118.8h0.01M257.6 140.0h0.01M263.2 118.2h0.01M246.3 132.7h0.01M245.7 124.9h0.01M280.7 110.1h0.01M263.6 124.7h0.01M277.1 108.2h0.01M235.6 148.6h0.01M273.2 110.6h0.01M247.2 137.5h0.01M235.2 144.7h0.01M255.7 130.3h0.01M252.3 124.8h0.01M248.4 129.7h0.01M255.1 138.0h0.01M246.1 131.5h0.01M249.0 141.5h0.01M256.2 136.7h0.01M234.6 146.2h0.01M236.8 138.7h0.01M252.5 127.1h0.01M277.5 109.2h0.01M271.5 110.2h0.01M239.5 139.7h0.01M234.5 145.9h0.01M245.8 131.9h0.01M262.4 141.6h0.01M234.5 137.1h0.01M258.5 135.7h0.01M243.8 140.7h0.01M235.1 144.4h0.01M235.2 144.3h0.01M278.4 103.2h0.01M287.2 118.9h0.01M250.2 129.0h0.01M249.2 132.6h0.01M259.3 126.9h0.01M286.4 96.7h0.01M261.2 121.4h0.01M248.6 135.0h0.01M261.7 133.2h0.01M270.9 118.4h0.01M234.2 146.0h0.01M246.0 122.9h0.01M246.5 132.1h0.01M243.1 131.2h0.01M266.5 129.3h0.01M267.5 120.7h0.01M253.6 145.1h0.01M246.0 137.6h0.01M256.4 125.0h0.01M235.5 141.5h0.01M245.4 138.3h0.01M262.4 129.8h0.01M249.2 136.4h0.01M244.2 134.3h0.01M274.7 107.6h0.01M235.1 139.5h0.01M273.1 110.8h0.01M235.4 139.4h0.01M250.0 123.0h0.01M254.6 127.4h0.01M234.7 143.1h0.01M278.0 118.2h0.01M234.5 139.8h0.01M255.3 134.6h0.01M266.5 118.8h0.01M234.3 129.3h0.01M271.2 137.4h0.01M257.3 135.6h0.01M234.8 139.4h0.01M236.7 137.3h0.01M235.0 141.3h0.01M234.6 146.2h0.01M249.4 123.7h0.01M256.5 120.4h0.01M261.4 130.6h0.01M236.8 143.1h0.01M253.5 133.3h0.01M234.7 143.7h0.01M252.0 146.0h0.01M244.2 136.2h0.01M274.6 135.9h0.01M254.8 141.3h0.01M269.7 103.8h0.01M237.8 138.5h0.01M239.1 128.3h0.01M283.8 108.6h0.01M243.9 120.0h0.01M271.4 121.7h0.01M246.6 139.8h0.01M250.3 141.5h0.01M251.2 138.7h0.01M277.8 112.8h0.01M243.3 142.7h0.01M234.1 138.3h0.01M234.6 148.1h0.01M261.2 135.8h0.01M270.5 121.1h0.01M271.7 121.1h0.01M243.9 139.7h0.01M245.1 131.6h0.01M234.5 134.3h0.01M249.4 128.5h0.01M251.5 140.5h0.01M268.2 119.5h0.01M276.3 119.8h0.01M249.3 128.1h0.01M234.0 135.2h0.01M284.3 116.4h0.01M255.3 139.7h0.01M242.9 142.4h0.01M268.2 106.9h0.01M267.3 125.0h0.01M279.1 109.0h0.01M259.2 138.8h0.01M266.2 121.4h0.01M249.5 137.5h0.01M260.1 113.9h0.01M260.4 126.6h0.01M252.4 137.0h0.01M245.4 133.4h0.01M262.6 116.3h0.01M251.7 141.1h0.01M235.5 139.0h0.01M234.3 131.9h0.01M272.1 112.6h0.01M247.1 132.6h0.01M238.0 122.8h0.01M261.2 108.6h0.01M263.0 119.7h0.01M265.7 126.0h0.01M244.3 133.5h0.01M241.8 146.3h0.01M235.3 139.1h0.01M250.1 119.5h0.01M235.1 138.6h0.01M273.7 106.6h0.01M234.7 141.9h0.01M265.2 126.5h0.01M239.4 140.3h0.01M257.9 141.4h0.01M262.4 110.7h0.01M235.0 135.5h0.01M263.4 121.6h0.01M236.1 145.7h0.01M253.5 122.2h0.01M283.3 104.1h0.01M234.2 138.6h0.01M243.2 138.1h0.01M264.0 144.5h0.01M241.3 142.8h0.01M269.7 120.1h0.01M240.4 140.4h0.01M251.7 140.4h0.01M249.0 139.2h0.01M243.8 144.5h0.01M251.5 125.1h0.01M241.3 138.6h0.01M260.9 137.3h0.01M270.8 113.4h0.01M256.2 142.3h0.01M248.8 144.8h0.01M235.8 143.9h0.01M276.7 112.6h0.01M245.8 131.0h0.01M255.9 141.7h0.01M235.6 120.6h0.01M241.8 143.3h0.01M249.1 132.0h0.01M260.7 122.7h0.01M246.5 135.3h0.01M260.7 118.0h0.01M248.1 133.5h0.01M265.9 127.7h0.01M275.7 114.7h0.01M245.2 143.5h0.01M272.0 124.8h0.01M242.1 130.0h0.01M274.3 116.4h0.01M286.6 108.1h0.01M254.5 138.5h0.01M250.7 139.3h0.01M276.4 105.6h0.01M257.9 112.4h0.01M247.3 136.1h0.01M243.5 146.2h0.01M242.6 145.4h0.01M257.3 125.8h0.01M240.8 136.4h0.01M251.3 139.4h0.01M236.5 141.6h0.01M256.5 114.4h0.01M261.5 125.9h0.01M266.1 130.1h0.01M242.0 138.9h0.01M272.1 122.8h0.01M265.8 118.4h0.01M247.8 136.0h0.01M269.2 106.9h0.01M271.4 116.5h0.01M279.0 129.3h0.01M270.4 129.8h0.01M258.7 144.3h0.01M240.8 126.8h0.01M242.1 129.9h0.01M234.3 146.2h0.01M252.8 126.0h0.01M234.3 145.7h0.01M256.8 130.8h0.01M235.6 122.6h0.01M270.5 122.4h0.01M251.5 128.8h0.01M235.5 135.0h0.01M235.6 146.3h0.01M243.5 140.8h0.01M257.4 127.3h0.01M251.4 137.4h0.01M234.8 137.6h0.01M234.9 146.1h0.01M262.4 115.8h0.01M244.5 142.5h0.01M238.4 141.5h0.01M274.3 106.9h0.01M234.8 146.0h0.01M247.7 144.7h0.01M263.0 110.2h0.01M248.5 146.3h0.01M243.4 145.3h0.01M285.7 94.8h0.01M263.6 124.6h0.01M266.5 121.0h0.01M267.5 125.7h0.01M258.7 140.3h0.01M247.2 133.5h0.01M249.5 137.1h0.01M283.5 111.4h0.01M248.5 125.1h0.01M261.5 140.2h0.01M278.3 114.9h0.01M249.8 138.4h0.01M258.2 138.2h0.01M245.5 146.3h0.01M250.4 143.3h0.01M261.9 124.5h0.01M276.2 111.9h0.01M242.7 141.7h0.01M235.0 143.0h0.01M241.7 145.5h0.01M276.3 125.6h0.01M265.2 110.3h0.01M242.5 143.3h0.01M278.2 131.2h0.01M275.6 116.0h0.01M236.3 138.1h0.01M276.0 121.5h0.01M239.8 128.5h0.01M281.8 99.9h0.01M274.6 126.9h0.01M277.1 120.4h0.01M271.1 115.8h0.01M277.8 125.9h0.01M242.4 120.3h0.01M245.0 140.4h0.01M234.5 142.9h0.01M239.3 134.4h0.01M240.9 137.0h0.01M245.3 142.4h0.01M237.5 137.5h0.01M234.2 145.4h0.01M246.6 136.8h0.01M254.6 126.4h0.01M235.2 148.0h0.01M254.2 135.6h0.01M241.1 132.3h0.01M253.3 128.0h0.01M257.3 137.4h0.01M248.9 129.0h0.01M265.7 136.7h0.01M286.4 118.3h0.01M246.4 143.8h0.01M240.8 138.9h0.01M240.7 133.5h0.01M257.7 125.6h0.01M251.1 131.9h0.01M256.7 145.1h0.01M259.4 130.5h0.01M276.4 120.3h0.01M239.8 141.5h0.01M245.3 132.4h0.01M235.2 143.6h0.01M276.1 111.1h0.01M261.5 116.6h0.01M242.6 145.5h0.01M234.3 148.2h0.01M257.9 131.1h0.01M235.2 143.5h0.01M267.7 120.7h0.01M248.0 131.3h0.01M248.7 126.8h0.01M281.5 130.5h0.01M248.2 130.5h0.01M278.6 111.1h0.01M245.2 141.7h0.01M249.2 144.3h0.01M247.5 144.9h0.01M238.4 122.6h0.01M240.6 127.6h0.01M234.3 137.0h0.01M272.8 116.8h0.01M260.1 131.1h0.01M270.7 120.9h0.01M249.9 120.7h0.01M243.6 139.0h0.01M258.3 126.5h0.01M255.8 141.0h0.01M254.8 130.7h0.01M279.9 109.3h0.01M242.0 137.9h0.01M264.5 137.4h0.01M273.4 122.4h0.01M247.1 135.2h0.01M241.1 143.6h0.01M249.7 129.9h0.01M234.6 143.7h0.01M255.8 132.2h0.01M240.5 139.6h0.01M246.2 138.8h0.01M234.4 143.8h0.01M270.3 113.2h0.01M234.5 139.3h0.01M241.4 139.3h0.01M268.9 103.3h0.01M268.8 135.4h0.01M240.5 129.0h0.01M240.2 132.6h0.01M262.5 132.6h0.01M253.5 135.7h0.01M262.9 128.3h0.01M245.2 136.2h0.01M269.3 128.4h0.01M268.2 123.0h0.01M248.9 132.5h0.01M247.9 125.2h0.01M275.0 115.7h0.01M250.5 137.0h0.01M260.2 125.2h0.01M245.6 137.5h0.01M235.1 145.6h0.01M256.4 114.6h0.01M242.6 142.9h0.01M235.1 141.0h0.01M248.3 143.9h0.01M251.3 131.7h0.01M250.0 135.9h0.01M242.5 143.3h0.01M249.8 136.8h0.01M268.1 114.3h0.01M267.7 124.2h0.01M256.5 136.7h0.01M235.0 141.2h0.01M247.6 126.6h0.01M256.1 128.2h0.01M256.8 115.9h0.01M261.0 113.0h0.01M267.9 120.0h0.01M241.9 136.8h0.01M269.2 124.2h0.01M282.9 120.1h0.01M277.0 121.8h0.01M244.0 130.1h0.01M255.5 127.4h0.01M249.1 133.7h0.01M240.3 132.4h0.01M235.3 136.0h0.01M261.3 113.5h0.01M247.7 141.3h0.01M238.8 142.5h0.01M240.5 140.2h0.01M234.0 143.7h0.01M256.7 122.6h0.01M261.1 131.1h0.01M248.9 138.7h0.01M267.1 122.1h0.01M261.3 136.3h0.01M264.4 121.6h0.01M257.7 122.2h0.01M268.3 116.8h0.01M248.9 131.8h0.01M249.3 135.8h0.01M247.0 141.2h0.01M274.4 126.0h0.01M234.4 132.2h0.01M259.8 137.2h0.01M243.3 121.2h0.01M254.0 122.2h0.01M245.0 145.1h0.01M258.0 119.1h0.01M255.6 110.4h0.01M263.3 133.0h0.01M245.7 125.4h0.01M235.3 130.0h0.01M255.6 145.8h0.01M235.8 139.8h0.01M246.6 146.1h0.01M259.6 133.6h0.01M266.2 129.4h0.01M249.5 131.7h0.01M273.5 106.3h0.01M277.7 119.7h0.01M237.8 138.0h0.01M247.9 128.0h0.01M265.2 119.4h0.01M236.8 146.0h0.01M236.6 134.4h0.01M270.5 119.8h0.01M235.6 140.6h0.01M238.0 138.2h0.01M257.0 127.8h0.01M268.3 114.1h0.01M246.9 140.9h0.01M255.7 133.3h0.01M252.5 129.6h0.01M257.0 119.1h0.01M281.4 117.1h0.01M280.3 111.8h0.01M242.3 141.6h0.01M254.8 128.2h0.01M244.9 140.4h0.01M248.6 133.8h0.01M249.9 131.8h0.01M235.4 145.4h0.01M255.2 140.9h0.01M253.4 133.3h0.01M268.7 128.7h0.01M248.3 141.1h0.01M259.1 130.4h0.01M248.0 126.6h0.01M263.4 136.3h0.01M279.2 114.5h0.01M242.0 128.9h0.01M246.8 137.4h0.01M252.0 113.1h0.01M265.6 126.5h0.01M241.0 128.7h0.01M235.3 141.3h0.01M234.6 134.9h0.01M254.5 140.8h0.01M237.0 136.9h0.01M263.8 124.8h0.01M234.4 134.6h0.01M287.4 106.9h0.01M251.8 131.8h0.01M234.8 138.4h0.01M251.3 128.8h0.01M234.2 144.3h0.01M247.1 118.0h0.01M265.3 123.0h0.01M261.2 113.1h0.01M261.2 122.3h0.01M243.8 132.7h0.01M241.6 141.9h0.01M257.2 122.5h0.01M257.9 136.7h0.01M249.0 143.2h0.01M248.8 141.4h0.01M268.0 120.4h0.01M238.8 145.4h0.01M256.1 124.1h0.01M238.3 140.9h0.01M256.1 141.2h0.01M261.4 124.4h0.01M251.5 132.8h0.01M234.8 137.8h0.01M243.1 126.6h0.01M251.9 135.8h0.01M261.3 122.1h0.01M254.2 130.6h0.01M241.8 138.3h0.01M237.7 131.9h0.01M251.1 134.2h0.01M246.1 141.1h0.01M236.0 124.3h0.01M261.8 114.8h0.01M249.9 134.9h0.01M269.9 103.8h0.01M235.4 143.3h0.01M256.4 127.1h0.01M249.0 136.2h0.01M264.5 137.3h0.01M269.2 113.4h0.01M252.4 126.3h0.01M240.3 145.9h0.01M259.5 130.2h0.01M261.1 143.4h0.01M269.4 139.5h0.01M234.3 146.3h0.01M242.9 146.2h0.01M264.8 140.6h0.01M240.3 142.8h0.01M234.6 136.1h0.01M267.8 131.0h0.01M272.3 106.2h0.01M265.6 125.7h0.01M250.6 136.0h0.01M246.7 141.0h0.01M258.5 134.2h0.01M240.7 125.9h0.01M237.1 141.4h0.01M235.6 136.6h0.01M255.4 123.1h0.01M263.3 122.7h0.01M268.2 130.0h0.01M266.7 103.9h0.01M238.0 138.3h0.01M251.9 130.0h0.01M247.0 146.0h0.01M235.3 145.5h0.01M252.8 133.1h0.01M247.2 134.5h0.01M234.1 145.9h0.01M266.9 114.8h0.01M257.4 140.8h0.01M264.0 117.8h0.01M240.2 132.5h0.01M242.4 145.5h0.01M267.3 121.3h0.01M247.4 137.5h0.01M234.9 145.7h0.01M244.8 143.5h0.01M235.5 139.9h0.01M273.5 113.8h0.01M247.5 139.8h0.01M242.1 136.4h0.01M267.2 141.4h0.01M253.1 128.3h0.01M252.1 135.6h0.01M256.2 140.5h0.01M277.7 123.5h0.01M260.5 114.7h0.01M280.7 119.4h0.01M252.2 121.6h0.01M245.8 145.6h0.01M244.7 131.7h0.01M276.5 114.8h0.01M279.6 121.9h0.01M260.4 141.6h0.01M240.0 121.3h0.01M265.4 135.0h0.01M265.2 125.7h0.01M234.5 134.2h0.01M270.8 110.9h0.01M251.9 144.3h0.01M267.5 132.7h0.01M276.7 132.7h0.01M262.8 136.1h0.01M234.2 144.4h0.01M268.5 135.5h0.01M247.1 126.8h0.01M255.1 134.0h0.01M261.3 129.5h0.01M235.1 146.1h0.01M242.7 139.5h0.01M236.6 143.0h0.01M265.6 108.3h0.01M262.9 138.4h0.01M253.7 132.1h0.01M245.0 115.0h0.01M272.7 122.2h0.01M252.0 140.1h0.01M235.1 145.1h0.01M252.0 131.9h0.01M245.7 140.1h0.01M235.1 145.9h0.01M236.3 143.2h0.01M234.6 139.0h0.01M251.5 141.7h0.01M234.7 140.8h0.01M235.4 138.3h0.01M266.9 135.5h0.01M247.5 132.0h0.01M248.3 142.0h0.01M251.4 118.4h0.01M264.4 97.1h0.01M234.9 125.0h0.01M246.2 144.9h0.01M245.4 137.1h0.01M259.9 129.3h0.01M234.8 137.4h0.01M252.5 138.2h0.01M247.3 136.0h0.01M249.4 139.6h0.01M259.2 122.5h0.01M256.6 142.1h0.01M261.0 116.2h0.01M255.4 125.7h0.01M235.2 142.0h0.01M236.0 132.7h0.01M258.0 134.0h0.01M257.1 120.8h0.01M237.1 143.8h0.01M238.4 128.8h0.01M254.1 134.1h0.01M243.6 139.0h0.01M249.6 138.4h0.01M241.7 132.4h0.01M261.7 125.2h0.01M234.9 139.7h0.01M275.9 110.2h0.01M259.9 135.5h0.01M257.8 135.3h0.01M234.5 143.9h0.01M266.7 142.7h0.01M235.4 141.7h0.01M249.5 143.5h0.01M252.7 131.3h0.01M249.8 144.6h0.01M235.5 127.3h0.01M240.2 146.1h0.01M235.3 143.4h0.01M244.1 140.8h0.01M249.1 128.1h0.01M243.5 141.6h0.01M287.3 102.8h0.01M259.7 141.3h0.01M239.0 145.1h0.01M245.2 131.8h0.01M242.6 135.2h0.01M273.6 124.0h0.01M240.3 136.3h0.01M256.2 142.2h0.01M252.0 137.2h0.01M248.9 143.2h0.01M245.0 134.1h0.01M253.5 124.4h0.01M262.3 140.1h0.01M235.2 144.0h0.01M255.5 119.2h0.01M248.5 143.1h0.01M277.4 100.3h0.01M266.5 127.1h0.01M235.5 134.3h0.01M247.4 142.3h0.01M256.8 133.4h0.01M254.0 121.9h0.01M286.8 92.4h0.01M259.4 128.1h0.01M238.1 134.1h0.01M243.7 142.5h0.01M265.5 132.0h0.01M240.2 136.8h0.01M252.7 112.9h0.01M267.0 126.9h0.01M240.3 137.0h0.01M235.5 136.3h0.01M267.1 105.7h0.01M270.4 132.4h0.01M255.6 116.5h0.01M244.1 123.9h0.01M245.2 141.7h0.01M250.8 145.6h0.01M275.5 111.9h0.01M235.6 133.4h0.01M258.4 139.3h0.01M234.8 135.6h0.01M261.0 114.0h0.01M263.1 132.2h0.01M262.5 120.4h0.01M257.9 120.0h0.01M262.1 118.4h0.01M258.4 136.0h0.01M251.8 126.1h0.01M237.6 134.3h0.01M280.0 118.4h0.01M256.8 139.2h0.01M234.4 142.6h0.01M247.9 118.5h0.01M244.1 144.6h0.01M258.0 142.2h0.01M235.0 148.3h0.01M263.2 138.6h0.01M266.7 121.5h0.01M262.3 122.8h0.01M253.5 139.9h0.01M244.0 142.7h0.01M235.0 145.7h0.01M242.2 139.1h0.01M246.7 144.3h0.01M242.7 141.5h0.01M258.7 113.7h0.01M256.5 126.2h0.01M244.1 135.2h0.01M259.2 127.6h0.01M256.6 119.7h0.01M240.3 132.9h0.01M269.4 108.8h0.01M261.8 119.7h0.01M254.1 135.8h0.01M266.0 122.8h0.01M236.2 138.1h0.01M260.6 108.9h0.01M248.3 133.5h0.01M240.8 144.0h0.01M242.9 140.3h0.01M242.8 146.1h0.01M245.7 148.5h0.01M262.4 123.7h0.01M250.9 138.3h0.01M240.9 137.5h0.01M244.0 140.5h0.01M244.9 138.6h0.01M263.4 118.2h0.01M274.0 105.2h0.01M261.5 140.9h0.01M287.0 108.0h0.01M237.6 141.5h0.01M263.6 119.6h0.01M242.9 145.4h0.01M261.3 133.4h0.01M260.5 122.6h0.01M254.6 123.4h0.01M255.6 127.7h0.01M247.8 142.9h0.01M258.7 120.2h0.01M256.5 121.3h0.01M272.3 115.2h0.01M252.6 130.3h0.01M249.4 134.7h0.01M255.2 133.1h0.01M249.5 144.9h0.01M248.7 142.4h0.01M238.5 146.3h0.01M276.2 100.8h0.01M267.5 117.9h0.01M244.9 139.5h0.01M272.3 104.5h0.01M277.4 125.9h0.01M283.4 111.3h0.01M234.3 138.5h0.01M279.1 124.1h0.01M254.3 121.0h0.01M234.7 145.2h0.01M252.7 135.6h0.01M245.6 140.0h0.01M257.0 117.0h0.01M268.7 129.7h0.01M249.7 129.9h0.01M271.4 126.4h0.01M269.3 120.4h0.01M236.2 133.4h0.01M235.4 129.4h0.01M264.8 120.0h0.01M269.5 125.0h0.01M234.3 145.9h0.01M250.2 138.0h0.01M258.7 127.5h0.01M258.2 124.2h0.01M249.7 130.8h0.01M234.3 141.6h0.01M259.2 133.3h0.01M242.3 128.2h0.01M256.9 113.7h0.01M271.5 111.4h0.01M250.9 140.1h0.01M259.3 134.2h0.01M243.8 144.1h0.01M269.8 108.3h0.01M245.9 141.5h0.01M256.0 121.3h0.01M236.5 142.9h0.01M258.8 125.7h0.01M234.2 142.5h0.01M246.3 138.3h0.01M259.3 126.9h0.01M235.8 143.2h0.01M252.2 128.8h0.01M235.2 147.7h0.01M238.4 143.3h0.01M235.1 143.1h0.01M263.9 130.0h0.01M260.7 127.1h0.01M261.6 127.2h0.01M237.7 131.7h0.01M261.4 118.0h0.01M255.8 139.5h0.01M247.5 133.2h0.01M250.9 141.0h0.01M235.0 138.2h0.01M254.7 122.2h0.01M243.5 145.9h0.01M280.9 112.1h0.01M275.6 116.8h0.01M258.2 136.4h0.01M277.6 122.3h0.01M241.6 142.4h0.01M259.5 131.8h0.01M239.8 143.8h0.01M256.3 131.1h0.01M276.1 105.8h0.01M275.7 122.0h0.01M283.3 105.5h0.01M245.4 127.5h0.01M234.6 135.0h0.01M247.1 140.8h0.01M270.0 138.7h0.01M263.6 142.0h0.01M256.6 132.7h0.01M234.3 144.9h0.01M238.0 137.8h0.01M237.7 133.2h0.01M287.7 105.4h0.01M266.3 106.1h0.01M261.1 139.6h0.01M258.2 129.4h0.01M243.3 128.0h0.01M259.7 136.9h0.01M244.1 141.8h0.01M237.2 139.1h0.01M280.2 125.1h0.01M286.8 114.2h0.01M246.0 138.9h0.01M245.2 132.7h0.01M241.2 135.4h0.01M254.2 144.8h0.01M234.8 146.0h0.01M250.4 134.4h0.01M241.1 144.9h0.01M284.5 111.0h0.01M242.4 128.8h0.01M254.6 132.1h0.01M283.1 119.7h0.01M255.7 133.2h0.01M237.0 138.1h0.01M234.6 131.1h0.01M254.9 134.4h0.01M250.7 137.7h0.01M238.3 142.5h0.01M243.6 143.5h0.01M234.8 141.5h0.01M241.4 143.2h0.01M266.2 113.9h0.01M242.1 136.7h0.01M239.1 134.7h0.01M279.6 112.4h0.01M249.4 124.5h0.01M248.8 139.2h0.01M251.4 131.2h0.01M263.6 128.8h0.01M259.4 123.9h0.01M272.7 95.9h0.01M255.7 135.1h0.01M249.6 137.7h0.01M250.7 119.8h0.01M238.9 140.7h0.01M235.5 148.1h0.01M248.5 144.9h0.01M269.2 107.1h0.01M234.3 138.1h0.01M248.9 139.8h0.01M240.5 140.5h0.01M263.1 120.1h0.01M252.5 145.0h0.01M257.7 124.1h0.01M235.5 138.4h0.01M266.6 118.7h0.01M244.5 143.0h0.01M239.1 131.5h0.01M266.9 102.3h0.01M263.4 127.7h0.01M242.3 129.5h0.01M254.8 131.6h0.01M239.1 134.0h0.01M274.7 113.5h0.01M245.7 127.3h0.01M262.3 122.1h0.01M285.6 119.9h0.01M234.2 120.8h0.01M252.1 135.2h0.01M243.4 140.1h0.01M240.8 120.4h0.01M242.0 138.5h0.01M250.5 137.7h0.01M265.8 131.0h0.01M264.5 140.2h0.01M273.4 117.5h0.01M258.3 131.8h0.01M258.2 137.8h0.01M246.3 126.0h0.01M255.3 128.4h0.01M246.2 141.6h0.01M256.1 126.8h0.01M237.2 141.1h0.01M253.9 135.4h0.01M279.4 108.7h0.01M250.2 141.7h0.01M283.2 104.7h0.01M274.8 110.7h0.01M269.6 119.5h0.01M237.4 139.4h0.01M277.1 110.2h0.01M257.5 113.7h0.01M240.8 139.8h0.01M255.4 119.1h0.01M247.0 140.7h0.01M248.3 133.4h0.01M252.9 117.8h0.01M281.7 97.3h0.01M252.0 129.1h0.01M235.1 144.0h0.01M257.6 104.8h0.01M250.7 132.2h0.01M275.9 112.3h0.01M264.1 132.1h0.01M244.9 136.8h0.01M254.6 134.1h0.01M235.7 139.5h0.01M242.4 125.4h0.01M249.4 140.3h0.01M240.0 119.3h0.01M284.9 110.6h0.01M237.6 134.0h0.01M246.8 117.1h0.01M235.5 140.9h0.01M268.4 129.6h0.01M256.2 127.6h0.01M269.7 133.2h0.01M272.0 124.0h0.01M260.6 141.5h0.01M284.1 95.6h0.01M273.5 116.6h0.01M252.7 131.9h0.01M275.0 108.6h0.01M250.1 126.5h0.01M246.2 124.3h0.01M287.6 113.4h0.01M277.4 102.2h0.01M263.0 138.1h0.01M256.5 133.2h0.01M235.2 145.9h0.01M275.9 109.3h0.01M274.9 119.0h0.01M250.2 134.7h0.01M255.2 144.4h0.01M239.6 137.0h0.01M270.0 133.7h0.01M234.2 135.7h0.01M275.5 95.7h0.01M270.8 102.5h0.01M258.6 142.1h0.01M237.8 131.1h0.01M234.8 145.9h0.01M262.4 126.5h0.01M265.5 144.5h0.01M237.7 139.4h0.01M246.2 135.3h0.01M256.0 134.8h0.01M260.1 130.6h0.01M234.2 138.4h0.01M265.8 130.7h0.01M245.4 136.9h0.01M269.5 110.4h0.01M250.6 117.9h0.01M257.7 129.6h0.01M273.4 115.1h0.01M240.6 144.5h0.01M234.8 144.3h0.01M249.6 128.7h0.01M283.2 112.5h0.01M257.8 120.2h0.01M242.2 137.4h0.01M273.6 108.2h0.01M252.2 139.5h0.01M284.3 93.5h0.01M234.2 135.3h0.01M254.2 123.5h0.01M263.6 123.8h0.01M235.1 141.2h0.01M249.8 140.4h0.01M249.6 135.2h0.01M257.6 137.0h0.01M246.7 129.9h0.01M275.0 99.2h0.01M240.5 136.4h0.01M235.4 145.5h0.01M272.3 117.4h0.01M238.9 141.7h0.01M249.0 142.6h0.01M261.9 119.4h0.01M234.8 134.7h0.01M265.3 127.2h0.01M261.2 130.0h0.01M265.8 105.8h0.01M268.9 117.0h0.01M235.0 144.8h0.01M238.6 142.8h0.01M251.7 144.0h0.01M235.2 143.8h0.01M275.6 118.4h0.01M286.8 128.6h0.01M250.1 135.5h0.01M265.7 137.9h0.01M260.6 131.1h0.01M275.3 126.9h0.01M242.7 138.0h0.01M258.5 127.7h0.01M269.0 124.1h0.01M247.1 137.2h0.01M240.6 137.2h0.01M243.4 138.8h0.01M248.9 122.1h0.01M235.7 130.0h0.01M252.7 138.0h0.01M251.0 140.1h0.01M255.7 143.1h0.01M261.9 109.7h0.01M261.1 124.0h0.01M257.7 134.9h0.01M234.8 138.6h0.01M262.1 115.9h0.01M244.4 137.5h0.01M266.5 124.2h0.01M257.9 115.4h0.01M234.9 145.2h0.01M264.5 129.6h0.01M243.3 141.9h0.01M240.4 137.9h0.01M259.8 120.5h0.01M262.8 123.6h0.01M248.9 142.8h0.01M249.4 130.8h0.01M260.2 135.4h0.01M246.0 141.4h0.01M239.2 144.3h0.01M238.4 126.4h0.01M235.0 144.6h0.01M265.4 137.4h0.01M250.0 141.3h0.01M258.3 106.0h0.01M259.2 118.6h0.01M250.9 141.9h0.01M234.5 145.4h0.01M247.9 135.9h0.01M246.0 139.0h0.01M242.9 144.0h0.01M269.9 134.2h0.01M238.2 134.0h0.01M238.2 123.9h0.01M251.4 134.8h0.01M235.4 132.5h0.01M271.4 118.8h0.01M246.2 145.9h0.01M246.5 130.2h0.01M246.0 123.2h0.01M257.5 131.4h0.01M247.5 137.9h0.01M252.9 134.6h0.01M266.9 131.8h0.01M283.5 128.2h0.01M255.9 129.7h0.01M250.5 143.0h0.01M235.1 129.3h0.01M269.5 115.4h0.01M248.3 135.6h0.01M271.8 146.1h0.01M245.2 135.1h0.01M245.2 148.5h0.01M257.6 130.4h0.01M254.6 120.7h0.01M269.5 111.7h0.01M280.2 97.9h0.01M259.8 141.0h0.01M282.0 127.6h0.01M234.2 144.6h0.01M248.9 133.3h0.01M238.9 148.5h0.01M265.5 124.0h0.01M240.9 126.8h0.01M234.5 145.6h0.01M255.6 134.5h0.01M270.5 117.4h0.01M255.1 127.7h0.01M252.2 124.5h0.01M258.8 120.2h0.01M234.7 141.7h0.01M266.4 126.0h0.01M244.6 137.0h0.01M265.5 125.6h0.01M252.7 128.9h0.01M275.8 119.6h0.01M252.9 139.4h0.01M259.1 142.2h0.01M236.1 140.3h0.01M286.4 102.9h0.01M261.0 119.0h0.01M254.1 126.2h0.01M268.0 117.6h0.01M242.2 145.0h0.01M244.9 121.3h0.01M268.1 124.2h0.01M250.3 136.0h0.01M261.5 116.7h0.01M246.8 134.1h0.01M245.5 143.0h0.01M255.3 134.3h0.01M273.8 121.0h0.01M253.9 142.8h0.01M248.8 128.8h0.01M253.6 134.2h0.01M265.7 118.1h0.01M263.4 127.4h0.01M249.1 127.7h0.01M250.6 137.8h0.01M257.5 138.5h0.01M234.4 137.9h0.01M246.5 135.7h0.01M247.9 136.7h0.01M248.9 132.5h0.01M260.5 141.8h0.01M241.7 136.6h0.01M257.9 132.6h0.01M274.8 116.4h0.01M250.4 141.2h0.01M270.3 109.0h0.01M235.4 141.9h0.01M241.6 139.6h0.01M287.1 102.1h0.01M254.8 133.9h0.01M268.0 129.5h0.01M259.5 129.7h0.01M239.5 132.0h0.01M275.9 99.1h0.01M255.0 123.8h0.01M280.0 120.8h0.01M286.1 97.2h0.01M236.7 137.8h0.01M280.2 120.7h0.01M235.3 142.3h0.01M254.5 119.3h0.01M254.2 123.9h0.01M259.6 141.9h0.01M235.4 139.8h0.01M236.0 142.2h0.01M234.2 143.0h0.01M284.9 108.9h0.01M264.4 127.1h0.01M249.7 129.1h0.01M244.8 133.4h0.01M234.7 144.1h0.01M258.9 113.9h0.01M242.5 137.9h0.01M254.3 114.0h0.01M272.5 110.7h0.01M261.4 123.0h0.01M256.0 138.1h0.01M251.7 139.1h0.01M257.5 123.7h0.01M240.2 143.7h0.01M261.0 122.0h0.01M252.9 128.5h0.01M273.7 130.5h0.01M246.4 135.7h0.01M269.9 111.5h0.01M250.7 127.3h0.01M249.4 146.0h0.01M241.2 136.1h0.01M274.5 109.9h0.01M270.0 116.0h0.01M260.3 118.0h0.01M280.3 122.0h0.01M235.0 143.4h0.01M247.5 132.1h0.01M252.8 108.7h0.01M244.5 127.7h0.01M247.8 137.1h0.01M261.4 122.9h0.01M253.1 129.7h0.01M247.2 141.9h0.01M258.4 137.8h0.01M246.0 132.3h0.01M234.5 141.3h0.01M245.6 137.2h0.01M234.7 143.9h0.01M247.2 124.8h0.01M252.0 141.4h0.01M234.5 142.6h0.01M256.5 140.7h0.01M259.0 122.3h0.01M240.5 143.3h0.01M256.1 136.9h0.01M238.2 140.2h0.01M259.9 119.3h0.01M258.8 118.0h0.01M266.4 138.3h0.01M234.8 142.1h0.01M256.0 131.3h0.01M244.9 131.7h0.01M269.8 114.4h0.01M240.5 135.9h0.01M261.5 112.0h0.01M273.3 106.3h0.01M251.5 129.5h0.01M256.9 137.3h0.01M243.8 143.4h0.01M246.6 144.6h0.01M254.8 137.0h0.01M265.2 114.4h0.01M283.3 117.0h0.01M256.1 136.7h0.01M266.5 145.0h0.01M251.3 125.2h0.01M282.7 109.3h0.01M273.2 110.2h0.01M253.9 131.4h0.01M242.9 135.7h0.01M271.4 105.7h0.01M263.9 127.1h0.01M235.3 141.9h0.01M248.6 140.5h0.01M261.9 124.7h0.01M273.1 124.4h0.01M275.4 112.6h0.01M278.2 97.3h0.01M283.2 114.9h0.01M234.4 145.7h0.01M255.7 134.3h0.01M245.1 131.4h0.01M280.4 109.3h0.01M236.8 139.3h0.01M245.1 140.5h0.01M253.8 135.8h0.01M255.9 133.8h0.01M237.0 143.2h0.01M235.2 138.2h0.01M257.2 123.1h0.01M257.4 136.1h0.01M240.4 146.1h0.01M246.3 140.7h0.01M263.0 120.1h0.01M264.7 111.6h0.01M235.6 146.0h0.01M278.5 109.5h0.01M280.4 107.3h0.01M241.7 133.6h0.01M250.3 127.8h0.01M246.0 131.3h0.01M267.6 114.6h0.01M250.5 130.1h0.01M234.5 146.1h0.01M257.9 119.7h0.01M270.6 113.2h0.01M242.9 121.8h0.01M243.5 147.8h0.01M272.2 114.5h0.01M251.0 127.9h0.01M264.8 125.5h0.01M255.0 119.9h0.01M241.5 145.4h0.01M254.5 144.4h0.01M256.6 131.7h0.01M252.0 135.7h0.01M270.5 114.2h0.01M235.2 147.8h0.01M247.7 125.0h0.01M235.4 137.3h0.01M269.3 123.3h0.01M276.3 112.7h0.01M256.2 132.1h0.01M240.3 143.7h0.01M245.0 139.9h0.01M240.3 141.8h0.01M261.0 116.9h0.01M234.2 141.1h0.01M284.9 95.1h0.01M241.3 138.6h0.01M258.4 118.6h0.01M269.3 124.0h0.01M251.7 135.2h0.01M240.3 144.5h0.01M247.6 145.2h0.01M238.0 145.8h0.01M267.3 125.7h0.01M242.1 148.7h0.01M252.8 129.7h0.01M246.4 134.0h0.01M259.9 140.9h0.01M280.6 104.3h0.01M251.8 132.1h0.01M234.4 127.2h0.01M257.5 129.2h0.01M234.7 145.0h0.01M257.9 142.1h0.01M247.0 129.7h0.01M252.1 131.7h0.01M265.9 126.3h0.01M235.4 137.4h0.01M265.7 110.4h0.01M235.4 138.3h0.01M241.4 123.8h0.01M235.1 140.5h0.01M258.6 127.1h0.01M235.7 144.5h0.01M246.7 144.8h0.01M244.6 141.4h0.01M277.2 100.5h0.01M234.3 143.3h0.01M270.3 122.0h0.01M249.5 126.7h0.01M254.7 103.4h0.01M268.5 129.8h0.01M240.3 137.2h0.01M261.0 113.5h0.01M268.1 135.1h0.01M255.7 130.8h0.01M276.9 115.2h0.01M260.7 120.4h0.01M273.3 90.4h0.01M264.2 130.6h0.01M234.1 138.0h0.01M267.9 124.0h0.01M252.8 143.9h0.01M250.7 141.2h0.01M248.5 118.7h0.01M257.5 120.3h0.01M273.3 112.3h0.01M257.3 120.2h0.01M245.1 136.3h0.01M254.9 128.7h0.01M248.4 136.4h0.01M239.1 143.0h0.01M252.2 135.1h0.01M240.4 136.8h0.01M267.7 114.9h0.01M262.3 118.6h0.01M282.5 111.8h0.01M242.1 135.9h0.01M251.2 128.5h0.01M234.2 136.8h0.01M286.2 120.9h0.01M242.7 126.9h0.01M256.6 119.6h0.01M259.1 122.6h0.01M235.5 143.7h0.01M264.6 127.3h0.01M250.6 124.5h0.01M271.8 127.0h0.01M242.9 125.3h0.01M271.7 142.6h0.01M256.4 129.4h0.01M278.0 118.8h0.01M247.0 131.5h0.01M246.0 135.9h0.01M238.8 133.0h0.01M248.4 138.0h0.01M237.8 140.7h0.01M245.7 139.1h0.01M278.2 97.2h0.01M235.4 143.2h0.01M248.2 132.8h0.01M234.4 141.5h0.01M235.2 138.4h0.01M250.1 124.9h0.01M255.2 135.6h0.01M249.7 143.2h0.01M234.3 142.2h0.01M239.2 139.8h0.01M259.1 120.5h0.01M235.5 140.1h0.01M278.9 113.8h0.01M269.2 119.1h0.01M246.1 135.2h0.01M235.0 139.6h0.01M257.1 129.6h0.01M265.5 127.5h0.01M261.1 127.6h0.01M236.4 139.2h0.01M274.2 126.4h0.01M279.1 113.6h0.01M240.0 140.4h0.01M234.5 141.6h0.01M253.8 141.5h0.01M260.4 139.0h0.01M263.2 129.5h0.01M270.2 126.9h0.01M243.7 120.4h0.01M260.9 144.3h0.01M266.3 112.3h0.01M261.5 123.2h0.01M247.0 133.1h0.01M260.8 134.9h0.01M234.2 142.6h0.01M241.6 140.6h0.01M257.0 132.2h0.01M255.5 139.0h0.01M247.4 127.8h0.01M236.2 141.1h0.01M246.2 126.5h0.01M285.5 106.0h0.01M259.2 127.9h0.01M264.4 126.6h0.01M237.8 142.8h0.01M258.1 133.5h0.01M255.9 124.9h0.01M244.1 137.7h0.01M269.0 125.9h0.01M252.8 124.6h0.01M257.1 124.1h0.01M264.9 118.3h0.01M235.3 141.3h0.01M235.1 140.4h0.01M236.4 135.0h0.01" stroke="#000" stroke-width="1.15" stroke-linecap="round" fill="none"/>
<path d="M321.4 96.5h0.01M297.3 107.6h0.01M294.6 87.6h0.01M295.4 84.8h0.01M324.9 83.1h0.01M293.4 91.8h0.01M303.5 75.5h0.01M308.2 79.0h0.01M297.7 87.8h0.01M295.0 95.4h0.01M290.2 104.6h0.01M295.3 96.5h0.01M292.2 104.6h0.01M299.2 86.2h0.01M303.7 90.7h0.01M329.0 54.5h0.01M307.3 86.7h0.01M314.1 108.4h0.01M341.6 57.7h0.01M301.0 97.4h0.01M365.4 30.6h0.01M293.3 115.9h0.01M288.9 106.9h0.01M298.9 107.5h0.01M313.5 67.0h0.01M344.8 53.9h0.01M308.4 103.8h0.01M293.9 97.4h0.01M292.0 123.5h0.01M298.7 102.9h0.01M296.1 107.8h0.01M303.8 105.5h0.01M290.3 131.5h0.01M302.6 96.1h0.01M288.4 123.5h0.01M308.7 73.0h0.01M294.3 102.0h0.01M290.4 101.7h0.01M301.7 112.8h0.01M288.4 95.7h0.01M305.1 65.2h0.01M296.0 89.7h0.01M288.4 101.8h0.01M305.8 76.7h0.01M291.4 104.1h0.01M290.6 107.8h0.01M293.3 108.8h0.01M293.9 110.5h0.01M290.2 91.5h0.01M299.1 100.6h0.01M290.6 103.0h0.01M352.3 27.2h0.01M296.8 80.9h0.01M290.8 85.5h0.01M290.4 114.3h0.01M328.6 70.7h0.01M330.5 60.7h0.01M290.7 112.1h0.01M296.6 89.0h0.01M289.7 106.8h0.01M296.5 103.9h0.01M301.6 107.1h0.01M323.0 73.7h0.01M310.4 79.6h0.01M305.7 86.8h0.01M296.4 104.8h0.01M289.3 111.2h0.01M311.9 79.9h0.01M349.9 51.3h0.01M290.9 100.2h0.01M288.2 106.8h0.01M294.4 115.8h0.01M290.8 105.6h0.01M288.1 123.5h0.01M314.3 82.4h0.01M297.2 93.0h0.01M300.1 85.8h0.01M324.7 38.3h0.01M339.7 49.2h0.01M293.9 113.0h0.01M295.5 109.2h0.01M298.6 102.0h0.01M299.5 90.5h0.01M305.7 113.3h0.01M291.6 78.5h0.01M304.0 110.3h0.01M306.2 94.6h0.01M288.9 107.5h0.01M320.9 61.1h0.01M319.6 54.5h0.01M288.7 90.2h0.01M328.2 94.8h0.01M305.2 80.2h0.01M304.7 86.9h0.01M298.8 103.6h0.01M293.8 94.8h0.01M299.1 100.7h0.01M300.4 90.3h0.01M295.4 122.4h0.01M308.1 79.2h0.01M317.6 93.2h0.01M289.4 97.3h0.01M294.9 108.6h0.01M308.3 87.6h0.01M303.6 98.2h0.01M332.8 56.4h0.01M288.6 108.6h0.01M300.0 99.7h0.01M301.5 115.7h0.01M289.6 107.4h0.01M341.2 61.1h0.01M308.3 96.6h0.01M300.4 82.8h0.01M289.6 116.2h0.01M341.9 76.7h0.01M365.2 55.1h0.01M291.4 111.7h0.01M316.0 81.9h0.01M317.1 100.4h0.01M321.1 75.0h0.01M306.6 101.5h0.01M294.7 93.3h0.01M301.8 75.6h0.01M322.0 51.8h0.01M294.5 98.2h0.01M295.0 95.4h0.01M316.1 65.5h0.01M297.0 83.8h0.01M292.4 91.5h0.01M294.0 105.5h0.01M289.5 96.1h0.01M311.5 88.9h0.01M320.2 66.3h0.01M326.2 81.8h0.01M316.5 70.6h0.01M327.3 67.4h0.01M302.5 84.7h0.01M298.4 111.1h0.01M340.1 56.2h0.01M289.7 127.0h0.01M301.6 106.1h0.01M292.1 109.3h0.01M288.0 108.4h0.01M294.2 98.9h0.01M289.6 116.7h0.01M308.7 91.6h0.01M295.2 102.7h0.01M351.9 44.6h0.01M297.7 110.9h0.01M310.0 103.0h0.01M297.9 85.3h0.01M291.3 90.8h0.01M304.7 94.0h0.01M300.9 83.3h0.01M289.7 97.2h0.01M294.8 85.3h0.01M297.5 105.2h0.01M346.3 66.5h0.01M299.1 91.4h0.01M288.8 102.1h0.01M290.2 100.0h0.01M307.0 86.9h0.01M342.1 45.0h0.01M293.8 124.3h0.01M300.6 77.1h0.01M362.1 32.9h0.01M291.1 114.0h0.01M298.6 80.9h0.01M297.3 90.9h0.01M289.5 114.3h0.01M292.2 104.8h0.01M286.9 87.7h0.01M322.2 51.9h0.01M320.6 71.1h0.01M334.7 63.0h0.01M307.5 79.9h0.01M326.8 84.8h0.01M291.1 101.9h0.01M338.4 55.4h0.01M285.4 82.2h0.01M305.2 95.6h0.01M354.8 65.7h0.01M299.1 97.7h0.01M287.6 86.4h0.01M328.6 74.5h0.01M289.9 91.4h0.01M293.8 114.7h0.01M302.1 104.7h0.01M314.7 90.0h0.01M294.7 118.8h0.01M293.4 76.8h0.01M300.4 92.7h0.01M301.7 88.1h0.01M301.6 118.9h0.01M306.9 87.1h0.01M294.6 88.9h0.01M288.7 110.7h0.01M289.5 90.4h0.01M296.8 95.4h0.01M288.6 103.1h0.01M324.2 45.2h0.01M285.2 77.7h0.01M294.9 90.4h0.01M297.5 119.1h0.01M291.5 98.9h0.01M331.3 78.0h0.01M289.2 98.0h0.01M311.4 96.3h0.01M307.3 112.5h0.01M289.5 77.5h0.01M342.6 54.4h0.01M294.8 90.7h0.01M290.3 104.0h0.01M316.7 73.1h0.01M291.7 105.7h0.01M347.7 51.3h0.01M297.1 108.4h0.01M292.3 97.5h0.01M290.1 98.3h0.01M318.6 82.8h0.01M350.0 54.5h0.01M295.0 93.9h0.01M285.2 85.5h0.01M332.5 73.2h0.01M294.4 106.2h0.01M321.9 85.7h0.01M349.1 52.8h0.01M300.6 75.9h0.01M291.7 111.6h0.01M352.9 53.8h0.01M292.3 97.1h0.01M336.1 56.2h0.01M295.8 108.5h0.01M302.9 104.2h0.01M305.5 66.6h0.01M329.9 63.9h0.01M316.5 59.5h0.01M348.3 54.2h0.01M315.9 65.4h0.01M296.0 110.0h0.01M325.3 84.5h0.01M295.1 111.8h0.01M322.4 92.8h0.01M297.0 104.7h0.01M310.1 89.2h0.01M298.5 91.1h0.01M292.0 119.2h0.01M297.1 99.7h0.01M290.9 95.6h0.01M288.7 111.2h0.01M292.0 104.8h0.01M317.0 87.5h0.01M290.5 88.1h0.01M291.3 105.4h0.01M301.2 100.6h0.01M302.6 93.8h0.01M318.1 103.1h0.01M293.0 95.4h0.01M308.5 90.2h0.01M315.3 87.2h0.01M303.6 96.1h0.01M292.2 113.4h0.01M325.9 56.8h0.01M298.6 117.0h0.01M326.6 67.7h0.01M324.1 80.3h0.01M293.8 95.7h0.01M295.3 99.6h0.01M337.8 66.2h0.01M325.1 77.3h0.01M327.4 86.0h0.01M292.6 89.2h0.01M298.0 88.1h0.01M312.2 104.7h0.01M317.8 69.4h0.01M311.0 86.4h0.01M293.3 94.9h0.01M306.7 86.2h0.01M341.3 62.2h0.01M337.0 78.2h0.01M324.0 81.3h0.01M301.6 120.0h0.01M305.9 93.2h0.01M289.5 104.2h0.01M297.4 107.7h0.01M303.8 95.8h0.01M306.2 73.0h0.01M292.0 124.0h0.01M310.1 81.1h0.01M292.0 96.4h0.01M293.7 90.6h0.01M289.2 100.5h0.01M333.6 78.0h0.01M346.3 55.3h0.01M289.8 103.6h0.01M318.8 77.9h0.01M295.2 92.9h0.01M299.5 99.5h0.01M289.4 111.4h0.01M342.1 68.5h0.01M302.3 96.6h0.01M300.8 93.1h0.01M311.0 82.7h0.01M346.7 72.4h0.01M299.2 110.8h0.01M296.4 94.2h0.01M331.3 73.7h0.01M299.2 100.9h0.01M337.4 66.8h0.01M339.9 44.9h0.01M352.0 47.7h0.01M299.2 100.1h0.01M325.7 88.9h0.01M290.8 82.3h0.01M314.2 84.9h0.01M295.9 69.2h0.01M304.9 100.3h0.01M302.3 80.2h0.01M298.0 82.5h0.01M336.2 76.9h0.01M300.9 102.9h0.01M290.2 100.1h0.01M322.7 68.8h0.01M296.6 86.1h0.01M317.1 75.2h0.01M288.6 115.1h0.01M313.2 91.3h0.01M310.7 82.9h0.01M294.0 118.9h0.01M298.2 96.0h0.01M335.0 66.7h0.01M309.5 87.1h0.01M321.3 80.9h0.01M309.0 82.5h0.01M292.4 98.9h0.01M293.6 116.0h0.01M313.4 87.8h0.01M306.6 79.3h0.01M345.5 49.5h0.01M295.1 110.3h0.01M310.3 70.5h0.01M295.2 97.5h0.01M290.2 110.9h0.01M289.2 116.8h0.01M298.7 84.6h0.01M329.6 53.4h0.01M289.0 101.5h0.01M305.8 101.4h0.01M312.9 79.9h0.01M290.8 104.3h0.01M295.7 101.0h0.01M296.9 115.7h0.01M297.1 106.2h0.01M323.3 64.2h0.01M301.5 88.7h0.01M310.0 91.8h0.01M366.5 51.4h0.01M307.4 90.2h0.01M289.1 120.5h0.01M318.5 88.4h0.01M290.1 91.4h0.01M303.8 84.0h0.01M291.5 108.1h0.01M309.1 78.9h0.01M296.1 108.8h0.01M293.9 92.8h0.01M289.7 114.3h0.01M333.1 73.4h0.01M347.0 46.6h0.01M297.8 86.8h0.01M318.1 90.5h0.01M312.8 83.8h0.01M304.8 112.0h0.01M298.6 89.3h0.01M320.9 64.5h0.01M307.6 113.1h0.01M302.7 96.5h0.01M304.1 93.7h0.01M304.9 100.7h0.01M329.1 76.2h0.01M291.2 79.9h0.01M321.0 61.7h0.01M342.1 43.5h0.01M283.7 84.1h0.01M292.9 115.1h0.01M309.6 78.8h0.01M299.8 98.6h0.01M328.0 64.5h0.01M337.3 48.0h0.01M289.9 95.8h0.01M352.0 63.2h0.01M297.2 91.4h0.01M309.1 98.4h0.01M344.5 45.7h0.01M288.6 109.7h0.01M294.1 96.5h0.01M289.0 100.2h0.01M317.8 78.7h0.01M319.6 82.0h0.01M279.9 85.6h0.01M303.0 87.3h0.01M297.5 89.1h0.01M314.7 91.2h0.01M312.7 90.1h0.01M311.0 88.6h0.01M298.4 61.2h0.01M288.1 96.4h0.01M308.9 97.2h0.01M297.6 77.4h0.01M313.1 88.8h0.01M294.3 108.7h0.01M338.1 61.8h0.01M289.8 109.1h0.01M310.0 69.5h0.01M303.5 90.8h0.01M310.0 60.9h0.01M288.2 120.6h0.01M289.1 102.9h0.01M293.3 115.2h0.01M289.6 89.6h0.01M327.0 69.7h0.01M293.1 101.4h0.01M322.5 73.4h0.01M300.7 61.8h0.01M289.1 99.2h0.01M308.8 92.2h0.01M289.4 104.0h0.01M293.6 126.0h0.01M320.2 45.6h0.01M328.3 82.0h0.01M292.2 104.2h0.01M336.9 67.3h0.01M292.8 91.4h0.01M312.1 77.0h0.01M291.9 92.7h0.01M289.9 104.3h0.01M301.6 90.2h0.01M290.4 117.5h0.01M298.4 96.4h0.01M288.0 99.2h0.01M330.2 77.1h0.01M280.8 87.3h0.01M324.2 56.1h0.01M292.6 73.9h0.01M290.8 115.1h0.01M291.5 87.5h0.01M316.1 73.0h0.01M305.6 73.8h0.01M296.7 113.3h0.01M289.4 101.8h0.01M291.2 88.8h0.01M323.0 54.5h0.01M321.3 65.1h0.01M330.1 68.1h0.01M293.5 113.0h0.01M301.9 106.9h0.01M293.1 95.3h0.01M316.8 61.7h0.01M290.9 96.0h0.01" stroke="#222" stroke-width="0.95" stroke-linecap="round" fill="none"/>
<g fill="#dc232b" stroke="#86131b" stroke-width="0.4"><circle cx="256.2" cy="61.6" r="1.35"/><circle cx="246.1" cy="74.5" r="1.35"/><circle cx="250.7" cy="77.1" r="1.35"/><circle cx="238.9" cy="84.3" r="1.35"/><circle cx="248.5" cy="82.9" r="1.35"/><circle cx="253.2" cy="88.0" r="1.35"/><circle cx="266.6" cy="78.7" r="1.35"/><circle cx="268.3" cy="82.9" r="1.35"/><circle cx="263.2" cy="87.1" r="1.35"/><circle cx="336.2" cy="27.5" r="1.35"/><circle cx="321.9" cy="45.2" r="1.35"/><circle cx="308.2" cy="48.4" r="1.35"/><circle cx="314.8" cy="52.1" r="1.35"/><circle cx="314.4" cy="57.3" r="1.35"/><circle cx="308.8" cy="63.5" r="1.35"/><circle cx="300.8" cy="64.4" r="1.35"/><circle cx="289.6" cy="64.4" r="1.35"/><circle cx="280.3" cy="69.4" r="1.35"/><circle cx="288.7" cy="70.7" r="1.35"/><circle cx="292.0" cy="70.7" r="1.35"/><circle cx="297.6" cy="70.0" r="1.35"/><circle cx="296.1" cy="72.6" r="1.35"/><circle cx="288.7" cy="75.6" r="1.35"/><circle cx="288.7" cy="78.2" r="1.35"/><circle cx="278.4" cy="84.4" r="1.35"/><circle cx="292.0" cy="84.4" r="1.35"/><circle cx="290.9" cy="81.9" r="1.35"/><circle cx="285.9" cy="86.2" r="1.35"/><circle cx="287.7" cy="87.2" r="1.35"/><circle cx="282.1" cy="89.0" r="1.35"/><circle cx="284.0" cy="90.5" r="1.35"/><circle cx="271.9" cy="86.2" r="1.35"/><circle cx="275.6" cy="92.8" r="1.35"/><circle cx="277.5" cy="94.6" r="1.35"/><circle cx="281.2" cy="91.8" r="1.35"/><circle cx="290.5" cy="90.0" r="1.35"/><circle cx="270.0" cy="90.9" r="1.35"/><circle cx="272.8" cy="94.6" r="1.35"/><circle cx="251.8" cy="109.8" r="1.35"/><circle cx="257.7" cy="108.2" r="1.35"/><circle cx="268.2" cy="104.5" r="1.35"/><circle cx="238.7" cy="118.2" r="1.35"/><circle cx="251.6" cy="110.2" r="1.35"/><circle cx="242.0" cy="117.7" r="1.35"/><circle cx="242.0" cy="99.0" r="1.35"/><circle cx="238.5" cy="107.4" r="1.35"/><circle cx="248.2" cy="100.6" r="1.35"/><circle cx="247.8" cy="94.3" r="1.35"/><circle cx="238.0" cy="113.6" r="1.35"/><circle cx="243.4" cy="97.1" r="1.35"/><circle cx="266.5" cy="98.0" r="1.35"/><circle cx="255.8" cy="106.3" r="1.35"/><circle cx="242.7" cy="116.9" r="1.35"/><circle cx="259.4" cy="105.5" r="1.35"/><circle cx="237.5" cy="118.7" r="1.35"/><circle cx="276.0" cy="101.3" r="1.35"/><circle cx="240.4" cy="114.5" r="1.35"/><circle cx="255.6" cy="105.0" r="1.35"/><circle cx="238.6" cy="108.1" r="1.35"/><circle cx="243.9" cy="111.4" r="1.35"/><circle cx="235.9" cy="116.0" r="1.35"/><circle cx="264.5" cy="105.1" r="1.35"/><circle cx="251.1" cy="112.7" r="1.35"/><circle cx="247.6" cy="98.9" r="1.35"/><circle cx="288.0" cy="94.3" r="1.35"/><circle cx="242.3" cy="114.1" r="1.35"/><circle cx="242.1" cy="108.6" r="1.35"/><circle cx="245.4" cy="104.7" r="1.35"/><circle cx="247.3" cy="110.5" r="1.35"/><circle cx="251.5" cy="105.8" r="1.35"/><circle cx="257.4" cy="105.8" r="1.35"/><circle cx="256.6" cy="101.6" r="1.35"/><circle cx="236.6" cy="111.2" r="1.35"/><circle cx="247.3" cy="106.4" r="1.35"/><circle cx="265.3" cy="105.9" r="1.35"/><circle cx="252.7" cy="99.3" r="1.35"/><circle cx="249.1" cy="104.0" r="1.35"/><circle cx="260.3" cy="108.3" r="1.35"/><circle cx="271.4" cy="101.2" r="1.35"/><circle cx="259.9" cy="109.2" r="1.35"/><circle cx="246.0" cy="107.2" r="1.35"/><circle cx="240.4" cy="115.4" r="1.35"/><circle cx="255.9" cy="91.6" r="1.35"/><circle cx="234.9" cy="120.1" r="1.35"/><circle cx="264.3" cy="102.9" r="1.35"/><circle cx="252.0" cy="110.4" r="1.35"/><circle cx="237.9" cy="105.8" r="1.35"/><circle cx="260.9" cy="96.2" r="1.35"/><circle cx="238.5" cy="108.7" r="1.35"/><circle cx="235.7" cy="120.4" r="1.35"/><circle cx="271.5" cy="97.9" r="1.35"/><circle cx="251.5" cy="105.3" r="1.35"/><circle cx="251.5" cy="107.5" r="1.35"/><circle cx="245.9" cy="116.9" r="1.35"/><circle cx="238.1" cy="113.0" r="1.35"/><circle cx="237.7" cy="115.4" r="1.35"/><circle cx="255.5" cy="109.2" r="1.35"/><circle cx="244.3" cy="116.1" r="1.35"/><circle cx="246.5" cy="110.5" r="1.35"/><circle cx="255.8" cy="111.3" r="1.35"/><circle cx="250.7" cy="112.7" r="1.35"/><circle cx="257.8" cy="96.4" r="1.35"/><circle cx="246.8" cy="103.9" r="1.35"/><circle cx="262.6" cy="100.8" r="1.35"/><circle cx="241.5" cy="111.9" r="1.35"/><circle cx="244.8" cy="98.0" r="1.35"/><circle cx="254.0" cy="97.7" r="1.35"/><circle cx="263.5" cy="101.1" r="1.35"/><circle cx="259.2" cy="100.5" r="1.35"/><circle cx="263.4" cy="107.4" r="1.35"/><circle cx="252.6" cy="108.1" r="1.35"/><circle cx="241.9" cy="112.8" r="1.35"/><circle cx="239.7" cy="115.2" r="1.35"/><circle cx="236.8" cy="91.2" r="1.35"/><circle cx="254.3" cy="100.9" r="1.35"/><circle cx="249.2" cy="102.8" r="1.35"/><circle cx="241.6" cy="98.0" r="1.35"/><circle cx="247.7" cy="114.7" r="1.35"/><circle cx="268.7" cy="105.0" r="1.35"/><circle cx="263.8" cy="97.7" r="1.35"/><circle cx="255.3" cy="104.5" r="1.35"/><circle cx="240.4" cy="100.1" r="1.35"/><circle cx="259.8" cy="109.6" r="1.35"/><circle cx="234.6" cy="120.1" r="1.35"/><circle cx="259.1" cy="89.2" r="1.35"/><circle cx="237.0" cy="120.8" r="1.35"/><circle cx="257.9" cy="101.6" r="1.35"/><circle cx="249.3" cy="107.0" r="1.35"/><circle cx="249.6" cy="100.3" r="1.35"/><circle cx="289.6" cy="91.0" r="1.35"/><circle cx="254.7" cy="97.6" r="1.35"/><circle cx="247.9" cy="112.9" r="1.35"/><circle cx="250.6" cy="107.0" r="1.35"/><circle cx="244.7" cy="98.6" r="1.35"/><circle cx="237.1" cy="117.8" r="1.35"/><circle cx="250.3" cy="113.2" r="1.35"/><circle cx="238.5" cy="120.4" r="1.35"/><circle cx="278.2" cy="98.1" r="1.35"/><circle cx="247.1" cy="107.8" r="1.35"/><circle cx="237.2" cy="121.0" r="1.35"/><circle cx="251.3" cy="105.8" r="1.35"/><circle cx="237.5" cy="119.3" r="1.35"/><circle cx="236.8" cy="107.9" r="1.35"/><circle cx="248.9" cy="95.0" r="1.35"/><circle cx="289.7" cy="93.3" r="1.35"/><circle cx="242.7" cy="110.6" r="1.35"/><circle cx="256.0" cy="105.8" r="1.35"/><circle cx="239.7" cy="109.4" r="1.35"/><circle cx="263.8" cy="93.0" r="1.35"/><circle cx="280.6" cy="94.0" r="1.35"/><circle cx="239.8" cy="103.0" r="1.35"/><circle cx="257.1" cy="108.6" r="1.35"/><circle cx="239.1" cy="103.0" r="1.35"/><circle cx="254.0" cy="112.5" r="1.35"/><circle cx="246.3" cy="95.1" r="1.35"/><circle cx="281.8" cy="97.2" r="1.35"/><circle cx="259.9" cy="101.1" r="1.35"/><circle cx="275.2" cy="98.1" r="1.35"/><circle cx="246.6" cy="101.5" r="1.35"/><circle cx="247.6" cy="112.0" r="1.35"/><circle cx="260.5" cy="102.1" r="1.35"/><circle cx="271.1" cy="104.0" r="1.35"/><circle cx="262.0" cy="102.3" r="1.35"/></g>
<g fill="#3d51b0" stroke="#222d66" stroke-width="0.45"><circle cx="319.2" cy="92.0" r="1.35"/><circle cx="339.1" cy="90.5" r="1.35"/><circle cx="318.7" cy="95.7" r="1.35"/><circle cx="322.5" cy="98.2" r="1.35"/><circle cx="326.1" cy="101.8" r="1.35"/><circle cx="336.7" cy="101.1" r="1.35"/><circle cx="334.2" cy="103.9" r="1.35"/><circle cx="328.5" cy="107.7" r="1.35"/><circle cx="320.3" cy="109.3" r="1.35"/><circle cx="341.6" cy="109.3" r="1.35"/><circle cx="365.3" cy="105.5" r="1.35"/><circle cx="367.7" cy="104.4" r="1.35"/><circle cx="311.3" cy="105.5" r="1.35"/><circle cx="313.8" cy="104.7" r="1.35"/><circle cx="308.9" cy="106.3" r="1.35"/><circle cx="312.2" cy="110.9" r="1.35"/><circle cx="305.6" cy="111.2" r="1.35"/><circle cx="309.7" cy="115.3" r="1.35"/><circle cx="322.8" cy="120.2" r="1.35"/><circle cx="327.7" cy="120.2" r="1.35"/><circle cx="353.0" cy="120.7" r="1.35"/><circle cx="363.7" cy="117.5" r="1.35"/><circle cx="325.2" cy="125.1" r="1.35"/><circle cx="323.6" cy="127.9" r="1.35"/><circle cx="329.3" cy="126.3" r="1.35"/><circle cx="334.2" cy="126.3" r="1.35"/><circle cx="347.6" cy="126.9" r="1.35"/><circle cx="311.3" cy="126.8" r="1.35"/><circle cx="313.0" cy="130.0" r="1.35"/><circle cx="314.6" cy="130.9" r="1.35"/><circle cx="308.1" cy="128.4" r="1.35"/><circle cx="310.5" cy="136.3" r="1.35"/><circle cx="308.1" cy="139.4" r="1.35"/><circle cx="339.5" cy="139.0" r="1.35"/><circle cx="321.2" cy="142.6" r="1.35"/><circle cx="317.1" cy="148.0" r="1.35"/><circle cx="301.5" cy="106.3" r="1.35"/><circle cx="302.4" cy="109.6" r="1.35"/><circle cx="298.3" cy="116.2" r="1.35"/><circle cx="299.9" cy="119.4" r="1.35"/><circle cx="303.2" cy="120.2" r="1.35"/><circle cx="297.5" cy="126.8" r="1.35"/><circle cx="298.3" cy="129.2" r="1.35"/><circle cx="296.6" cy="134.1" r="1.35"/><circle cx="303.2" cy="129.2" r="1.35"/><circle cx="299.9" cy="137.4" r="1.35"/><circle cx="296.6" cy="148.0" r="1.35"/><circle cx="362.4" cy="57.0" r="1.35"/><circle cx="358.2" cy="61.6" r="1.35"/><circle cx="348.3" cy="66.4" r="1.35"/><circle cx="351.5" cy="68.5" r="1.35"/><circle cx="376.0" cy="57.0" r="1.35"/><circle cx="337.8" cy="72.3" r="1.35"/><circle cx="335.7" cy="76.9" r="1.35"/><circle cx="352.9" cy="78.0" r="1.35"/><circle cx="355.0" cy="79.0" r="1.35"/><circle cx="362.4" cy="82.5" r="1.35"/><circle cx="339.3" cy="89.5" r="1.35"/><circle cx="318.9" cy="87.2" r="1.35"/><circle cx="327.8" cy="102.7" r="1.35"/><circle cx="306.8" cy="100.0" r="1.35"/><circle cx="273.9" cy="147.7" r="1.35"/><circle cx="277.6" cy="128.4" r="1.35"/><circle cx="272.6" cy="142.6" r="1.35"/><circle cx="286.8" cy="120.8" r="1.35"/><circle cx="294.7" cy="143.1" r="1.35"/><circle cx="293.9" cy="116.6" r="1.35"/><circle cx="278.7" cy="142.8" r="1.35"/><circle cx="270.8" cy="139.7" r="1.35"/><circle cx="275.3" cy="141.4" r="1.35"/><circle cx="290.4" cy="139.2" r="1.35"/><circle cx="262.9" cy="139.8" r="1.35"/><circle cx="269.2" cy="138.6" r="1.35"/><circle cx="287.3" cy="123.8" r="1.35"/><circle cx="275.5" cy="127.3" r="1.35"/><circle cx="289.7" cy="147.3" r="1.35"/><circle cx="284.4" cy="130.8" r="1.35"/><circle cx="288.3" cy="143.5" r="1.35"/><circle cx="282.3" cy="142.4" r="1.35"/><circle cx="275.2" cy="146.1" r="1.35"/><circle cx="290.1" cy="120.1" r="1.35"/><circle cx="267.0" cy="135.6" r="1.35"/><circle cx="275.8" cy="131.3" r="1.35"/><circle cx="295.8" cy="137.6" r="1.35"/><circle cx="267.1" cy="148.4" r="1.35"/><circle cx="266.8" cy="139.5" r="1.35"/><circle cx="263.4" cy="147.2" r="1.35"/><circle cx="267.2" cy="140.9" r="1.35"/><circle cx="289.7" cy="125.5" r="1.35"/><circle cx="279.8" cy="124.3" r="1.35"/><circle cx="284.7" cy="144.5" r="1.35"/><circle cx="272.0" cy="132.1" r="1.35"/><circle cx="265.2" cy="145.1" r="1.35"/><circle cx="282.9" cy="125.3" r="1.35"/><circle cx="288.2" cy="134.1" r="1.35"/><circle cx="272.8" cy="136.2" r="1.35"/><circle cx="273.0" cy="142.6" r="1.35"/><circle cx="275.1" cy="142.6" r="1.35"/><circle cx="271.5" cy="133.0" r="1.35"/><circle cx="276.0" cy="127.1" r="1.35"/><circle cx="265.8" cy="140.6" r="1.35"/><circle cx="291.7" cy="132.0" r="1.35"/><circle cx="274.3" cy="129.4" r="1.35"/><circle cx="275.2" cy="137.9" r="1.35"/><circle cx="275.1" cy="144.8" r="1.35"/><circle cx="279.2" cy="146.6" r="1.35"/><circle cx="265.0" cy="148.7" r="1.35"/><circle cx="271.5" cy="135.3" r="1.35"/><circle cx="273.2" cy="132.9" r="1.35"/><circle cx="283.6" cy="131.1" r="1.35"/><circle cx="268.8" cy="138.7" r="1.35"/><circle cx="270.4" cy="132.5" r="1.35"/><circle cx="271.2" cy="147.1" r="1.35"/><circle cx="286.0" cy="141.4" r="1.35"/><circle cx="293.5" cy="121.7" r="1.35"/><circle cx="274.7" cy="137.5" r="1.35"/><circle cx="277.3" cy="138.8" r="1.35"/><circle cx="276.2" cy="140.6" r="1.35"/><circle cx="292.7" cy="125.6" r="1.35"/><circle cx="266.7" cy="148.5" r="1.35"/><circle cx="273.6" cy="144.0" r="1.35"/><circle cx="285.1" cy="148.2" r="1.35"/><circle cx="266.3" cy="138.4" r="1.35"/><circle cx="284.8" cy="124.1" r="1.35"/><circle cx="266.0" cy="142.7" r="1.35"/><circle cx="270.4" cy="139.5" r="1.35"/><circle cx="270.3" cy="134.8" r="1.35"/><circle cx="288.3" cy="142.3" r="1.35"/><circle cx="290.2" cy="117.7" r="1.35"/><circle cx="272.2" cy="132.2" r="1.35"/><circle cx="272.8" cy="147.3" r="1.35"/><circle cx="289.1" cy="144.7" r="1.35"/><circle cx="267.7" cy="145.3" r="1.35"/><circle cx="271.6" cy="148.3" r="1.35"/><circle cx="271.6" cy="133.8" r="1.35"/><circle cx="282.6" cy="137.5" r="1.35"/><circle cx="270.2" cy="132.7" r="1.35"/><circle cx="281.0" cy="123.6" r="1.35"/><circle cx="271.1" cy="133.1" r="1.35"/><circle cx="264.3" cy="146.6" r="1.35"/><circle cx="268.5" cy="146.8" r="1.35"/><circle cx="279.9" cy="140.7" r="1.35"/><circle cx="274.5" cy="132.9" r="1.35"/><circle cx="265.5" cy="146.8" r="1.35"/><circle cx="290.2" cy="148.6" r="1.35"/><circle cx="274.1" cy="132.2" r="1.35"/><circle cx="284.6" cy="143.5" r="1.35"/><circle cx="291.6" cy="129.8" r="1.35"/><circle cx="266.3" cy="142.0" r="1.35"/><circle cx="278.2" cy="141.0" r="1.35"/><circle cx="276.2" cy="132.5" r="1.35"/><circle cx="273.0" cy="131.2" r="1.35"/><circle cx="283.0" cy="132.5" r="1.35"/><circle cx="284.2" cy="125.9" r="1.35"/><circle cx="263.8" cy="147.9" r="1.35"/><circle cx="270.8" cy="145.4" r="1.35"/><circle cx="279.6" cy="126.7" r="1.35"/><circle cx="270.3" cy="133.1" r="1.35"/><circle cx="282.9" cy="146.0" r="1.35"/><circle cx="278.7" cy="140.7" r="1.35"/><circle cx="288.6" cy="135.5" r="1.35"/><circle cx="283.3" cy="141.4" r="1.35"/><circle cx="273.8" cy="143.2" r="1.35"/><circle cx="271.7" cy="146.7" r="1.35"/><circle cx="276.4" cy="139.5" r="1.35"/><circle cx="289.2" cy="114.5" r="1.35"/><circle cx="274.6" cy="135.4" r="1.35"/><circle cx="268.2" cy="143.4" r="1.35"/><circle cx="294.8" cy="131.9" r="1.35"/><circle cx="274.1" cy="130.4" r="1.35"/><circle cx="289.3" cy="119.7" r="1.35"/><circle cx="282.8" cy="130.6" r="1.35"/><circle cx="282.4" cy="136.5" r="1.35"/><circle cx="269.4" cy="140.7" r="1.35"/><circle cx="282.7" cy="119.6" r="1.35"/><circle cx="268.5" cy="141.1" r="1.35"/><circle cx="275.3" cy="135.3" r="1.35"/><circle cx="291.0" cy="117.2" r="1.35"/><circle cx="286.7" cy="118.9" r="1.35"/><circle cx="267.2" cy="147.7" r="1.35"/><circle cx="280.6" cy="140.5" r="1.35"/><circle cx="288.0" cy="130.3" r="1.35"/><circle cx="281.0" cy="126.9" r="1.35"/><circle cx="287.4" cy="116.6" r="1.35"/><circle cx="271.9" cy="136.3" r="1.35"/><circle cx="275.9" cy="129.9" r="1.35"/><circle cx="279.9" cy="132.7" r="1.35"/><circle cx="273.3" cy="146.5" r="1.35"/><circle cx="267.8" cy="147.2" r="1.35"/><circle cx="293.9" cy="113.2" r="1.35"/><circle cx="276.9" cy="146.9" r="1.35"/><circle cx="294.4" cy="117.5" r="1.35"/><circle cx="264.4" cy="142.0" r="1.35"/><circle cx="285.4" cy="126.1" r="1.35"/><circle cx="264.3" cy="147.5" r="1.35"/><circle cx="270.8" cy="140.2" r="1.35"/><circle cx="277.9" cy="136.5" r="1.35"/><circle cx="265.5" cy="147.0" r="1.35"/><circle cx="287.2" cy="117.3" r="1.35"/><circle cx="281.4" cy="126.6" r="1.35"/><circle cx="277.1" cy="144.5" r="1.35"/><circle cx="277.3" cy="129.5" r="1.35"/><circle cx="293.8" cy="119.8" r="1.35"/><circle cx="294.9" cy="131.5" r="1.35"/><circle cx="273.1" cy="146.1" r="1.35"/><circle cx="278.4" cy="125.6" r="1.35"/><circle cx="289.4" cy="136.2" r="1.35"/><circle cx="285.4" cy="135.4" r="1.35"/><circle cx="287.2" cy="128.8" r="1.35"/><circle cx="292.9" cy="109.8" r="1.35"/><circle cx="267.4" cy="146.7" r="1.35"/></g>
<rect x="228.5" y="21.7" width="148" height="132.7" fill="none" stroke="#555" stroke-width="0.9"/>
<line x1="241.7" y1="154.4" x2="241.7" y2="156.4" stroke="#555" stroke-width="0.7"/>
<text x="241.7" y="164" text-anchor="middle" class="tk">2</text>
<line x1="226.2" y1="142.7" x2="228.5" y2="142.7" stroke="#555" stroke-width="0.7"/>
<text transform="translate(222.3,142.7) rotate(-90)" text-anchor="middle" style="font-size:5.2px;stroke-width:0.1px">2</text>
<line x1="266.5" y1="154.4" x2="266.5" y2="156.4" stroke="#555" stroke-width="0.7"/>
<text x="266.5" y="164" text-anchor="middle" class="tk">5</text>
<line x1="226.2" y1="120.8" x2="228.5" y2="120.8" stroke="#555" stroke-width="0.7"/>
<text transform="translate(222.3,120.8) rotate(-90)" text-anchor="middle" style="font-size:5.2px;stroke-width:0.1px">5</text>
<line x1="285.2" y1="154.4" x2="285.2" y2="156.4" stroke="#555" stroke-width="0.7"/>
<text x="285.2" y="164" text-anchor="middle" class="tk">10</text>
<line x1="226.2" y1="104.2" x2="228.5" y2="104.2" stroke="#555" stroke-width="0.7"/>
<text transform="translate(222.3,104.2) rotate(-90)" text-anchor="middle" style="font-size:5.2px;stroke-width:0.1px">10</text>
<line x1="304.0" y1="154.4" x2="304.0" y2="156.4" stroke="#555" stroke-width="0.7"/>
<text x="304.0" y="164" text-anchor="middle" class="tk">20</text>
<line x1="226.2" y1="87.6" x2="228.5" y2="87.6" stroke="#555" stroke-width="0.7"/>
<text transform="translate(222.3,87.6) rotate(-90)" text-anchor="middle" style="font-size:5.2px;stroke-width:0.1px">20</text>
<line x1="328.7" y1="154.4" x2="328.7" y2="156.4" stroke="#555" stroke-width="0.7"/>
<text x="328.7" y="164" text-anchor="middle" class="tk">50</text>
<line x1="226.2" y1="65.7" x2="228.5" y2="65.7" stroke="#555" stroke-width="0.7"/>
<text transform="translate(222.3,65.7) rotate(-90)" text-anchor="middle" style="font-size:5.2px;stroke-width:0.1px">50</text>
<line x1="347.5" y1="154.4" x2="347.5" y2="156.4" stroke="#555" stroke-width="0.7"/>
<text x="347.5" y="164" text-anchor="middle" class="tk">100</text>
<line x1="226.2" y1="49.2" x2="228.5" y2="49.2" stroke="#555" stroke-width="0.7"/>
<text transform="translate(222.3,49.2) rotate(-90)" text-anchor="middle" style="font-size:5.2px;stroke-width:0.1px">100</text>
<line x1="366.2" y1="154.4" x2="366.2" y2="156.4" stroke="#555" stroke-width="0.7"/>
<text x="366.2" y="164" text-anchor="middle" class="tk">200</text>
<line x1="226.2" y1="32.6" x2="228.5" y2="32.6" stroke="#555" stroke-width="0.7"/>
<text transform="translate(222.3,32.6) rotate(-90)" text-anchor="middle" style="font-size:5.2px;stroke-width:0.1px">200</text>
<text x="305.8" y="175.3" text-anchor="middle" style="font-size:8.1px">Log<tspan style="font-size:5px" dy="1.8">2</tspan><tspan dy="-1.8">(x+1) human gene expression</tspan></text>
<text x="306.4" y="184.3" text-anchor="middle" style="font-size:8px">EBV<tspan style="font-size:5px" dy="-2.8">&#8211;</tspan><tspan dy="2.8"> DLBCL samples</tspan></text>
<text transform="translate(202,85.8) rotate(-90)" text-anchor="middle" style="font-size:8px">Log<tspan style="font-size:5px" dy="1.8">2</tspan><tspan dy="-1.8">(x+1) human gene expression</tspan></text>
<text transform="translate(210.3,86.5) rotate(-90)" text-anchor="middle" style="font-size:8px">EBV<tspan style="font-size:5px" dy="-2.8">+</tspan><tspan dy="2.8"> DLBCL samples</tspan></text>
<text x="392.9" y="9.3" style="font-size:10.8px;font-weight:bold;stroke-width:0.45px">C</text>
<text x="452.5" y="23.2" text-anchor="middle" class="vt">ARL EBV-associated</text>
<text x="452.5" y="33.4" text-anchor="middle" class="vt">up-regulated transcripts</text>
<ellipse cx="438.8" cy="58.8" rx="27" ry="18.4" fill="none" stroke="#111" stroke-width="1.3"/>
<ellipse cx="466.8" cy="58.8" rx="27.1" ry="18.2" fill="none" stroke="#111" stroke-width="1.3"/>
<text x="401.6" y="51.4" style="font-size:8.2px">BL</text>
<text x="519" y="51.4" style="font-size:8.2px" text-anchor="end">DLBCL</text>
<text x="429.1" y="63.0" text-anchor="middle" class="vn">172</text>
<text x="451.4" y="63.0" text-anchor="middle" class="vn">26</text>
<text x="477.4" y="63.0" text-anchor="middle" class="vn">113</text>
<text x="458.7" y="87.7" text-anchor="middle" class="vt"><tspan font-style="italic">P</tspan> &lt; 2&#215;10<tspan style="font-size:5px" dy="-3">-14</tspan><tspan dy="3">; OR=8.6</tspan></text>
<text x="452.5" y="108.6" text-anchor="middle" class="vt">ARL EBV-associated</text>
<text x="452.5" y="118.8" text-anchor="middle" class="vt">down-regulated transcripts</text>
<ellipse cx="438.8" cy="145.2" rx="27" ry="18.4" fill="none" stroke="#111" stroke-width="1.3"/>
<ellipse cx="466.8" cy="145.2" rx="27.1" ry="18.2" fill="none" stroke="#111" stroke-width="1.3"/>
<text x="401.6" y="135.9" style="font-size:8.2px">BL</text>
<text x="519" y="135.9" style="font-size:8.2px" text-anchor="end">DLBCL</text>
<text x="429.1" y="148.4" text-anchor="middle" class="vn">175</text>
<text x="451.4" y="148.4" text-anchor="middle" class="vn">25</text>
<text x="477.4" y="148.4" text-anchor="middle" class="vn">156</text>
<text x="458" y="172.6" text-anchor="middle" class="vt"><tspan font-style="italic">P</tspan> &lt; 10<tspan style="font-size:5px" dy="-3">-11</tspan><tspan dy="3">; OR=6.1</tspan></text>
<text x="0.5" y="205.8" style="font-size:10.8px;font-weight:bold;stroke-width:0.45px">D</text>
<rect x="22.50" y="206.20" width="23.47" height="13.74" fill="#f3dadd"/>
<rect x="45.97" y="206.20" width="23.47" height="13.74" fill="#f8eff1"/>
<rect x="69.44" y="206.20" width="23.47" height="13.74" fill="#d4242a"/>
<rect x="92.91" y="206.20" width="23.47" height="13.74" fill="#e3a1a6"/>
<text transform="translate(120,214.7) scale(0.9,1)" class="hl">Plasma cell vs IgM memory B cell</text>
<rect x="22.50" y="219.94" width="23.47" height="13.74" fill="#f1d3d6"/>
<rect x="45.97" y="219.94" width="23.47" height="13.74" fill="#f6e6e8"/>
<rect x="69.44" y="219.94" width="23.47" height="13.74" fill="#d8464b"/>
<rect x="92.91" y="219.94" width="23.47" height="13.74" fill="#f0cfd2"/>
<text transform="translate(120,228.4) scale(0.9,1)" class="hl">Plasma cell vs naive B cell</text>
<rect x="22.50" y="233.68" width="23.47" height="13.74" fill="#e7eaf4"/>
<rect x="45.97" y="233.68" width="23.47" height="13.74" fill="#e4e8f3"/>
<rect x="69.44" y="233.68" width="23.47" height="13.74" fill="#dc6569"/>
<rect x="92.91" y="233.68" width="23.47" height="13.74" fill="#e07e83"/>
<text transform="translate(120,242.1) scale(0.9,1)" class="hl">Myc-dependent APC targets</text>
<rect x="22.50" y="247.42" width="23.47" height="13.74" fill="#f9f1f2"/>
<rect x="45.97" y="247.42" width="23.47" height="13.74" fill="#f5e5e7"/>
<rect x="69.44" y="247.42" width="23.47" height="13.74" fill="#d6444a"/>
<rect x="92.91" y="247.42" width="23.47" height="13.74" fill="#d5272c"/>
<text transform="translate(120,255.9) scale(0.9,1)" class="hl">16p13 amplification in breast cancer</text>
<rect x="22.50" y="261.16" width="23.47" height="13.74" fill="#e7e8f4"/>
<rect x="45.97" y="261.16" width="23.47" height="13.74" fill="#edc6c9"/>
<rect x="69.44" y="261.16" width="23.47" height="13.74" fill="#f3dde0"/>
<rect x="92.91" y="261.16" width="23.47" height="13.74" fill="#d52a2f"/>
<text transform="translate(120,269.6) scale(0.9,1)" class="hl">CLL poor prognosis</text>
<rect x="22.50" y="274.90" width="23.47" height="13.74" fill="#dc5a5c"/>
<rect x="45.97" y="274.90" width="23.47" height="13.74" fill="#e7a8ab"/>
<rect x="69.44" y="274.90" width="23.47" height="13.74" fill="#4458b0"/>
<rect x="92.91" y="274.90" width="23.47" height="13.74" fill="#f6e6e8"/>
<text transform="translate(120,283.4) scale(0.9,1)" class="hl">Hematopoietic stem cell maintenance</text>
<rect x="22.50" y="288.64" width="23.47" height="13.74" fill="#da4749"/>
<rect x="45.97" y="288.64" width="23.47" height="13.74" fill="#f6e0e2"/>
<rect x="69.44" y="288.64" width="23.47" height="13.74" fill="#4357ad"/>
<rect x="92.91" y="288.64" width="23.47" height="13.74" fill="#e5e7f3"/>
<text transform="translate(120,297.1) scale(0.9,1)" class="hl">HBV response genes</text>
<rect x="22.50" y="302.38" width="23.47" height="13.74" fill="#c3c7e4"/>
<rect x="45.97" y="302.38" width="23.47" height="13.74" fill="#4055ad"/>
<rect x="69.44" y="302.38" width="23.47" height="13.74" fill="#b9bee0"/>
<rect x="92.91" y="302.38" width="23.47" height="13.74" fill="#4055ad"/>
<text transform="translate(120,310.9) scale(0.9,1)" class="hl">CD5 targets downregulated</text>
<rect x="22.50" y="316.12" width="23.47" height="13.74" fill="#c1c5e3"/>
<rect x="45.97" y="316.12" width="23.47" height="13.74" fill="#4055ad"/>
<rect x="69.44" y="316.12" width="23.47" height="13.74" fill="#c8cce7"/>
<rect x="92.91" y="316.12" width="23.47" height="13.74" fill="#4055ad"/>
<text transform="translate(120,324.6) scale(0.9,1)" class="hl">Parvin-&#946; targets downregulated</text>
<rect x="22.50" y="329.86" width="23.47" height="13.74" fill="#495cb1"/>
<rect x="45.97" y="329.86" width="23.47" height="13.74" fill="#4357ae"/>
<rect x="69.44" y="329.86" width="23.47" height="13.74" fill="#6b79bd"/>
<rect x="92.91" y="329.86" width="23.47" height="13.74" fill="#4055ad"/>
<text transform="translate(120,338.3) scale(0.9,1)" class="hl">Breast cancer ATM network</text>
<rect x="22.50" y="343.60" width="23.47" height="13.74" fill="#4157ad"/>
<rect x="45.97" y="343.60" width="23.47" height="13.74" fill="#4256ae"/>
<rect x="69.44" y="343.60" width="23.47" height="13.74" fill="#d0d3ea"/>
<rect x="92.91" y="343.60" width="23.47" height="13.74" fill="#4055ad"/>
<text transform="translate(120,352.1) scale(0.9,1)" class="hl">Breast cancer CHEK2 network</text>
<line x1="22.50" y1="206.20" x2="116.38" y2="206.20" stroke="#222" stroke-width="0.8"/>
<line x1="22.50" y1="219.94" x2="116.38" y2="219.94" stroke="#222" stroke-width="0.8"/>
<line x1="22.50" y1="233.68" x2="116.38" y2="233.68" stroke="#222" stroke-width="0.8"/>
<line x1="22.50" y1="247.42" x2="116.38" y2="247.42" stroke="#222" stroke-width="0.8"/>
<line x1="22.50" y1="261.16" x2="116.38" y2="261.16" stroke="#222" stroke-width="0.8"/>
<line x1="22.50" y1="274.90" x2="116.38" y2="274.90" stroke="#222" stroke-width="0.8"/>
<line x1="22.50" y1="288.64" x2="116.38" y2="288.64" stroke="#222" stroke-width="0.8"/>
<line x1="22.50" y1="302.38" x2="116.38" y2="302.38" stroke="#222" stroke-width="0.8"/>
<line x1="22.50" y1="316.12" x2="116.38" y2="316.12" stroke="#222" stroke-width="0.8"/>
<line x1="22.50" y1="329.86" x2="116.38" y2="329.86" stroke="#222" stroke-width="0.8"/>
<line x1="22.50" y1="343.60" x2="116.38" y2="343.60" stroke="#222" stroke-width="0.8"/>
<line x1="22.50" y1="357.34" x2="116.38" y2="357.34" stroke="#222" stroke-width="0.8"/>
<line x1="22.50" y1="206.20" x2="22.50" y2="357.34" stroke="#222" stroke-width="0.8"/>
<line x1="45.97" y1="206.20" x2="45.97" y2="357.34" stroke="#222" stroke-width="0.8"/>
<line x1="69.44" y1="206.20" x2="69.44" y2="357.34" stroke="#222" stroke-width="0.8"/>
<line x1="92.91" y1="206.20" x2="92.91" y2="357.34" stroke="#222" stroke-width="0.8"/>
<line x1="116.38" y1="206.20" x2="116.38" y2="357.34" stroke="#222" stroke-width="0.8"/>
<text transform="translate(38.2,361.5) rotate(-45)" text-anchor="end" class="cl">sBL</text>
<text transform="translate(61.7,361.5) rotate(-45)" text-anchor="end" class="cl">AR BL</text>
<text transform="translate(79.7,365) rotate(-45)" text-anchor="end" class="cl">AR</text>
<text transform="translate(87.7,368) rotate(-45)" text-anchor="end" class="cl">DLBCL</text>
<text transform="translate(108.6,361.5) rotate(-45)" text-anchor="end" class="cl">LCL</text>
<defs><linearGradient id="gb" x1="0" x2="1"><stop offset="0" stop-color="#ffffff"/><stop offset="0.5" stop-color="#8e98cc"/><stop offset="1" stop-color="#3a4cab"/></linearGradient><linearGradient id="gr" x1="0" x2="1"><stop offset="0" stop-color="#ffffff"/><stop offset="0.5" stop-color="#e3868a"/><stop offset="1" stop-color="#d2232b"/></linearGradient></defs>
<rect x="10.6" y="391.9" width="66.6" height="13.1" fill="url(#gb)" stroke="#222" stroke-width="0.8"/>
<line x1="10.6" y1="405" x2="10.6" y2="408.3" stroke="#222" stroke-width="0.7"/>
<text x="10.6" y="415" text-anchor="middle" style="font-size:5.4px;stroke-width:0.1px">0</text>
<line x1="32.7" y1="405" x2="32.7" y2="408.3" stroke="#222" stroke-width="0.7"/>
<text x="32.7" y="415" text-anchor="middle" style="font-size:5.4px;stroke-width:0.1px">5</text>
<line x1="54.8" y1="405" x2="54.8" y2="408.3" stroke="#222" stroke-width="0.7"/>
<text x="54.8" y="415" text-anchor="middle" style="font-size:5.4px;stroke-width:0.1px">10</text>
<line x1="76.9" y1="405" x2="76.9" y2="408.3" stroke="#222" stroke-width="0.7"/>
<text x="76.9" y="415" text-anchor="middle" style="font-size:5.4px;stroke-width:0.1px">15</text>
<rect x="101.2" y="391.9" width="66.6" height="13.1" fill="url(#gr)" stroke="#222" stroke-width="0.8"/>
<line x1="101.2" y1="405" x2="101.2" y2="408.3" stroke="#222" stroke-width="0.7"/>
<text x="101.2" y="415" text-anchor="middle" style="font-size:5.4px;stroke-width:0.1px">0</text>
<line x1="123.3" y1="405" x2="123.3" y2="408.3" stroke="#222" stroke-width="0.7"/>
<text x="123.3" y="415" text-anchor="middle" style="font-size:5.4px;stroke-width:0.1px">5</text>
<line x1="145.4" y1="405" x2="145.4" y2="408.3" stroke="#222" stroke-width="0.7"/>
<text x="145.4" y="415" text-anchor="middle" style="font-size:5.4px;stroke-width:0.1px">10</text>
<line x1="167.5" y1="405" x2="167.5" y2="408.3" stroke="#222" stroke-width="0.7"/>
<text x="167.5" y="415" text-anchor="middle" style="font-size:5.4px;stroke-width:0.1px">15</text>
<text x="3.4" y="424.5" style="font-size:8px">Downregulated (-log<tspan style="font-size:4.3px;stroke-width:0.1px" dy="2.4">10</tspan><tspan dy="-2.4"> </tspan><tspan font-style="italic">p</tspan>)</text>
<text x="98.9" y="425.9" style="font-size:8px">Upregulated (-log<tspan style="font-size:4.3px;stroke-width:0.1px" dy="2.4">10</tspan><tspan dy="-2.4"> </tspan><tspan font-style="italic">p</tspan>)</text>
</svg></body></html>
